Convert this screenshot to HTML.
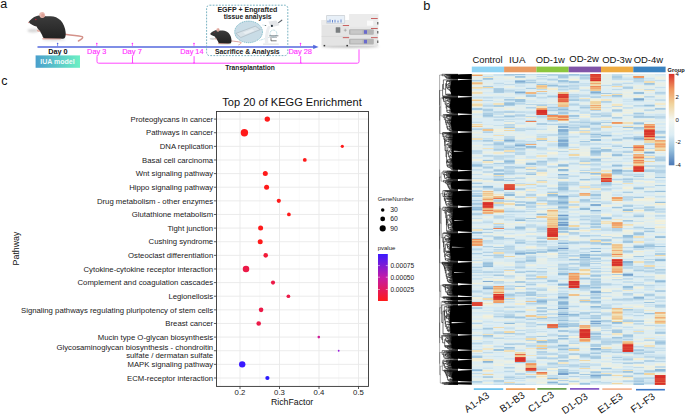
<!DOCTYPE html><html><head><meta charset="utf-8"><style>html,body{margin:0;padding:0;background:#fff;width:685px;height:415px;overflow:hidden}svg{display:block}</style></head><body><svg width="685" height="415" viewBox="0 0 685 415"><defs><filter id="blur1" x="-50%" y="-50%" width="200%" height="200%"><feGaussianBlur stdDeviation="0.8"/></filter><filter id="blur05" x="-20%" y="-20%" width="140%" height="140%"><feGaussianBlur stdDeviation="0.35"/></filter><linearGradient id="mg" x1="0" y1="0" x2="0" y2="1"><stop offset="0" stop-color="#3c3c3c"/><stop offset="1" stop-color="#222"/></linearGradient><linearGradient id="iua" x1="0" y1="0" x2="1" y2="0"><stop offset="0" stop-color="#4a9fcc"/><stop offset="1" stop-color="#6cf0c4"/></linearGradient><linearGradient id="pv" x1="0" y1="0" x2="0" y2="1"><stop offset="0" stop-color="#3a1aff"/><stop offset="0.5" stop-color="#c41aa8"/><stop offset="1" stop-color="#ff1a1a"/></linearGradient><linearGradient id="hl" x1="0" y1="0" x2="0" y2="1"><stop offset="0" stop-color="#d8302a"/><stop offset="0.1667" stop-color="#f09860"/><stop offset="0.333" stop-color="#f0d49e"/><stop offset="0.5" stop-color="#f3f6f0"/><stop offset="0.667" stop-color="#dcedf4"/><stop offset="0.833" stop-color="#94bedb"/><stop offset="1" stop-color="#4a78b6"/></linearGradient></defs><text x="0.37" y="7.60" font-size="12.50" font-family="Liberation Sans" fill="#111" >a</text><text x="423.18" y="9.80" font-size="12.80" font-family="Liberation Sans" fill="#111" >b</text><text x="1.37" y="85.00" font-size="12.50" font-family="Liberation Sans" fill="#111" >c</text><g transform="translate(0,0) scale(1.0)"><ellipse cx="33" cy="30.6" rx="5.5" ry="1.9" fill="#c4c4c4" opacity="0.7" filter="url(#blur1)"/><ellipse cx="54" cy="39.6" rx="12" ry="1.3" fill="#d0d0d0" opacity="0.7" filter="url(#blur1)"/><path d="M64.5,34.2 C71,34.9 77,35.6 82.2,36.6 C83.6,37.6 81.8,39.4 78.4,41.0" fill="none" stroke="#d4928a" stroke-width="1.45" stroke-linecap="round"/><path d="M42,38.9 C43,37 46,36.4 50,36.9 L60.8,37.2 C61.6,38 61.4,39 60.5,39.4 L43,39.6 Z" fill="#e0a8a0"/><path d="M28.5,22.3 C30,20 33,17.2 36.8,16.1 C38.5,15.5 40,15.2 41.5,15.3 C45,16.6 47.5,16.2 50,16.2 C54,16 57.7,17.5 60.8,20.5 C63.5,23.5 65.3,28 65.6,32 C65.9,35 65.6,37 64.5,38.2 C63,38.8 61.6,38.8 60,38.6 L45,38.3 C43.4,37.8 42.6,37.3 42.3,35.5 C41,33 39.5,30.5 37.9,28.8 C37.2,27.8 36.8,27 36.6,26.6 C34,25.8 31,24.8 28.5,22.3 Z" fill="url(#mg)"/><path d="M36.6,29.4 C37.8,29.6 39.6,30.2 40.6,31.4 C39.6,32 38.2,31.8 37.2,31.2 Z" fill="#e2a89c"/><ellipse cx="42.2" cy="15.0" rx="2.9" ry="3.0" fill="#e9b9b0" transform="rotate(-20 42.2 15.0)"/><ellipse cx="42.8" cy="15.6" rx="1.6" ry="2.0" fill="#daa096" transform="rotate(-20 42.8 15.6)"/><circle cx="28.7" cy="22.4" r="0.75" fill="#e6a6a0"/><circle cx="35.8" cy="19.5" r="0.75" fill="#c0203a"/></g><path d="M37.5,46.9 L314,46.9" stroke="#5468de" stroke-width="1.55"/><path d="M313.2,44.7 L318.6,46.9 L313.2,49.1 Z" fill="#5468de"/><path d="M57.6,43.6 L57.6,46.3" stroke="#5468de" stroke-width="0.7"/><circle cx="57.6" cy="43.5" r="0.8" fill="#5468de"/><path d="M96.8,43.6 L96.8,46.3" stroke="#ff33ff" stroke-width="0.7"/><circle cx="96.8" cy="43.5" r="0.8" fill="#ff33ff"/><path d="M132.4,43.6 L132.4,46.3" stroke="#ff33ff" stroke-width="0.7"/><circle cx="132.4" cy="43.5" r="0.8" fill="#ff33ff"/><path d="M194.0,43.6 L194.0,46.3" stroke="#ff33ff" stroke-width="0.7"/><circle cx="194.0" cy="43.5" r="0.8" fill="#ff33ff"/><path d="M300.5,43.6 L300.5,46.3" stroke="#ff33ff" stroke-width="0.7"/><circle cx="300.5" cy="43.5" r="0.8" fill="#ff33ff"/><text x="48.21" y="53.70" font-size="7.30" font-weight="bold" font-family="Liberation Sans" fill="#111" >Day 0</text><text x="87.10" y="53.70" font-size="7.36" font-family="Liberation Sans" fill="#ff33ff" stroke="#ff33ff" stroke-width="0.15">Day 3</text><text x="122.18" y="53.70" font-size="7.54" font-family="Liberation Sans" fill="#ff33ff" stroke="#ff33ff" stroke-width="0.15">Day 7</text><text x="180.30" y="53.70" font-size="7.33" font-family="Liberation Sans" fill="#ff33ff" stroke="#ff33ff" stroke-width="0.15">Day 14</text><text x="288.39" y="53.70" font-size="7.46" font-family="Liberation Sans" fill="#ff33ff" stroke="#ff33ff" stroke-width="0.15">Day 28</text><rect x="35.6" y="55.4" width="44.4" height="12.4" fill="url(#iua)" filter="url(#blur05)"/><text x="40.23" y="63.90" font-size="7.01" font-weight="bold" font-family="Liberation Sans" fill="#fff" fill-opacity="0.92">IUA model</text><path d="M97,56.2 L97,61.6 Q97,63.2 98.6,63.2 L357.4,63.2 Q359,63.2 359,61.6 L359,49.4" fill="none" stroke="#ff33ff" stroke-width="0.9"/><path d="M132.5,56.2 L132.5,62.4 Q132.5,63.2 133.3,63.2 M132.5,62.4 Q132.5,63.2 131.7,63.2" fill="none" stroke="#ff33ff" stroke-width="0.9"/><path d="M194.1,56.2 L194.1,62.4 Q194.1,63.2 194.9,63.2 M194.1,62.4 Q194.1,63.2 193.29999999999998,63.2" fill="none" stroke="#ff33ff" stroke-width="0.9"/><path d="M300.7,56.2 L300.7,62.4 Q300.7,63.2 301.5,63.2 M300.7,62.4 Q300.7,63.2 299.9,63.2" fill="none" stroke="#ff33ff" stroke-width="0.9"/><text x="225.33" y="69.60" font-size="6.66" font-weight="bold" font-family="Liberation Sans" fill="#222" >Transplantation</text><rect x="206.6" y="5.2" width="81.2" height="50.4" rx="3" ry="3" fill="none" stroke="#6aaabb" stroke-width="0.9" stroke-dasharray="1.8,1.3"/><text x="217.43" y="12.40" font-size="7.06" font-weight="bold" font-family="Liberation Sans" fill="#222" >EGFP + Engrafted</text><text x="223.72" y="19.00" font-size="6.73" font-weight="bold" font-family="Liberation Sans" fill="#222" >tissue analysis</text><text x="215.00" y="53.80" font-size="6.79" font-weight="bold" font-family="Liberation Sans" fill="#222" >Sacrifice &amp; Analysis</text><g transform="translate(193.7,21.2) scale(0.575)"><ellipse cx="33" cy="30.6" rx="5.5" ry="1.9" fill="#c4c4c4" opacity="0.7" filter="url(#blur1)"/><ellipse cx="54" cy="39.6" rx="12" ry="1.3" fill="#d0d0d0" opacity="0.7" filter="url(#blur1)"/><path d="M64.5,34.2 C71,34.9 77,35.6 82.2,36.6 C83.6,37.6 81.8,39.4 78.4,41.0" fill="none" stroke="#d4928a" stroke-width="1.45" stroke-linecap="round"/><path d="M42,38.9 C43,37 46,36.4 50,36.9 L60.8,37.2 C61.6,38 61.4,39 60.5,39.4 L43,39.6 Z" fill="#e0a8a0"/><path d="M28.5,22.3 C30,20 33,17.2 36.8,16.1 C38.5,15.5 40,15.2 41.5,15.3 C45,16.6 47.5,16.2 50,16.2 C54,16 57.7,17.5 60.8,20.5 C63.5,23.5 65.3,28 65.6,32 C65.9,35 65.6,37 64.5,38.2 C63,38.8 61.6,38.8 60,38.6 L45,38.3 C43.4,37.8 42.6,37.3 42.3,35.5 C41,33 39.5,30.5 37.9,28.8 C37.2,27.8 36.8,27 36.6,26.6 C34,25.8 31,24.8 28.5,22.3 Z" fill="url(#mg)"/><path d="M36.6,29.4 C37.8,29.6 39.6,30.2 40.6,31.4 C39.6,32 38.2,31.8 37.2,31.2 Z" fill="#e2a89c"/><ellipse cx="42.2" cy="15.0" rx="2.9" ry="3.0" fill="#e9b9b0" transform="rotate(-20 42.2 15.0)"/><ellipse cx="42.8" cy="15.6" rx="1.6" ry="2.0" fill="#daa096" transform="rotate(-20 42.8 15.6)"/><circle cx="28.7" cy="22.4" r="0.75" fill="#e6a6a0"/><circle cx="35.8" cy="19.5" r="0.75" fill="#c0203a"/></g><ellipse cx="248.6" cy="31.9" rx="13.9" ry="10.8" fill="#c9dce6" stroke="#5aa8b8" stroke-width="0.75" stroke-dasharray="1.1,0.8"/><path d="M236,33.4 L255.3,26.2 L260.3,29.5 L240.8,37.5 Z" fill="#d9e3e9" stroke="#98a6ae" stroke-width="0.45"/><path d="M243,32.6 L252,29.2 L254.5,30.8 L245.5,34.3 Z" fill="#e8eef2"/><path d="M262.6,25 L265.7,25.6 M259.5,40.4 L268.8,37.4" stroke="#5aa8b8" stroke-width="0.45" stroke-dasharray="0.9,0.6"/><g><rect x="263" y="43.4" width="15.8" height="1.4" rx="0.4" fill="#e2e4e6"/><path d="M265,43.4 C264.6,37 265.5,30 268.2,25.8 L270.6,26.6 C268.6,31 267.8,37 268.4,43.4 Z" fill="#eceef0"/><path d="M268.4,21.6 L276.2,20.4 L279.6,25.2 L271,27.2 Z" fill="#e4e6e9"/><path d="M278.6,22.6 L281.8,20.2" stroke="#5a6068" stroke-width="1.1" stroke-linecap="round"/><circle cx="271.9" cy="25.9" r="1.05" fill="#26303a"/><circle cx="265.7" cy="25.5" r="0.5" fill="#333"/><circle cx="273.4" cy="33.5" r="3.4" fill="none" stroke="#5aa8b8" stroke-width="0.5" stroke-dasharray="0.9,0.6"/><path d="M269.2,35.8 L278.4,35.8" stroke="#2f3a44" stroke-width="0.6"/><path d="M269.6,37.3 L277,37.3" stroke="#4a5560" stroke-width="0.45"/><path d="M271,38.2 L271,40.8 L276.6,40.8" fill="none" stroke="#333" stroke-width="0.65"/></g><ellipse cx="350" cy="46.3" rx="29" ry="1.7" fill="#b8b8b8" opacity="0.8" filter="url(#blur1)"/><g><rect x="321.5" y="20.1" width="28" height="25.3" fill="#e4e4e4"/><rect x="321.5" y="20.1" width="28" height="5" fill="#ececec"/><path d="M321.5,36.4 L349.5,36.4" stroke="#cfcfcf" stroke-width="0.5"/><rect x="326.1" y="15.1" width="19" height="8.6" rx="0.8" fill="#d0d4d8"/><rect x="326.9" y="15.9" width="17.4" height="7" fill="#e8f0f8"/><path d="M328,22.5 L328,20.5 M330,22.5 L330,19.5 M332.5,22.5 L332.5,20 M335,22.5 L335,19.8 M338,22.5 L338,20.5 M341,22.5 L341,19.5" stroke="#5a7cc8" stroke-width="0.9"/><rect x="335.7" y="27.2" width="4.6" height="5.6" rx="0.5" fill="#7a7e80"/><path d="M343.8,30.2 L346.8,30.2 M345.3,28.7 L345.3,31.7" stroke="#9a9a9a" stroke-width="0.6"/><rect x="342.8" y="25.1" width="6.6" height="0.8" fill="#c04040"/><rect x="342.8" y="37.3" width="6.6" height="0.8" fill="#c04040"/><rect x="349.4" y="14" width="28.8" height="31.9" fill="#e6e6e6"/><rect x="349.4" y="14" width="28.8" height="12.7" fill="#ebebeb"/><rect x="371" y="18.1" width="6.7" height="0.8" fill="#c04040"/><rect x="367" y="20.6" width="6.2" height="5.1" fill="#fafafa"/><rect x="371" y="28" width="6.7" height="0.8" fill="#c04040"/><rect x="371" y="37.3" width="6.7" height="0.8" fill="#c04040"/><rect x="349" y="29.2" width="24.8" height="5.6" rx="1" fill="#b4b4b4"/><rect x="349" y="38.8" width="24.8" height="5.6" rx="1" fill="#b4b4b4"/><rect x="350.5" y="30.2" width="12" height="3.6" fill="#c8c8c8"/><rect x="350.5" y="39.8" width="12" height="3.6" fill="#c8c8c8"/><rect x="364" y="30.2" width="3" height="3.6" fill="#6a6acc"/><rect x="364" y="39.8" width="3" height="3.6" fill="#6a6acc"/><rect x="323.6" y="44.9" width="1.6" height="1.5" fill="#333"/><rect x="346.4" y="44.9" width="1.6" height="1.5" fill="#333"/><rect x="377.3" y="22" width="1" height="2.5" fill="#444"/><rect x="377.3" y="31" width="1" height="2.5" fill="#444"/><rect x="377.3" y="40.5" width="1" height="2.5" fill="#444"/></g><path d="M220.25,111.5 L220.25,386.4" stroke="#f3f3f3" stroke-width="0.5"/><path d="M259.75,111.5 L259.75,386.4" stroke="#f3f3f3" stroke-width="0.5"/><path d="M299.25,111.5 L299.25,386.4" stroke="#f3f3f3" stroke-width="0.5"/><path d="M338.75,111.5 L338.75,386.4" stroke="#f3f3f3" stroke-width="0.5"/><path d="M240.00,111.5 L240.00,386.4" stroke="#e9e9e9" stroke-width="0.9"/><path d="M279.50,111.5 L279.50,386.4" stroke="#e9e9e9" stroke-width="0.9"/><path d="M319.00,111.5 L319.00,386.4" stroke="#e9e9e9" stroke-width="0.9"/><path d="M358.50,111.5 L358.50,386.4" stroke="#e9e9e9" stroke-width="0.9"/><path d="M216.5,119.10 L368.5,119.10" stroke="#e9e9e9" stroke-width="0.9"/><path d="M216.5,132.72 L368.5,132.72" stroke="#e9e9e9" stroke-width="0.9"/><path d="M216.5,146.35 L368.5,146.35" stroke="#e9e9e9" stroke-width="0.9"/><path d="M216.5,159.97 L368.5,159.97" stroke="#e9e9e9" stroke-width="0.9"/><path d="M216.5,173.60 L368.5,173.60" stroke="#e9e9e9" stroke-width="0.9"/><path d="M216.5,187.22 L368.5,187.22" stroke="#e9e9e9" stroke-width="0.9"/><path d="M216.5,200.85 L368.5,200.85" stroke="#e9e9e9" stroke-width="0.9"/><path d="M216.5,214.47 L368.5,214.47" stroke="#e9e9e9" stroke-width="0.9"/><path d="M216.5,228.10 L368.5,228.10" stroke="#e9e9e9" stroke-width="0.9"/><path d="M216.5,241.72 L368.5,241.72" stroke="#e9e9e9" stroke-width="0.9"/><path d="M216.5,255.35 L368.5,255.35" stroke="#e9e9e9" stroke-width="0.9"/><path d="M216.5,268.98 L368.5,268.98" stroke="#e9e9e9" stroke-width="0.9"/><path d="M216.5,282.60 L368.5,282.60" stroke="#e9e9e9" stroke-width="0.9"/><path d="M216.5,296.23 L368.5,296.23" stroke="#e9e9e9" stroke-width="0.9"/><path d="M216.5,309.85 L368.5,309.85" stroke="#e9e9e9" stroke-width="0.9"/><path d="M216.5,323.48 L368.5,323.48" stroke="#e9e9e9" stroke-width="0.9"/><path d="M216.5,337.10 L368.5,337.10" stroke="#e9e9e9" stroke-width="0.9"/><path d="M216.5,350.73 L368.5,350.73" stroke="#e9e9e9" stroke-width="0.9"/><path d="M216.5,364.35 L368.5,364.35" stroke="#e9e9e9" stroke-width="0.9"/><path d="M216.5,377.98 L368.5,377.98" stroke="#e9e9e9" stroke-width="0.9"/><rect x="216.5" y="111.5" width="152.0" height="274.9" fill="none" stroke="#333" stroke-width="0.9"/><path d="M213.9,119.10 L216.5,119.10" stroke="#333" stroke-width="0.8"/><text x="213.2" y="121.85" font-size="7.75" text-anchor="end" font-family="Liberation Sans" fill="#1a1a1a">Proteoglycans in cancer</text><path d="M213.9,132.72 L216.5,132.72" stroke="#333" stroke-width="0.8"/><text x="213.2" y="135.47" font-size="7.75" text-anchor="end" font-family="Liberation Sans" fill="#1a1a1a">Pathways in cancer</text><path d="M213.9,146.35 L216.5,146.35" stroke="#333" stroke-width="0.8"/><text x="213.2" y="149.10" font-size="7.75" text-anchor="end" font-family="Liberation Sans" fill="#1a1a1a">DNA replication</text><path d="M213.9,159.97 L216.5,159.97" stroke="#333" stroke-width="0.8"/><text x="213.2" y="162.72" font-size="7.75" text-anchor="end" font-family="Liberation Sans" fill="#1a1a1a">Basal cell carcinoma</text><path d="M213.9,173.60 L216.5,173.60" stroke="#333" stroke-width="0.8"/><text x="213.2" y="176.35" font-size="7.75" text-anchor="end" font-family="Liberation Sans" fill="#1a1a1a">Wnt signaling pathway</text><path d="M213.9,187.22 L216.5,187.22" stroke="#333" stroke-width="0.8"/><text x="213.2" y="189.97" font-size="7.75" text-anchor="end" font-family="Liberation Sans" fill="#1a1a1a">Hippo signaling pathway</text><path d="M213.9,200.85 L216.5,200.85" stroke="#333" stroke-width="0.8"/><text x="213.2" y="203.60" font-size="7.75" text-anchor="end" font-family="Liberation Sans" fill="#1a1a1a">Drug metabolism - other enzymes</text><path d="M213.9,214.47 L216.5,214.47" stroke="#333" stroke-width="0.8"/><text x="213.2" y="217.22" font-size="7.75" text-anchor="end" font-family="Liberation Sans" fill="#1a1a1a">Glutathione metabolism</text><path d="M213.9,228.10 L216.5,228.10" stroke="#333" stroke-width="0.8"/><text x="213.2" y="230.85" font-size="7.75" text-anchor="end" font-family="Liberation Sans" fill="#1a1a1a">Tight junction</text><path d="M213.9,241.72 L216.5,241.72" stroke="#333" stroke-width="0.8"/><text x="213.2" y="244.47" font-size="7.75" text-anchor="end" font-family="Liberation Sans" fill="#1a1a1a">Cushing syndrome</text><path d="M213.9,255.35 L216.5,255.35" stroke="#333" stroke-width="0.8"/><text x="213.2" y="258.10" font-size="7.75" text-anchor="end" font-family="Liberation Sans" fill="#1a1a1a">Osteoclast differentiation</text><path d="M213.9,268.98 L216.5,268.98" stroke="#333" stroke-width="0.8"/><text x="213.2" y="271.73" font-size="7.75" text-anchor="end" font-family="Liberation Sans" fill="#1a1a1a">Cytokine-cytokine receptor interaction</text><path d="M213.9,282.60 L216.5,282.60" stroke="#333" stroke-width="0.8"/><text x="213.2" y="285.35" font-size="7.75" text-anchor="end" font-family="Liberation Sans" fill="#1a1a1a">Complement and coagulation cascades</text><path d="M213.9,296.23 L216.5,296.23" stroke="#333" stroke-width="0.8"/><text x="213.2" y="298.98" font-size="7.75" text-anchor="end" font-family="Liberation Sans" fill="#1a1a1a">Legionellosis</text><path d="M213.9,309.85 L216.5,309.85" stroke="#333" stroke-width="0.8"/><text x="213.2" y="312.60" font-size="7.75" text-anchor="end" font-family="Liberation Sans" fill="#1a1a1a">Signaling pathways regulating pluripotency of stem cells</text><path d="M213.9,323.48 L216.5,323.48" stroke="#333" stroke-width="0.8"/><text x="213.2" y="326.23" font-size="7.75" text-anchor="end" font-family="Liberation Sans" fill="#1a1a1a">Breast cancer</text><path d="M213.9,337.10 L216.5,337.10" stroke="#333" stroke-width="0.8"/><text x="213.2" y="339.85" font-size="7.75" text-anchor="end" font-family="Liberation Sans" fill="#1a1a1a">Mucin type O-glycan biosynthesis</text><path d="M213.9,350.73 L216.5,350.73" stroke="#333" stroke-width="0.8"/><path d="M213.9,364.35 L216.5,364.35" stroke="#333" stroke-width="0.8"/><text x="213.2" y="367.10" font-size="7.75" text-anchor="end" font-family="Liberation Sans" fill="#1a1a1a">MAPK signaling pathway</text><path d="M213.9,377.98 L216.5,377.98" stroke="#333" stroke-width="0.8"/><text x="213.2" y="380.73" font-size="7.75" text-anchor="end" font-family="Liberation Sans" fill="#1a1a1a">ECM-receptor interaction</text><text x="213.2" y="349.53" font-size="7.75" text-anchor="end" font-family="Liberation Sans" fill="#1a1a1a">Glycosaminoglycan biosynthesis - chondroitin</text><text x="213.2" y="357.62" font-size="7.75" text-anchor="end" font-family="Liberation Sans" fill="#1a1a1a">sulfate / dermatan sulfate</text><path d="M240.00,386.4 L240.00,389.0" stroke="#333" stroke-width="0.8"/><text x="240.00" y="395.1" font-size="7.75" text-anchor="middle" font-family="Liberation Sans" fill="#1a1a1a">0.2</text><path d="M279.50,386.4 L279.50,389.0" stroke="#333" stroke-width="0.8"/><text x="279.50" y="395.1" font-size="7.75" text-anchor="middle" font-family="Liberation Sans" fill="#1a1a1a">0.3</text><path d="M319.00,386.4 L319.00,389.0" stroke="#333" stroke-width="0.8"/><text x="319.00" y="395.1" font-size="7.75" text-anchor="middle" font-family="Liberation Sans" fill="#1a1a1a">0.4</text><path d="M358.50,386.4 L358.50,389.0" stroke="#333" stroke-width="0.8"/><text x="358.50" y="395.1" font-size="7.75" text-anchor="middle" font-family="Liberation Sans" fill="#1a1a1a">0.5</text><text x="270.88" y="404.60" font-size="8.78" font-family="Liberation Sans" fill="#111" >RichFactor</text><text x="222.35" y="105.80" font-size="11.05" font-family="Liberation Sans" fill="#111" >Top 20 of KEGG Enrichment</text><text transform="translate(18.60,248.50) rotate(-90)" font-size="8.8" text-anchor="middle" font-family="Liberation Sans" fill="#111">Pathway</text><circle cx="267.3" cy="119.10" r="2.7" fill="#ff1a1a"/><circle cx="244.4" cy="132.72" r="3.7" fill="#ff1a1a"/><circle cx="342.3" cy="146.35" r="1.6" fill="#ff1a1a"/><circle cx="304.8" cy="159.97" r="1.9" fill="#ff1a1a"/><circle cx="265.3" cy="173.60" r="2.5" fill="#ff1a1a"/><circle cx="266.6" cy="187.22" r="2.5" fill="#ff1a1a"/><circle cx="278.8" cy="200.85" r="2.1" fill="#ff1a1a"/><circle cx="288.9" cy="214.47" r="1.85" fill="#ff1a1a"/><circle cx="260.6" cy="228.10" r="2.5" fill="#ff1a1a"/><circle cx="260.2" cy="241.72" r="2.5" fill="#ff1a1a"/><circle cx="265.7" cy="255.35" r="2.3" fill="#f21a38"/><circle cx="246.0" cy="268.98" r="3.25" fill="#ec1a48"/><circle cx="273.0" cy="282.60" r="2.05" fill="#ec1a48"/><circle cx="288.4" cy="296.23" r="1.85" fill="#ec1a48"/><circle cx="261.1" cy="309.85" r="2.3" fill="#ec1a48"/><circle cx="258.7" cy="323.48" r="2.3" fill="#ec1a48"/><circle cx="318.8" cy="337.10" r="1.3" fill="#d01a98"/><circle cx="338.7" cy="350.73" r="0.9" fill="#9a1ade"/><circle cx="242.2" cy="364.35" r="3.2" fill="#3a1aff"/><circle cx="267.4" cy="377.98" r="2.1" fill="#2a1aff"/><text x="377.7" y="201.2" font-size="6.0" font-family="Liberation Sans" fill="#1a1a1a">GeneNumber</text><circle cx="382.7" cy="209.9" r="1.75" fill="#000"/><text x="390.2" y="212.3" font-size="6.8" font-family="Liberation Sans" fill="#1a1a1a">30</text><circle cx="382.7" cy="218.9" r="2.4" fill="#000"/><text x="390.2" y="221.3" font-size="6.8" font-family="Liberation Sans" fill="#1a1a1a">60</text><circle cx="382.7" cy="228.4" r="3.05" fill="#000"/><text x="390.2" y="230.8" font-size="6.8" font-family="Liberation Sans" fill="#1a1a1a">90</text><text x="377.7" y="250.0" font-size="6.0" font-family="Liberation Sans" fill="#1a1a1a">pvalue</text><rect x="378" y="254" width="9.8" height="47" fill="url(#pv)"/><path d="M378,265.6 L380,265.6 M385.8,265.6 L387.8,265.6" stroke="#fff" stroke-width="0.5"/><text x="390.4" y="267.90000000000003" font-size="6.55" font-family="Liberation Sans" fill="#1a1a1a">0.00075</text><path d="M378,277.2 L380,277.2 M385.8,277.2 L387.8,277.2" stroke="#fff" stroke-width="0.5"/><text x="390.4" y="279.5" font-size="6.55" font-family="Liberation Sans" fill="#1a1a1a">0.00050</text><path d="M378,289.5 L380,289.5 M385.8,289.5 L387.8,289.5" stroke="#fff" stroke-width="0.5"/><text x="390.4" y="291.8" font-size="6.55" font-family="Liberation Sans" fill="#1a1a1a">0.00025</text><rect x="471.8" y="73.9" width="193.8" height="311.0" fill="#dcedf4"/><path fill="#5f8cc1" d="M557.9 247.9h10.77v1.0h-10.77z"/><path fill="#6d99c8" d="M557.9 214.9h10.77v1.0h-10.77zM557.9 223.9h10.77v1.0h-10.77z"/><path fill="#74a0cb" d="M557.9 221.9h10.77v1.0h-10.77zM557.9 224.9h10.77v1.0h-10.77zM557.9 307.9h10.77v1.0h-10.77zM557.9 313.9h10.77v1.0h-10.77zM557.9 372.9h10.77v2.0h-10.77zM622.5 273.9h10.77v1.0h-10.77z"/><path fill="#7ba7cf" d="M482.6 287.9h10.77v1.0h-10.77zM557.9 139.9h10.77v1.0h-10.77zM557.9 195.9h10.77v1.0h-10.77zM557.9 296.9h10.77v1.0h-10.77zM590.2 320.9h10.77v1.0h-10.77zM590.2 322.9h10.77v1.0h-10.77zM590.2 374.9h10.77v1.0h-10.77zM633.3 98.9h10.77v1.0h-10.77z"/><path fill="#82add2" d="M482.6 280.9h10.77v1.0h-10.77zM504.1 139.9h10.77v1.0h-10.77zM514.9 80.9h10.77v1.0h-10.77zM514.9 91.9h10.77v1.0h-10.77zM514.9 144.9h10.77v1.0h-10.77zM514.9 252.9h10.77v1.0h-10.77zM557.9 129.9h10.77v1.0h-10.77zM557.9 140.9h10.77v1.0h-10.77zM557.9 142.9h10.77v3.0h-10.77zM557.9 201.9h10.77v1.0h-10.77zM557.9 218.9h10.77v1.0h-10.77zM557.9 283.9h10.77v1.0h-10.77zM590.2 91.9h10.77v1.0h-10.77zM590.2 203.9h10.77v2.0h-10.77zM590.2 290.9h10.77v2.0h-10.77zM590.2 347.9h10.77v1.0h-10.77zM611.8 169.9h10.77v1.0h-10.77zM622.5 274.9h10.77v1.0h-10.77zM644.1 151.9h10.77v1.0h-10.77z"/><path fill="#89b4d6" d="M482.6 360.9h10.77v1.0h-10.77zM536.4 300.9h10.77v1.0h-10.77zM547.2 381.9h10.77v1.0h-10.77zM557.9 125.9h10.77v2.0h-10.77zM557.9 128.9h10.77v1.0h-10.77zM557.9 130.9h10.77v1.0h-10.77zM557.9 173.9h10.77v1.0h-10.77zM557.9 242.9h10.77v1.0h-10.77zM557.9 301.9h10.77v2.0h-10.77zM557.9 325.9h10.77v1.0h-10.77zM579.5 256.9h10.77v1.0h-10.77zM590.2 209.9h10.77v1.0h-10.77zM590.2 250.9h10.77v1.0h-10.77zM622.5 260.9h10.77v2.0h-10.77zM633.3 137.9h10.77v1.0h-10.77zM633.3 296.9h10.77v1.0h-10.77z"/><path fill="#90bbd9" d="M471.8 208.9h10.77v1.0h-10.77zM471.8 231.9h10.77v1.0h-10.77zM471.8 369.9h10.77v1.0h-10.77zM482.6 185.9h10.77v1.0h-10.77zM482.6 265.9h10.77v1.0h-10.77zM504.1 160.9h10.77v1.0h-10.77zM504.1 193.9h10.77v2.0h-10.77zM504.1 322.9h10.77v1.0h-10.77zM514.9 219.9h10.77v1.0h-10.77zM525.6 145.9h10.77v1.0h-10.77zM536.4 213.9h10.77v1.0h-10.77zM547.2 249.9h10.77v1.0h-10.77zM547.2 377.9h10.77v1.0h-10.77zM557.9 108.9h10.77v1.0h-10.77zM557.9 164.9h10.77v1.0h-10.77zM557.9 168.9h10.77v2.0h-10.77zM557.9 196.9h10.77v1.0h-10.77zM557.9 202.9h10.77v1.0h-10.77zM557.9 206.9h10.77v1.0h-10.77zM557.9 217.9h10.77v1.0h-10.77zM557.9 272.9h10.77v2.0h-10.77zM557.9 323.9h10.77v1.0h-10.77zM557.9 344.9h10.77v1.0h-10.77zM568.7 313.9h10.77v1.0h-10.77zM579.5 207.9h10.77v2.0h-10.77zM579.5 253.9h10.77v2.0h-10.77zM590.2 138.9h10.77v2.0h-10.77zM590.2 150.9h10.77v1.0h-10.77zM590.2 305.9h10.77v1.0h-10.77zM590.2 348.9h10.77v1.0h-10.77zM601.0 134.9h10.77v1.0h-10.77zM601.0 217.9h10.77v1.0h-10.77zM611.8 170.9h10.77v1.0h-10.77zM611.8 321.9h10.77v1.0h-10.77zM622.5 209.9h10.77v1.0h-10.77zM633.3 97.9h10.77v1.0h-10.77zM633.3 245.9h10.77v2.0h-10.77zM654.8 259.9h10.77v1.0h-10.77zM654.8 280.9h10.77v1.0h-10.77zM654.8 368.9h10.77v2.0h-10.77z"/><path fill="#97c0dc" d="M471.8 164.9h10.77v1.0h-10.77zM471.8 206.9h10.77v1.0h-10.77zM482.6 262.9h10.77v1.0h-10.77zM482.6 286.9h10.77v1.0h-10.77zM504.1 102.9h10.77v2.0h-10.77zM514.9 81.9h10.77v1.0h-10.77zM514.9 226.9h10.77v1.0h-10.77zM525.6 146.9h10.77v1.0h-10.77zM525.6 162.9h10.77v2.0h-10.77zM525.6 251.9h10.77v2.0h-10.77zM536.4 299.9h10.77v1.0h-10.77zM536.4 340.9h10.77v1.0h-10.77zM547.2 84.9h10.77v1.0h-10.77zM547.2 193.9h10.77v2.0h-10.77zM557.9 138.9h10.77v1.0h-10.77zM557.9 145.9h10.77v1.0h-10.77zM557.9 186.9h10.77v3.0h-10.77zM557.9 200.9h10.77v1.0h-10.77zM557.9 222.9h10.77v1.0h-10.77zM557.9 227.9h10.77v2.0h-10.77zM557.9 303.9h10.77v1.0h-10.77zM557.9 319.9h10.77v1.0h-10.77zM557.9 337.9h10.77v1.0h-10.77zM557.9 348.9h10.77v1.0h-10.77zM557.9 383.9h10.77v1.0h-10.77zM590.2 133.9h10.77v1.0h-10.77zM590.2 151.9h10.77v1.0h-10.77zM590.2 158.9h10.77v1.0h-10.77zM590.2 172.9h10.77v1.0h-10.77zM590.2 286.9h10.77v1.0h-10.77zM590.2 300.9h10.77v1.0h-10.77zM590.2 332.9h10.77v1.0h-10.77zM590.2 375.9h10.77v1.0h-10.77zM611.8 154.9h10.77v1.0h-10.77zM611.8 164.9h10.77v1.0h-10.77zM622.5 126.9h10.77v1.0h-10.77zM622.5 146.9h10.77v1.0h-10.77zM622.5 234.9h10.77v2.0h-10.77zM622.5 285.9h10.77v2.0h-10.77zM633.3 91.9h10.77v2.0h-10.77zM633.3 122.9h10.77v1.0h-10.77zM633.3 297.9h10.77v1.0h-10.77zM633.3 383.9h10.77v1.0h-10.77zM644.1 104.9h10.77v1.0h-10.77zM654.8 190.9h10.77v1.0h-10.77zM654.8 201.9h10.77v1.0h-10.77zM654.8 236.9h10.77v1.0h-10.77zM654.8 258.9h10.77v1.0h-10.77z"/><path fill="#9ec5df" d="M471.8 194.9h10.77v2.0h-10.77zM471.8 207.9h10.77v1.0h-10.77zM482.6 77.9h10.77v1.0h-10.77zM482.6 114.9h10.77v1.0h-10.77zM482.6 159.9h10.77v1.0h-10.77zM482.6 186.9h10.77v1.0h-10.77zM482.6 263.9h10.77v2.0h-10.77zM482.6 334.9h10.77v1.0h-10.77zM482.6 361.9h10.77v1.0h-10.77zM493.3 169.9h10.77v1.0h-10.77zM493.3 172.9h10.77v2.0h-10.77zM493.3 178.9h10.77v1.0h-10.77zM493.3 348.9h10.77v2.0h-10.77zM504.1 115.9h10.77v1.0h-10.77zM504.1 140.9h10.77v1.0h-10.77zM504.1 346.9h10.77v1.0h-10.77zM514.9 73.9h10.77v1.0h-10.77zM514.9 75.9h10.77v1.0h-10.77zM514.9 98.9h10.77v3.0h-10.77zM514.9 143.9h10.77v1.0h-10.77zM514.9 227.9h10.77v1.0h-10.77zM514.9 253.9h10.77v1.0h-10.77zM514.9 316.9h10.77v1.0h-10.77zM525.6 173.9h10.77v1.0h-10.77zM525.6 201.9h10.77v1.0h-10.77zM525.6 259.9h10.77v1.0h-10.77zM536.4 83.9h10.77v1.0h-10.77zM536.4 301.9h10.77v1.0h-10.77zM536.4 341.9h10.77v1.0h-10.77zM557.9 79.9h10.77v2.0h-10.77zM557.9 132.9h10.77v2.0h-10.77zM557.9 183.9h10.77v1.0h-10.77zM557.9 197.9h10.77v1.0h-10.77zM557.9 226.9h10.77v1.0h-10.77zM557.9 230.9h10.77v1.0h-10.77zM557.9 284.9h10.77v1.0h-10.77zM557.9 297.9h10.77v1.0h-10.77zM557.9 300.9h10.77v1.0h-10.77zM557.9 370.9h10.77v2.0h-10.77zM568.7 73.9h10.77v1.0h-10.77zM568.7 114.9h10.77v1.0h-10.77zM568.7 258.9h10.77v1.0h-10.77zM568.7 314.9h10.77v1.0h-10.77zM579.5 74.9h10.77v1.0h-10.77zM579.5 178.9h10.77v1.0h-10.77zM579.5 263.9h10.77v1.0h-10.77zM579.5 277.9h10.77v1.0h-10.77zM579.5 284.9h10.77v2.0h-10.77zM579.5 382.9h10.77v1.0h-10.77zM590.2 90.9h10.77v1.0h-10.77zM590.2 122.9h10.77v1.0h-10.77zM590.2 193.9h10.77v2.0h-10.77zM590.2 223.9h10.77v1.0h-10.77zM590.2 247.9h10.77v1.0h-10.77zM590.2 274.9h10.77v1.0h-10.77zM590.2 371.9h10.77v1.0h-10.77zM601.0 148.9h10.77v2.0h-10.77zM601.0 242.9h10.77v2.0h-10.77zM601.0 367.9h10.77v1.0h-10.77zM601.0 374.9h10.77v1.0h-10.77zM611.8 94.9h10.77v1.0h-10.77zM611.8 153.9h10.77v1.0h-10.77zM611.8 171.9h10.77v2.0h-10.77zM611.8 206.9h10.77v1.0h-10.77zM611.8 322.9h10.77v1.0h-10.77zM611.8 336.9h10.77v1.0h-10.77zM622.5 208.9h10.77v1.0h-10.77zM622.5 240.9h10.77v1.0h-10.77zM622.5 334.9h10.77v1.0h-10.77zM622.5 370.9h10.77v1.0h-10.77zM633.3 138.9h10.77v1.0h-10.77zM633.3 187.9h10.77v1.0h-10.77zM633.3 232.9h10.77v2.0h-10.77zM644.1 82.9h10.77v1.0h-10.77zM644.1 244.9h10.77v2.0h-10.77zM644.1 301.9h10.77v1.0h-10.77zM644.1 312.9h10.77v1.0h-10.77zM654.8 136.9h10.77v1.0h-10.77zM654.8 176.9h10.77v1.0h-10.77zM654.8 235.9h10.77v1.0h-10.77zM654.8 245.9h10.77v1.0h-10.77zM654.8 341.9h10.77v1.0h-10.77z"/><path fill="#a5c9e1" d="M471.8 107.9h10.77v2.0h-10.77zM471.8 163.9h10.77v1.0h-10.77zM471.8 182.9h10.77v1.0h-10.77zM471.8 202.9h10.77v1.0h-10.77zM471.8 237.9h10.77v1.0h-10.77zM471.8 355.9h10.77v2.0h-10.77zM471.8 368.9h10.77v1.0h-10.77zM482.6 139.9h10.77v1.0h-10.77zM482.6 285.9h10.77v1.0h-10.77zM482.6 327.9h10.77v1.0h-10.77zM493.3 88.9h10.77v3.0h-10.77zM493.3 142.9h10.77v2.0h-10.77zM493.3 179.9h10.77v1.0h-10.77zM493.3 236.9h10.77v1.0h-10.77zM493.3 274.9h10.77v1.0h-10.77zM504.1 73.9h10.77v1.0h-10.77zM504.1 98.9h10.77v1.0h-10.77zM504.1 126.9h10.77v1.0h-10.77zM504.1 138.9h10.77v1.0h-10.77zM504.1 146.9h10.77v1.0h-10.77zM504.1 159.9h10.77v1.0h-10.77zM504.1 161.9h10.77v1.0h-10.77zM504.1 179.9h10.77v1.0h-10.77zM504.1 293.9h10.77v2.0h-10.77zM504.1 315.9h10.77v2.0h-10.77zM504.1 332.9h10.77v1.0h-10.77zM514.9 79.9h10.77v1.0h-10.77zM514.9 166.9h10.77v1.0h-10.77zM514.9 203.9h10.77v2.0h-10.77zM514.9 241.9h10.77v1.0h-10.77zM514.9 251.9h10.77v1.0h-10.77zM514.9 285.9h10.77v1.0h-10.77zM514.9 361.9h10.77v1.0h-10.77zM525.6 81.9h10.77v1.0h-10.77zM525.6 94.9h10.77v2.0h-10.77zM525.6 202.9h10.77v1.0h-10.77zM525.6 217.9h10.77v1.0h-10.77zM525.6 270.9h10.77v1.0h-10.77zM525.6 291.9h10.77v1.0h-10.77zM525.6 293.9h10.77v2.0h-10.77zM536.4 139.9h10.77v1.0h-10.77zM536.4 160.9h10.77v1.0h-10.77zM536.4 240.9h10.77v1.0h-10.77zM536.4 250.9h10.77v2.0h-10.77zM536.4 310.9h10.77v1.0h-10.77zM536.4 317.9h10.77v1.0h-10.77zM536.4 323.9h10.77v1.0h-10.77zM547.2 106.9h10.77v1.0h-10.77zM547.2 113.9h10.77v1.0h-10.77zM547.2 191.9h10.77v1.0h-10.77zM547.2 200.9h10.77v1.0h-10.77zM547.2 248.9h10.77v1.0h-10.77zM547.2 279.9h10.77v2.0h-10.77zM547.2 339.9h10.77v1.0h-10.77zM557.9 74.9h10.77v3.0h-10.77zM557.9 85.9h10.77v1.0h-10.77zM557.9 111.9h10.77v2.0h-10.77zM557.9 131.9h10.77v1.0h-10.77zM557.9 136.9h10.77v1.0h-10.77zM557.9 141.9h10.77v1.0h-10.77zM557.9 163.9h10.77v1.0h-10.77zM557.9 205.9h10.77v1.0h-10.77zM557.9 216.9h10.77v1.0h-10.77zM557.9 268.9h10.77v1.0h-10.77zM557.9 295.9h10.77v1.0h-10.77zM557.9 305.9h10.77v2.0h-10.77zM557.9 311.9h10.77v2.0h-10.77zM557.9 315.9h10.77v1.0h-10.77zM557.9 322.9h10.77v1.0h-10.77zM557.9 324.9h10.77v1.0h-10.77zM557.9 329.9h10.77v2.0h-10.77zM557.9 334.9h10.77v2.0h-10.77zM557.9 359.9h10.77v1.0h-10.77zM557.9 368.9h10.77v1.0h-10.77zM568.7 80.9h10.77v2.0h-10.77zM568.7 99.9h10.77v1.0h-10.77zM568.7 115.9h10.77v1.0h-10.77zM568.7 228.9h10.77v1.0h-10.77zM568.7 324.9h10.77v2.0h-10.77zM568.7 347.9h10.77v1.0h-10.77zM568.7 371.9h10.77v2.0h-10.77zM579.5 106.9h10.77v1.0h-10.77zM579.5 125.9h10.77v1.0h-10.77zM579.5 140.9h10.77v1.0h-10.77zM579.5 199.9h10.77v1.0h-10.77zM579.5 264.9h10.77v1.0h-10.77zM579.5 300.9h10.77v1.0h-10.77zM579.5 354.9h10.77v1.0h-10.77zM579.5 373.9h10.77v1.0h-10.77zM590.2 92.9h10.77v1.0h-10.77zM590.2 149.9h10.77v1.0h-10.77zM590.2 152.9h10.77v1.0h-10.77zM590.2 159.9h10.77v1.0h-10.77zM590.2 254.9h10.77v1.0h-10.77zM590.2 257.9h10.77v1.0h-10.77zM590.2 296.9h10.77v1.0h-10.77zM590.2 301.9h10.77v1.0h-10.77zM590.2 306.9h10.77v1.0h-10.77zM590.2 317.9h10.77v1.0h-10.77zM590.2 333.9h10.77v1.0h-10.77zM590.2 335.9h10.77v1.0h-10.77zM590.2 352.9h10.77v1.0h-10.77zM590.2 356.9h10.77v1.0h-10.77zM590.2 376.9h10.77v1.0h-10.77zM601.0 92.9h10.77v1.0h-10.77zM601.0 181.9h10.77v3.0h-10.77zM601.0 216.9h10.77v1.0h-10.77zM601.0 239.9h10.77v1.0h-10.77zM611.8 109.9h10.77v1.0h-10.77zM611.8 329.9h10.77v3.0h-10.77zM622.5 178.9h10.77v1.0h-10.77zM622.5 219.9h10.77v1.0h-10.77zM622.5 236.9h10.77v1.0h-10.77zM622.5 241.9h10.77v1.0h-10.77zM622.5 262.9h10.77v2.0h-10.77zM622.5 308.9h10.77v1.0h-10.77zM622.5 335.9h10.77v1.0h-10.77zM633.3 77.9h10.77v1.0h-10.77zM633.3 99.9h10.77v1.0h-10.77zM633.3 112.9h10.77v1.0h-10.77zM633.3 115.9h10.77v1.0h-10.77zM633.3 126.9h10.77v1.0h-10.77zM633.3 136.9h10.77v1.0h-10.77zM633.3 196.9h10.77v1.0h-10.77zM633.3 215.9h10.77v1.0h-10.77zM633.3 255.9h10.77v1.0h-10.77zM633.3 349.9h10.77v1.0h-10.77zM633.3 352.9h10.77v1.0h-10.77zM633.3 372.9h10.77v1.0h-10.77zM633.3 380.9h10.77v1.0h-10.77zM633.3 382.9h10.77v1.0h-10.77zM644.1 227.9h10.77v1.0h-10.77zM644.1 230.9h10.77v1.0h-10.77zM654.8 107.9h10.77v1.0h-10.77zM654.8 130.9h10.77v1.0h-10.77zM654.8 279.9h10.77v1.0h-10.77zM654.8 331.9h10.77v1.0h-10.77zM654.8 342.9h10.77v1.0h-10.77z"/><path fill="#accee3" d="M471.8 79.9h10.77v1.0h-10.77zM471.8 165.9h10.77v1.0h-10.77zM471.8 199.9h10.77v1.0h-10.77zM471.8 203.9h10.77v1.0h-10.77zM471.8 213.9h10.77v1.0h-10.77zM471.8 232.9h10.77v1.0h-10.77zM471.8 252.9h10.77v1.0h-10.77zM471.8 266.9h10.77v1.0h-10.77zM471.8 307.9h10.77v1.0h-10.77zM471.8 380.9h10.77v1.0h-10.77zM482.6 78.9h10.77v1.0h-10.77zM482.6 85.9h10.77v1.0h-10.77zM482.6 108.9h10.77v2.0h-10.77zM482.6 112.9h10.77v2.0h-10.77zM482.6 115.9h10.77v1.0h-10.77zM482.6 166.9h10.77v1.0h-10.77zM482.6 228.9h10.77v1.0h-10.77zM482.6 261.9h10.77v1.0h-10.77zM482.6 335.9h10.77v1.0h-10.77zM482.6 376.9h10.77v1.0h-10.77zM493.3 87.9h10.77v1.0h-10.77zM493.3 91.9h10.77v1.0h-10.77zM493.3 104.9h10.77v2.0h-10.77zM493.3 148.9h10.77v1.0h-10.77zM493.3 162.9h10.77v1.0h-10.77zM493.3 189.9h10.77v1.0h-10.77zM493.3 199.9h10.77v1.0h-10.77zM493.3 237.9h10.77v1.0h-10.77zM493.3 246.9h10.77v1.0h-10.77zM493.3 254.9h10.77v1.0h-10.77zM493.3 379.9h10.77v2.0h-10.77zM504.1 101.9h10.77v1.0h-10.77zM504.1 104.9h10.77v1.0h-10.77zM504.1 172.9h10.77v1.0h-10.77zM504.1 210.9h10.77v1.0h-10.77zM504.1 343.9h10.77v1.0h-10.77zM504.1 376.9h10.77v1.0h-10.77zM514.9 76.9h10.77v1.0h-10.77zM514.9 90.9h10.77v1.0h-10.77zM514.9 145.9h10.77v1.0h-10.77zM514.9 147.9h10.77v1.0h-10.77zM514.9 188.9h10.77v1.0h-10.77zM514.9 218.9h10.77v1.0h-10.77zM514.9 271.9h10.77v1.0h-10.77zM514.9 280.9h10.77v2.0h-10.77zM514.9 310.9h10.77v1.0h-10.77zM514.9 383.9h10.77v1.0h-10.77zM525.6 87.9h10.77v1.0h-10.77zM525.6 260.9h10.77v1.0h-10.77zM525.6 283.9h10.77v1.0h-10.77zM525.6 292.9h10.77v1.0h-10.77zM525.6 360.9h10.77v1.0h-10.77zM525.6 370.9h10.77v1.0h-10.77zM525.6 375.9h10.77v1.0h-10.77zM536.4 104.9h10.77v1.0h-10.77zM536.4 122.9h10.77v2.0h-10.77zM536.4 199.9h10.77v1.0h-10.77zM536.4 237.9h10.77v1.0h-10.77zM536.4 306.9h10.77v2.0h-10.77zM536.4 313.9h10.77v1.0h-10.77zM536.4 335.9h10.77v1.0h-10.77zM536.4 357.9h10.77v1.0h-10.77zM547.2 95.9h10.77v1.0h-10.77zM547.2 109.9h10.77v1.0h-10.77zM547.2 119.9h10.77v1.0h-10.77zM547.2 202.9h10.77v1.0h-10.77zM547.2 250.9h10.77v1.0h-10.77zM547.2 327.9h10.77v1.0h-10.77zM547.2 340.9h10.77v2.0h-10.77zM547.2 362.9h10.77v1.0h-10.77zM557.9 107.9h10.77v1.0h-10.77zM557.9 165.9h10.77v1.0h-10.77zM557.9 177.9h10.77v1.0h-10.77zM557.9 181.9h10.77v2.0h-10.77zM557.9 184.9h10.77v1.0h-10.77zM557.9 199.9h10.77v1.0h-10.77zM557.9 203.9h10.77v1.0h-10.77zM557.9 207.9h10.77v1.0h-10.77zM557.9 215.9h10.77v1.0h-10.77zM557.9 231.9h10.77v1.0h-10.77zM557.9 252.9h10.77v1.0h-10.77zM557.9 267.9h10.77v1.0h-10.77zM557.9 345.9h10.77v1.0h-10.77zM557.9 356.9h10.77v1.0h-10.77zM557.9 369.9h10.77v1.0h-10.77zM568.7 98.9h10.77v1.0h-10.77zM568.7 126.9h10.77v1.0h-10.77zM568.7 227.9h10.77v1.0h-10.77zM568.7 241.9h10.77v1.0h-10.77zM568.7 268.9h10.77v1.0h-10.77zM568.7 322.9h10.77v2.0h-10.77zM568.7 353.9h10.77v1.0h-10.77zM579.5 121.9h10.77v1.0h-10.77zM579.5 160.9h10.77v1.0h-10.77zM579.5 171.9h10.77v1.0h-10.77zM579.5 198.9h10.77v1.0h-10.77zM579.5 234.9h10.77v1.0h-10.77zM579.5 255.9h10.77v1.0h-10.77zM579.5 258.9h10.77v1.0h-10.77zM579.5 262.9h10.77v1.0h-10.77zM579.5 286.9h10.77v1.0h-10.77zM579.5 312.9h10.77v1.0h-10.77zM579.5 353.9h10.77v1.0h-10.77zM579.5 355.9h10.77v1.0h-10.77zM590.2 123.9h10.77v1.0h-10.77zM590.2 147.9h10.77v1.0h-10.77zM590.2 153.9h10.77v1.0h-10.77zM590.2 222.9h10.77v1.0h-10.77zM590.2 225.9h10.77v2.0h-10.77zM590.2 241.9h10.77v2.0h-10.77zM590.2 275.9h10.77v1.0h-10.77zM590.2 278.9h10.77v1.0h-10.77zM590.2 280.9h10.77v2.0h-10.77zM590.2 283.9h10.77v1.0h-10.77zM590.2 297.9h10.77v1.0h-10.77zM590.2 314.9h10.77v1.0h-10.77zM590.2 337.9h10.77v1.0h-10.77zM590.2 343.9h10.77v3.0h-10.77zM590.2 355.9h10.77v1.0h-10.77zM590.2 357.9h10.77v1.0h-10.77zM601.0 114.9h10.77v1.0h-10.77zM601.0 121.9h10.77v1.0h-10.77zM601.0 150.9h10.77v1.0h-10.77zM601.0 238.9h10.77v1.0h-10.77zM601.0 254.9h10.77v1.0h-10.77zM601.0 319.9h10.77v2.0h-10.77zM601.0 350.9h10.77v1.0h-10.77zM601.0 373.9h10.77v1.0h-10.77zM611.8 75.9h10.77v2.0h-10.77zM611.8 95.9h10.77v1.0h-10.77zM611.8 116.9h10.77v1.0h-10.77zM611.8 138.9h10.77v1.0h-10.77zM611.8 168.9h10.77v1.0h-10.77zM611.8 273.9h10.77v1.0h-10.77zM611.8 340.9h10.77v1.0h-10.77zM611.8 356.9h10.77v1.0h-10.77zM622.5 86.9h10.77v1.0h-10.77zM622.5 137.9h10.77v1.0h-10.77zM622.5 169.9h10.77v2.0h-10.77zM622.5 191.9h10.77v1.0h-10.77zM622.5 204.9h10.77v2.0h-10.77zM622.5 250.9h10.77v1.0h-10.77zM622.5 264.9h10.77v1.0h-10.77zM622.5 272.9h10.77v1.0h-10.77zM622.5 320.9h10.77v1.0h-10.77zM622.5 351.9h10.77v1.0h-10.77zM622.5 358.9h10.77v1.0h-10.77zM622.5 362.9h10.77v1.0h-10.77zM622.5 371.9h10.77v1.0h-10.77zM622.5 375.9h10.77v1.0h-10.77zM633.3 116.9h10.77v1.0h-10.77zM633.3 127.9h10.77v1.0h-10.77zM633.3 175.9h10.77v1.0h-10.77zM633.3 269.9h10.77v1.0h-10.77zM633.3 320.9h10.77v1.0h-10.77zM644.1 83.9h10.77v1.0h-10.77zM644.1 115.9h10.77v2.0h-10.77zM644.1 152.9h10.77v1.0h-10.77zM644.1 169.9h10.77v2.0h-10.77zM644.1 206.9h10.77v1.0h-10.77zM644.1 208.9h10.77v2.0h-10.77zM644.1 243.9h10.77v1.0h-10.77zM644.1 293.9h10.77v2.0h-10.77zM644.1 370.9h10.77v1.0h-10.77zM654.8 131.9h10.77v1.0h-10.77zM654.8 158.9h10.77v2.0h-10.77zM654.8 184.9h10.77v1.0h-10.77zM654.8 252.9h10.77v2.0h-10.77zM654.8 268.9h10.77v1.0h-10.77zM654.8 290.9h10.77v1.0h-10.77zM654.8 304.9h10.77v1.0h-10.77zM654.8 332.9h10.77v1.0h-10.77zM654.8 340.9h10.77v1.0h-10.77zM654.8 370.9h10.77v1.0h-10.77z"/><path fill="#b3d2e6" d="M471.8 128.9h10.77v1.0h-10.77zM471.8 192.9h10.77v1.0h-10.77zM471.8 212.9h10.77v1.0h-10.77zM471.8 306.9h10.77v1.0h-10.77zM471.8 322.9h10.77v1.0h-10.77zM471.8 342.9h10.77v1.0h-10.77zM482.6 131.9h10.77v1.0h-10.77zM482.6 231.9h10.77v1.0h-10.77zM482.6 245.9h10.77v1.0h-10.77zM482.6 251.9h10.77v1.0h-10.77zM482.6 254.9h10.77v1.0h-10.77zM482.6 271.9h10.77v1.0h-10.77zM482.6 375.9h10.77v1.0h-10.77zM493.3 141.9h10.77v1.0h-10.77zM493.3 168.9h10.77v1.0h-10.77zM493.3 188.9h10.77v1.0h-10.77zM493.3 200.9h10.77v1.0h-10.77zM493.3 225.9h10.77v2.0h-10.77zM493.3 315.9h10.77v1.0h-10.77zM504.1 110.9h10.77v2.0h-10.77zM504.1 145.9h10.77v1.0h-10.77zM504.1 162.9h10.77v1.0h-10.77zM504.1 165.9h10.77v2.0h-10.77zM504.1 170.9h10.77v1.0h-10.77zM504.1 237.9h10.77v1.0h-10.77zM504.1 245.9h10.77v1.0h-10.77zM504.1 314.9h10.77v1.0h-10.77zM504.1 347.9h10.77v1.0h-10.77zM504.1 366.9h10.77v1.0h-10.77zM514.9 92.9h10.77v1.0h-10.77zM514.9 114.9h10.77v1.0h-10.77zM514.9 148.9h10.77v1.0h-10.77zM514.9 187.9h10.77v1.0h-10.77zM514.9 200.9h10.77v2.0h-10.77zM514.9 210.9h10.77v1.0h-10.77zM514.9 242.9h10.77v1.0h-10.77zM514.9 250.9h10.77v1.0h-10.77zM514.9 260.9h10.77v2.0h-10.77zM514.9 266.9h10.77v1.0h-10.77zM514.9 291.9h10.77v2.0h-10.77zM525.6 79.9h10.77v1.0h-10.77zM525.6 106.9h10.77v1.0h-10.77zM525.6 119.9h10.77v1.0h-10.77zM525.6 168.9h10.77v1.0h-10.77zM525.6 193.9h10.77v2.0h-10.77zM525.6 205.9h10.77v1.0h-10.77zM525.6 256.9h10.77v1.0h-10.77zM525.6 258.9h10.77v1.0h-10.77zM525.6 274.9h10.77v1.0h-10.77zM525.6 277.9h10.77v1.0h-10.77zM525.6 302.9h10.77v1.0h-10.77zM525.6 318.9h10.77v1.0h-10.77zM536.4 115.9h10.77v1.0h-10.77zM536.4 161.9h10.77v1.0h-10.77zM536.4 169.9h10.77v1.0h-10.77zM536.4 227.9h10.77v2.0h-10.77zM536.4 270.9h10.77v1.0h-10.77zM536.4 277.9h10.77v1.0h-10.77zM536.4 298.9h10.77v1.0h-10.77zM536.4 302.9h10.77v1.0h-10.77zM536.4 350.9h10.77v2.0h-10.77zM536.4 356.9h10.77v1.0h-10.77zM536.4 368.9h10.77v1.0h-10.77zM547.2 73.9h10.77v1.0h-10.77zM547.2 78.9h10.77v1.0h-10.77zM547.2 123.9h10.77v1.0h-10.77zM547.2 157.9h10.77v1.0h-10.77zM547.2 195.9h10.77v1.0h-10.77zM547.2 199.9h10.77v1.0h-10.77zM547.2 201.9h10.77v1.0h-10.77zM547.2 203.9h10.77v1.0h-10.77zM547.2 316.9h10.77v1.0h-10.77zM547.2 357.9h10.77v1.0h-10.77zM557.9 106.9h10.77v1.0h-10.77zM557.9 109.9h10.77v1.0h-10.77zM557.9 123.9h10.77v1.0h-10.77zM557.9 137.9h10.77v1.0h-10.77zM557.9 174.9h10.77v1.0h-10.77zM557.9 176.9h10.77v1.0h-10.77zM557.9 185.9h10.77v1.0h-10.77zM557.9 189.9h10.77v1.0h-10.77zM557.9 194.9h10.77v1.0h-10.77zM557.9 198.9h10.77v1.0h-10.77zM557.9 213.9h10.77v1.0h-10.77zM557.9 219.9h10.77v1.0h-10.77zM557.9 241.9h10.77v1.0h-10.77zM557.9 246.9h10.77v1.0h-10.77zM557.9 249.9h10.77v1.0h-10.77zM557.9 263.9h10.77v1.0h-10.77zM557.9 282.9h10.77v1.0h-10.77zM557.9 292.9h10.77v1.0h-10.77zM557.9 347.9h10.77v1.0h-10.77zM557.9 354.9h10.77v2.0h-10.77zM557.9 360.9h10.77v1.0h-10.77zM557.9 379.9h10.77v1.0h-10.77zM568.7 74.9h10.77v1.0h-10.77zM568.7 95.9h10.77v1.0h-10.77zM568.7 103.9h10.77v1.0h-10.77zM568.7 109.9h10.77v1.0h-10.77zM568.7 195.9h10.77v1.0h-10.77zM568.7 231.9h10.77v2.0h-10.77zM568.7 242.9h10.77v1.0h-10.77zM568.7 254.9h10.77v1.0h-10.77zM568.7 262.9h10.77v1.0h-10.77zM568.7 287.9h10.77v1.0h-10.77zM568.7 330.9h10.77v1.0h-10.77zM568.7 352.9h10.77v1.0h-10.77zM568.7 364.9h10.77v1.0h-10.77zM568.7 375.9h10.77v1.0h-10.77zM568.7 380.9h10.77v1.0h-10.77zM579.5 73.9h10.77v1.0h-10.77zM579.5 76.9h10.77v2.0h-10.77zM579.5 126.9h10.77v1.0h-10.77zM579.5 200.9h10.77v1.0h-10.77zM579.5 215.9h10.77v1.0h-10.77zM579.5 218.9h10.77v1.0h-10.77zM579.5 241.9h10.77v1.0h-10.77zM579.5 259.9h10.77v1.0h-10.77zM579.5 261.9h10.77v1.0h-10.77zM579.5 287.9h10.77v1.0h-10.77zM579.5 311.9h10.77v1.0h-10.77zM579.5 317.9h10.77v1.0h-10.77zM579.5 365.9h10.77v1.0h-10.77zM579.5 383.9h10.77v1.0h-10.77zM590.2 96.9h10.77v1.0h-10.77zM590.2 109.9h10.77v1.0h-10.77zM590.2 113.9h10.77v1.0h-10.77zM590.2 121.9h10.77v1.0h-10.77zM590.2 127.9h10.77v1.0h-10.77zM590.2 135.9h10.77v1.0h-10.77zM590.2 173.9h10.77v1.0h-10.77zM590.2 197.9h10.77v1.0h-10.77zM590.2 219.9h10.77v2.0h-10.77zM590.2 238.9h10.77v1.0h-10.77zM590.2 258.9h10.77v1.0h-10.77zM590.2 262.9h10.77v1.0h-10.77zM590.2 267.9h10.77v1.0h-10.77zM590.2 270.9h10.77v1.0h-10.77zM590.2 282.9h10.77v1.0h-10.77zM590.2 284.9h10.77v1.0h-10.77zM590.2 293.9h10.77v1.0h-10.77zM590.2 311.9h10.77v1.0h-10.77zM590.2 315.9h10.77v2.0h-10.77zM590.2 319.9h10.77v1.0h-10.77zM590.2 321.9h10.77v1.0h-10.77zM590.2 324.9h10.77v1.0h-10.77zM590.2 336.9h10.77v1.0h-10.77zM590.2 338.9h10.77v1.0h-10.77zM590.2 370.9h10.77v1.0h-10.77zM590.2 373.9h10.77v1.0h-10.77zM601.0 100.9h10.77v1.0h-10.77zM601.0 115.9h10.77v1.0h-10.77zM601.0 253.9h10.77v1.0h-10.77zM601.0 283.9h10.77v1.0h-10.77zM601.0 307.9h10.77v1.0h-10.77zM601.0 324.9h10.77v1.0h-10.77zM601.0 340.9h10.77v2.0h-10.77zM601.0 348.9h10.77v1.0h-10.77zM611.8 145.9h10.77v1.0h-10.77zM611.8 165.9h10.77v1.0h-10.77zM611.8 178.9h10.77v1.0h-10.77zM611.8 227.9h10.77v3.0h-10.77zM611.8 298.9h10.77v1.0h-10.77zM611.8 337.9h10.77v1.0h-10.77zM611.8 341.9h10.77v1.0h-10.77zM611.8 351.9h10.77v1.0h-10.77zM622.5 87.9h10.77v1.0h-10.77zM622.5 136.9h10.77v1.0h-10.77zM622.5 150.9h10.77v2.0h-10.77zM622.5 292.9h10.77v1.0h-10.77zM622.5 298.9h10.77v1.0h-10.77zM622.5 319.9h10.77v1.0h-10.77zM622.5 338.9h10.77v1.0h-10.77zM633.3 121.9h10.77v1.0h-10.77zM633.3 135.9h10.77v1.0h-10.77zM633.3 186.9h10.77v1.0h-10.77zM633.3 214.9h10.77v1.0h-10.77zM633.3 226.9h10.77v1.0h-10.77zM633.3 231.9h10.77v1.0h-10.77zM633.3 244.9h10.77v1.0h-10.77zM633.3 348.9h10.77v1.0h-10.77zM633.3 361.9h10.77v1.0h-10.77zM633.3 377.9h10.77v1.0h-10.77zM633.3 379.9h10.77v1.0h-10.77zM644.1 143.9h10.77v1.0h-10.77zM644.1 157.9h10.77v1.0h-10.77zM644.1 190.9h10.77v1.0h-10.77zM644.1 270.9h10.77v1.0h-10.77zM644.1 351.9h10.77v1.0h-10.77zM644.1 359.9h10.77v2.0h-10.77zM654.8 91.9h10.77v1.0h-10.77zM654.8 108.9h10.77v1.0h-10.77zM654.8 135.9h10.77v1.0h-10.77zM654.8 156.9h10.77v2.0h-10.77zM654.8 169.9h10.77v3.0h-10.77zM654.8 289.9h10.77v1.0h-10.77zM654.8 305.9h10.77v1.0h-10.77zM654.8 356.9h10.77v1.0h-10.77z"/><path fill="#bad7e8" d="M471.8 150.9h10.77v1.0h-10.77zM471.8 185.9h10.77v1.0h-10.77zM471.8 190.9h10.77v1.0h-10.77zM471.8 209.9h10.77v1.0h-10.77zM471.8 248.9h10.77v1.0h-10.77zM471.8 271.9h10.77v1.0h-10.77zM471.8 290.9h10.77v1.0h-10.77zM471.8 334.9h10.77v1.0h-10.77zM471.8 381.9h10.77v1.0h-10.77zM482.6 104.9h10.77v1.0h-10.77zM482.6 140.9h10.77v1.0h-10.77zM482.6 154.9h10.77v1.0h-10.77zM482.6 270.9h10.77v1.0h-10.77zM482.6 288.9h10.77v1.0h-10.77zM482.6 328.9h10.77v1.0h-10.77zM493.3 111.9h10.77v1.0h-10.77zM493.3 149.9h10.77v1.0h-10.77zM493.3 155.9h10.77v1.0h-10.77zM493.3 170.9h10.77v1.0h-10.77zM493.3 175.9h10.77v1.0h-10.77zM493.3 187.9h10.77v1.0h-10.77zM493.3 203.9h10.77v2.0h-10.77zM493.3 215.9h10.77v2.0h-10.77zM493.3 223.9h10.77v1.0h-10.77zM493.3 238.9h10.77v1.0h-10.77zM493.3 248.9h10.77v1.0h-10.77zM493.3 255.9h10.77v2.0h-10.77zM493.3 271.9h10.77v1.0h-10.77zM493.3 280.9h10.77v1.0h-10.77zM493.3 331.9h10.77v2.0h-10.77zM493.3 337.9h10.77v1.0h-10.77zM504.1 74.9h10.77v1.0h-10.77zM504.1 89.9h10.77v1.0h-10.77zM504.1 99.9h10.77v1.0h-10.77zM504.1 114.9h10.77v1.0h-10.77zM504.1 123.9h10.77v1.0h-10.77zM504.1 137.9h10.77v1.0h-10.77zM504.1 148.9h10.77v1.0h-10.77zM504.1 167.9h10.77v1.0h-10.77zM504.1 171.9h10.77v1.0h-10.77zM504.1 177.9h10.77v1.0h-10.77zM504.1 191.9h10.77v1.0h-10.77zM504.1 200.9h10.77v1.0h-10.77zM504.1 228.9h10.77v1.0h-10.77zM504.1 246.9h10.77v3.0h-10.77zM504.1 287.9h10.77v2.0h-10.77zM504.1 295.9h10.77v1.0h-10.77zM504.1 298.9h10.77v1.0h-10.77zM504.1 306.9h10.77v1.0h-10.77zM504.1 313.9h10.77v1.0h-10.77zM504.1 348.9h10.77v1.0h-10.77zM504.1 370.9h10.77v1.0h-10.77zM504.1 382.9h10.77v2.0h-10.77zM514.9 82.9h10.77v1.0h-10.77zM514.9 102.9h10.77v1.0h-10.77zM514.9 129.9h10.77v1.0h-10.77zM514.9 142.9h10.77v1.0h-10.77zM514.9 151.9h10.77v3.0h-10.77zM514.9 177.9h10.77v1.0h-10.77zM514.9 196.9h10.77v1.0h-10.77zM514.9 225.9h10.77v1.0h-10.77zM514.9 228.9h10.77v1.0h-10.77zM514.9 239.9h10.77v1.0h-10.77zM514.9 270.9h10.77v1.0h-10.77zM514.9 332.9h10.77v1.0h-10.77zM514.9 342.9h10.77v2.0h-10.77zM514.9 372.9h10.77v2.0h-10.77zM514.9 377.9h10.77v1.0h-10.77zM525.6 103.9h10.77v1.0h-10.77zM525.6 115.9h10.77v1.0h-10.77zM525.6 128.9h10.77v1.0h-10.77zM525.6 172.9h10.77v1.0h-10.77zM525.6 206.9h10.77v1.0h-10.77zM525.6 249.9h10.77v1.0h-10.77zM525.6 257.9h10.77v1.0h-10.77zM525.6 287.9h10.77v1.0h-10.77zM525.6 339.9h10.77v1.0h-10.77zM525.6 344.9h10.77v1.0h-10.77zM525.6 359.9h10.77v1.0h-10.77zM525.6 376.9h10.77v1.0h-10.77zM536.4 73.9h10.77v1.0h-10.77zM536.4 75.9h10.77v1.0h-10.77zM536.4 92.9h10.77v1.0h-10.77zM536.4 103.9h10.77v1.0h-10.77zM536.4 162.9h10.77v2.0h-10.77zM536.4 179.9h10.77v1.0h-10.77zM536.4 226.9h10.77v1.0h-10.77zM536.4 236.9h10.77v1.0h-10.77zM536.4 241.9h10.77v1.0h-10.77zM536.4 243.9h10.77v1.0h-10.77zM536.4 288.9h10.77v2.0h-10.77zM536.4 309.9h10.77v1.0h-10.77zM536.4 346.9h10.77v1.0h-10.77zM536.4 353.9h10.77v1.0h-10.77zM547.2 74.9h10.77v1.0h-10.77zM547.2 85.9h10.77v1.0h-10.77zM547.2 158.9h10.77v1.0h-10.77zM547.2 308.9h10.77v1.0h-10.77zM547.2 338.9h10.77v1.0h-10.77zM547.2 345.9h10.77v2.0h-10.77zM547.2 352.9h10.77v2.0h-10.77zM547.2 363.9h10.77v1.0h-10.77zM547.2 382.9h10.77v1.0h-10.77zM557.9 73.9h10.77v1.0h-10.77zM557.9 88.9h10.77v1.0h-10.77zM557.9 134.9h10.77v2.0h-10.77zM557.9 146.9h10.77v1.0h-10.77zM557.9 150.9h10.77v1.0h-10.77zM557.9 220.9h10.77v1.0h-10.77zM557.9 245.9h10.77v1.0h-10.77zM557.9 248.9h10.77v1.0h-10.77zM557.9 254.9h10.77v1.0h-10.77zM557.9 256.9h10.77v1.0h-10.77zM557.9 264.9h10.77v1.0h-10.77zM557.9 293.9h10.77v1.0h-10.77zM557.9 304.9h10.77v1.0h-10.77zM557.9 314.9h10.77v1.0h-10.77zM557.9 316.9h10.77v3.0h-10.77zM557.9 326.9h10.77v1.0h-10.77zM557.9 338.9h10.77v1.0h-10.77zM557.9 365.9h10.77v1.0h-10.77zM557.9 382.9h10.77v1.0h-10.77zM568.7 84.9h10.77v1.0h-10.77zM568.7 87.9h10.77v1.0h-10.77zM568.7 93.9h10.77v1.0h-10.77zM568.7 121.9h10.77v1.0h-10.77zM568.7 124.9h10.77v1.0h-10.77zM568.7 127.9h10.77v1.0h-10.77zM568.7 129.9h10.77v1.0h-10.77zM568.7 181.9h10.77v1.0h-10.77zM568.7 183.9h10.77v1.0h-10.77zM568.7 203.9h10.77v1.0h-10.77zM568.7 305.9h10.77v1.0h-10.77zM568.7 315.9h10.77v1.0h-10.77zM568.7 331.9h10.77v1.0h-10.77zM568.7 342.9h10.77v1.0h-10.77zM568.7 365.9h10.77v1.0h-10.77zM579.5 99.9h10.77v1.0h-10.77zM579.5 124.9h10.77v1.0h-10.77zM579.5 159.9h10.77v1.0h-10.77zM579.5 163.9h10.77v1.0h-10.77zM579.5 169.9h10.77v1.0h-10.77zM579.5 235.9h10.77v1.0h-10.77zM579.5 257.9h10.77v1.0h-10.77zM579.5 260.9h10.77v1.0h-10.77zM579.5 265.9h10.77v1.0h-10.77zM590.2 95.9h10.77v1.0h-10.77zM590.2 112.9h10.77v1.0h-10.77zM590.2 115.9h10.77v1.0h-10.77zM590.2 128.9h10.77v1.0h-10.77zM590.2 136.9h10.77v1.0h-10.77zM590.2 154.9h10.77v1.0h-10.77zM590.2 160.9h10.77v1.0h-10.77zM590.2 163.9h10.77v1.0h-10.77zM590.2 168.9h10.77v1.0h-10.77zM590.2 178.9h10.77v1.0h-10.77zM590.2 200.9h10.77v1.0h-10.77zM590.2 210.9h10.77v1.0h-10.77zM590.2 234.9h10.77v1.0h-10.77zM590.2 253.9h10.77v1.0h-10.77zM590.2 260.9h10.77v1.0h-10.77zM590.2 287.9h10.77v1.0h-10.77zM590.2 294.9h10.77v1.0h-10.77zM590.2 323.9h10.77v1.0h-10.77zM590.2 325.9h10.77v1.0h-10.77zM590.2 351.9h10.77v1.0h-10.77zM601.0 101.9h10.77v1.0h-10.77zM601.0 184.9h10.77v1.0h-10.77zM601.0 188.9h10.77v1.0h-10.77zM601.0 291.9h10.77v1.0h-10.77zM601.0 306.9h10.77v1.0h-10.77zM601.0 313.9h10.77v1.0h-10.77zM601.0 342.9h10.77v2.0h-10.77zM611.8 77.9h10.77v1.0h-10.77zM611.8 83.9h10.77v1.0h-10.77zM611.8 108.9h10.77v1.0h-10.77zM611.8 110.9h10.77v1.0h-10.77zM611.8 139.9h10.77v1.0h-10.77zM611.8 236.9h10.77v1.0h-10.77zM622.5 177.9h10.77v1.0h-10.77zM622.5 180.9h10.77v1.0h-10.77zM622.5 196.9h10.77v1.0h-10.77zM622.5 198.9h10.77v1.0h-10.77zM622.5 220.9h10.77v1.0h-10.77zM622.5 239.9h10.77v1.0h-10.77zM622.5 251.9h10.77v1.0h-10.77zM622.5 266.9h10.77v1.0h-10.77zM622.5 287.9h10.77v1.0h-10.77zM622.5 293.9h10.77v1.0h-10.77zM622.5 297.9h10.77v1.0h-10.77zM622.5 309.9h10.77v1.0h-10.77zM622.5 333.9h10.77v1.0h-10.77zM622.5 357.9h10.77v1.0h-10.77zM622.5 380.9h10.77v1.0h-10.77zM633.3 78.9h10.77v3.0h-10.77zM633.3 104.9h10.77v1.0h-10.77zM633.3 173.9h10.77v1.0h-10.77zM633.3 275.9h10.77v1.0h-10.77zM633.3 283.9h10.77v1.0h-10.77zM633.3 298.9h10.77v1.0h-10.77zM633.3 311.9h10.77v1.0h-10.77zM633.3 314.9h10.77v1.0h-10.77zM633.3 319.9h10.77v1.0h-10.77zM633.3 322.9h10.77v1.0h-10.77zM633.3 351.9h10.77v1.0h-10.77zM633.3 378.9h10.77v1.0h-10.77zM644.1 95.9h10.77v1.0h-10.77zM644.1 105.9h10.77v1.0h-10.77zM644.1 109.9h10.77v1.0h-10.77zM644.1 165.9h10.77v1.0h-10.77zM644.1 258.9h10.77v1.0h-10.77zM644.1 260.9h10.77v2.0h-10.77zM644.1 266.9h10.77v2.0h-10.77zM644.1 284.9h10.77v1.0h-10.77zM644.1 339.9h10.77v1.0h-10.77zM644.1 350.9h10.77v1.0h-10.77zM644.1 355.9h10.77v1.0h-10.77zM644.1 369.9h10.77v1.0h-10.77zM644.1 377.9h10.77v1.0h-10.77zM644.1 382.9h10.77v1.0h-10.77zM654.8 92.9h10.77v1.0h-10.77zM654.8 115.9h10.77v2.0h-10.77zM654.8 132.9h10.77v1.0h-10.77zM654.8 165.9h10.77v1.0h-10.77zM654.8 208.9h10.77v1.0h-10.77zM654.8 269.9h10.77v1.0h-10.77zM654.8 271.9h10.77v1.0h-10.77zM654.8 281.9h10.77v1.0h-10.77zM654.8 296.9h10.77v1.0h-10.77zM654.8 343.9h10.77v1.0h-10.77zM654.8 357.9h10.77v1.0h-10.77zM654.8 360.9h10.77v1.0h-10.77z"/><path fill="#c1dbea" d="M471.8 121.9h10.77v1.0h-10.77zM471.8 127.9h10.77v1.0h-10.77zM471.8 149.9h10.77v1.0h-10.77zM471.8 151.9h10.77v2.0h-10.77zM471.8 177.9h10.77v1.0h-10.77zM471.8 186.9h10.77v1.0h-10.77zM471.8 189.9h10.77v1.0h-10.77zM471.8 193.9h10.77v1.0h-10.77zM471.8 269.9h10.77v1.0h-10.77zM471.8 372.9h10.77v1.0h-10.77zM482.6 96.9h10.77v1.0h-10.77zM482.6 99.9h10.77v1.0h-10.77zM482.6 105.9h10.77v1.0h-10.77zM482.6 127.9h10.77v1.0h-10.77zM482.6 130.9h10.77v1.0h-10.77zM482.6 143.9h10.77v1.0h-10.77zM482.6 155.9h10.77v1.0h-10.77zM482.6 165.9h10.77v1.0h-10.77zM482.6 167.9h10.77v1.0h-10.77zM482.6 170.9h10.77v2.0h-10.77zM482.6 187.9h10.77v1.0h-10.77zM482.6 221.9h10.77v1.0h-10.77zM482.6 235.9h10.77v1.0h-10.77zM482.6 239.9h10.77v2.0h-10.77zM482.6 292.9h10.77v1.0h-10.77zM482.6 351.9h10.77v1.0h-10.77zM493.3 82.9h10.77v1.0h-10.77zM493.3 110.9h10.77v1.0h-10.77zM493.3 116.9h10.77v1.0h-10.77zM493.3 118.9h10.77v2.0h-10.77zM493.3 144.9h10.77v1.0h-10.77zM493.3 147.9h10.77v1.0h-10.77zM493.3 156.9h10.77v2.0h-10.77zM493.3 177.9h10.77v1.0h-10.77zM493.3 229.9h10.77v1.0h-10.77zM493.3 235.9h10.77v1.0h-10.77zM493.3 250.9h10.77v1.0h-10.77zM493.3 253.9h10.77v1.0h-10.77zM493.3 270.9h10.77v1.0h-10.77zM493.3 273.9h10.77v1.0h-10.77zM493.3 281.9h10.77v1.0h-10.77zM493.3 345.9h10.77v1.0h-10.77zM504.1 83.9h10.77v1.0h-10.77zM504.1 90.9h10.77v1.0h-10.77zM504.1 124.9h10.77v2.0h-10.77zM504.1 135.9h10.77v2.0h-10.77zM504.1 144.9h10.77v1.0h-10.77zM504.1 147.9h10.77v1.0h-10.77zM504.1 151.9h10.77v1.0h-10.77zM504.1 154.9h10.77v2.0h-10.77zM504.1 169.9h10.77v1.0h-10.77zM504.1 173.9h10.77v1.0h-10.77zM504.1 192.9h10.77v1.0h-10.77zM504.1 250.9h10.77v2.0h-10.77zM504.1 268.9h10.77v1.0h-10.77zM504.1 275.9h10.77v1.0h-10.77zM504.1 285.9h10.77v1.0h-10.77zM504.1 342.9h10.77v1.0h-10.77zM504.1 375.9h10.77v1.0h-10.77zM504.1 378.9h10.77v1.0h-10.77zM514.9 111.9h10.77v1.0h-10.77zM514.9 113.9h10.77v1.0h-10.77zM514.9 115.9h10.77v1.0h-10.77zM514.9 127.9h10.77v2.0h-10.77zM514.9 140.9h10.77v1.0h-10.77zM514.9 167.9h10.77v1.0h-10.77zM514.9 172.9h10.77v1.0h-10.77zM514.9 182.9h10.77v1.0h-10.77zM514.9 195.9h10.77v1.0h-10.77zM514.9 217.9h10.77v1.0h-10.77zM514.9 240.9h10.77v1.0h-10.77zM514.9 265.9h10.77v1.0h-10.77zM514.9 294.9h10.77v1.0h-10.77zM514.9 315.9h10.77v1.0h-10.77zM514.9 317.9h10.77v1.0h-10.77zM514.9 329.9h10.77v1.0h-10.77zM514.9 333.9h10.77v1.0h-10.77zM525.6 93.9h10.77v1.0h-10.77zM525.6 140.9h10.77v1.0h-10.77zM525.6 142.9h10.77v1.0h-10.77zM525.6 147.9h10.77v1.0h-10.77zM525.6 171.9h10.77v1.0h-10.77zM525.6 204.9h10.77v1.0h-10.77zM525.6 210.9h10.77v1.0h-10.77zM525.6 224.9h10.77v2.0h-10.77zM525.6 255.9h10.77v1.0h-10.77zM525.6 275.9h10.77v1.0h-10.77zM525.6 278.9h10.77v1.0h-10.77zM525.6 281.9h10.77v1.0h-10.77zM525.6 288.9h10.77v1.0h-10.77zM525.6 297.9h10.77v1.0h-10.77zM525.6 321.9h10.77v2.0h-10.77zM525.6 325.9h10.77v1.0h-10.77zM525.6 335.9h10.77v2.0h-10.77zM525.6 345.9h10.77v1.0h-10.77zM525.6 361.9h10.77v1.0h-10.77zM525.6 371.9h10.77v1.0h-10.77zM536.4 88.9h10.77v1.0h-10.77zM536.4 96.9h10.77v1.0h-10.77zM536.4 116.9h10.77v1.0h-10.77zM536.4 135.9h10.77v1.0h-10.77zM536.4 147.9h10.77v1.0h-10.77zM536.4 170.9h10.77v1.0h-10.77zM536.4 185.9h10.77v1.0h-10.77zM536.4 196.9h10.77v3.0h-10.77zM536.4 212.9h10.77v1.0h-10.77zM536.4 230.9h10.77v1.0h-10.77zM536.4 248.9h10.77v1.0h-10.77zM536.4 267.9h10.77v1.0h-10.77zM536.4 271.9h10.77v1.0h-10.77zM536.4 293.9h10.77v1.0h-10.77zM536.4 295.9h10.77v1.0h-10.77zM536.4 348.9h10.77v1.0h-10.77zM536.4 352.9h10.77v1.0h-10.77zM536.4 367.9h10.77v1.0h-10.77zM547.2 83.9h10.77v1.0h-10.77zM547.2 107.9h10.77v2.0h-10.77zM547.2 120.9h10.77v1.0h-10.77zM547.2 133.9h10.77v2.0h-10.77zM547.2 159.9h10.77v1.0h-10.77zM547.2 165.9h10.77v1.0h-10.77zM547.2 187.9h10.77v1.0h-10.77zM547.2 245.9h10.77v3.0h-10.77zM547.2 298.9h10.77v2.0h-10.77zM547.2 333.9h10.77v2.0h-10.77zM547.2 366.9h10.77v1.0h-10.77zM547.2 374.9h10.77v1.0h-10.77zM547.2 376.9h10.77v1.0h-10.77zM547.2 380.9h10.77v1.0h-10.77zM557.9 81.9h10.77v1.0h-10.77zM557.9 84.9h10.77v1.0h-10.77zM557.9 86.9h10.77v1.0h-10.77zM557.9 110.9h10.77v1.0h-10.77zM557.9 175.9h10.77v1.0h-10.77zM557.9 190.9h10.77v1.0h-10.77zM557.9 204.9h10.77v1.0h-10.77zM557.9 210.9h10.77v1.0h-10.77zM557.9 225.9h10.77v1.0h-10.77zM557.9 239.9h10.77v1.0h-10.77zM557.9 244.9h10.77v1.0h-10.77zM557.9 265.9h10.77v2.0h-10.77zM557.9 270.9h10.77v2.0h-10.77zM557.9 286.9h10.77v1.0h-10.77zM557.9 294.9h10.77v1.0h-10.77zM557.9 298.9h10.77v1.0h-10.77zM557.9 309.9h10.77v2.0h-10.77zM557.9 321.9h10.77v1.0h-10.77zM557.9 363.9h10.77v1.0h-10.77zM557.9 377.9h10.77v1.0h-10.77zM568.7 85.9h10.77v1.0h-10.77zM568.7 94.9h10.77v1.0h-10.77zM568.7 96.9h10.77v1.0h-10.77zM568.7 104.9h10.77v1.0h-10.77zM568.7 117.9h10.77v1.0h-10.77zM568.7 120.9h10.77v1.0h-10.77zM568.7 128.9h10.77v1.0h-10.77zM568.7 156.9h10.77v1.0h-10.77zM568.7 162.9h10.77v1.0h-10.77zM568.7 175.9h10.77v1.0h-10.77zM568.7 182.9h10.77v1.0h-10.77zM568.7 194.9h10.77v1.0h-10.77zM568.7 204.9h10.77v1.0h-10.77zM568.7 233.9h10.77v1.0h-10.77zM568.7 255.9h10.77v1.0h-10.77zM568.7 259.9h10.77v1.0h-10.77zM568.7 263.9h10.77v1.0h-10.77zM568.7 266.9h10.77v1.0h-10.77zM568.7 358.9h10.77v1.0h-10.77zM568.7 363.9h10.77v1.0h-10.77zM579.5 75.9h10.77v1.0h-10.77zM579.5 94.9h10.77v2.0h-10.77zM579.5 98.9h10.77v1.0h-10.77zM579.5 104.9h10.77v2.0h-10.77zM579.5 107.9h10.77v1.0h-10.77zM579.5 120.9h10.77v1.0h-10.77zM579.5 129.9h10.77v1.0h-10.77zM579.5 132.9h10.77v2.0h-10.77zM579.5 143.9h10.77v1.0h-10.77zM579.5 157.9h10.77v2.0h-10.77zM579.5 222.9h10.77v1.0h-10.77zM579.5 240.9h10.77v1.0h-10.77zM579.5 247.9h10.77v1.0h-10.77zM579.5 251.9h10.77v1.0h-10.77zM579.5 278.9h10.77v1.0h-10.77zM579.5 288.9h10.77v1.0h-10.77zM579.5 294.9h10.77v1.0h-10.77zM579.5 298.9h10.77v1.0h-10.77zM579.5 301.9h10.77v1.0h-10.77zM579.5 313.9h10.77v1.0h-10.77zM579.5 356.9h10.77v1.0h-10.77zM579.5 362.9h10.77v1.0h-10.77zM590.2 132.9h10.77v1.0h-10.77zM590.2 134.9h10.77v1.0h-10.77zM590.2 157.9h10.77v1.0h-10.77zM590.2 167.9h10.77v1.0h-10.77zM590.2 177.9h10.77v1.0h-10.77zM590.2 184.9h10.77v1.0h-10.77zM590.2 214.9h10.77v3.0h-10.77zM590.2 218.9h10.77v1.0h-10.77zM590.2 243.9h10.77v1.0h-10.77zM590.2 273.9h10.77v1.0h-10.77zM590.2 277.9h10.77v1.0h-10.77zM590.2 279.9h10.77v1.0h-10.77zM590.2 285.9h10.77v1.0h-10.77zM590.2 289.9h10.77v1.0h-10.77zM590.2 292.9h10.77v1.0h-10.77zM590.2 302.9h10.77v1.0h-10.77zM590.2 331.9h10.77v1.0h-10.77zM590.2 349.9h10.77v1.0h-10.77zM590.2 377.9h10.77v1.0h-10.77zM590.2 380.9h10.77v1.0h-10.77zM601.0 84.9h10.77v1.0h-10.77zM601.0 112.9h10.77v2.0h-10.77zM601.0 135.9h10.77v1.0h-10.77zM601.0 187.9h10.77v1.0h-10.77zM601.0 202.9h10.77v1.0h-10.77zM601.0 228.9h10.77v2.0h-10.77zM601.0 252.9h10.77v1.0h-10.77zM601.0 282.9h10.77v1.0h-10.77zM601.0 304.9h10.77v1.0h-10.77zM601.0 312.9h10.77v1.0h-10.77zM601.0 329.9h10.77v1.0h-10.77zM601.0 338.9h10.77v2.0h-10.77zM601.0 349.9h10.77v1.0h-10.77zM601.0 381.9h10.77v1.0h-10.77zM611.8 74.9h10.77v1.0h-10.77zM611.8 78.9h10.77v1.0h-10.77zM611.8 88.9h10.77v1.0h-10.77zM611.8 105.9h10.77v1.0h-10.77zM611.8 117.9h10.77v1.0h-10.77zM611.8 144.9h10.77v1.0h-10.77zM611.8 163.9h10.77v1.0h-10.77zM611.8 173.9h10.77v1.0h-10.77zM611.8 278.9h10.77v1.0h-10.77zM611.8 299.9h10.77v1.0h-10.77zM611.8 328.9h10.77v1.0h-10.77zM611.8 348.9h10.77v1.0h-10.77zM611.8 350.9h10.77v1.0h-10.77zM611.8 358.9h10.77v1.0h-10.77zM611.8 370.9h10.77v1.0h-10.77zM622.5 82.9h10.77v1.0h-10.77zM622.5 173.9h10.77v2.0h-10.77zM622.5 195.9h10.77v1.0h-10.77zM622.5 197.9h10.77v1.0h-10.77zM622.5 237.9h10.77v1.0h-10.77zM622.5 246.9h10.77v1.0h-10.77zM622.5 249.9h10.77v1.0h-10.77zM622.5 267.9h10.77v1.0h-10.77zM622.5 277.9h10.77v1.0h-10.77zM622.5 288.9h10.77v1.0h-10.77zM622.5 299.9h10.77v1.0h-10.77zM622.5 336.9h10.77v1.0h-10.77zM622.5 361.9h10.77v1.0h-10.77zM622.5 374.9h10.77v1.0h-10.77zM633.3 113.9h10.77v2.0h-10.77zM633.3 123.9h10.77v1.0h-10.77zM633.3 128.9h10.77v1.0h-10.77zM633.3 207.9h10.77v1.0h-10.77zM633.3 248.9h10.77v1.0h-10.77zM633.3 265.9h10.77v1.0h-10.77zM633.3 268.9h10.77v1.0h-10.77zM633.3 295.9h10.77v1.0h-10.77zM633.3 345.9h10.77v1.0h-10.77zM633.3 362.9h10.77v1.0h-10.77zM633.3 366.9h10.77v1.0h-10.77zM633.3 381.9h10.77v1.0h-10.77zM644.1 88.9h10.77v1.0h-10.77zM644.1 142.9h10.77v1.0h-10.77zM644.1 147.9h10.77v1.0h-10.77zM644.1 150.9h10.77v1.0h-10.77zM644.1 154.9h10.77v1.0h-10.77zM644.1 164.9h10.77v1.0h-10.77zM644.1 168.9h10.77v1.0h-10.77zM644.1 205.9h10.77v1.0h-10.77zM644.1 207.9h10.77v1.0h-10.77zM644.1 246.9h10.77v2.0h-10.77zM644.1 269.9h10.77v1.0h-10.77zM644.1 278.9h10.77v1.0h-10.77zM644.1 298.9h10.77v1.0h-10.77zM644.1 324.9h10.77v1.0h-10.77zM644.1 346.9h10.77v1.0h-10.77zM644.1 356.9h10.77v1.0h-10.77zM644.1 376.9h10.77v1.0h-10.77zM644.1 381.9h10.77v1.0h-10.77zM654.8 99.9h10.77v1.0h-10.77zM654.8 164.9h10.77v1.0h-10.77zM654.8 210.9h10.77v1.0h-10.77zM654.8 214.9h10.77v1.0h-10.77zM654.8 272.9h10.77v1.0h-10.77zM654.8 297.9h10.77v1.0h-10.77zM654.8 306.9h10.77v1.0h-10.77zM654.8 339.9h10.77v1.0h-10.77zM654.8 365.9h10.77v2.0h-10.77z"/><path fill="#c7e0ed" d="M471.8 96.9h10.77v1.0h-10.77zM471.8 139.9h10.77v1.0h-10.77zM471.8 162.9h10.77v1.0h-10.77zM471.8 168.9h10.77v1.0h-10.77zM471.8 173.9h10.77v1.0h-10.77zM471.8 205.9h10.77v1.0h-10.77zM471.8 217.9h10.77v1.0h-10.77zM471.8 247.9h10.77v1.0h-10.77zM471.8 259.9h10.77v1.0h-10.77zM471.8 270.9h10.77v1.0h-10.77zM471.8 274.9h10.77v1.0h-10.77zM471.8 277.9h10.77v1.0h-10.77zM471.8 289.9h10.77v1.0h-10.77zM471.8 291.9h10.77v1.0h-10.77zM471.8 295.9h10.77v1.0h-10.77zM471.8 328.9h10.77v1.0h-10.77zM471.8 348.9h10.77v1.0h-10.77zM471.8 354.9h10.77v1.0h-10.77zM482.6 75.9h10.77v1.0h-10.77zM482.6 110.9h10.77v2.0h-10.77zM482.6 137.9h10.77v1.0h-10.77zM482.6 163.9h10.77v1.0h-10.77zM482.6 178.9h10.77v1.0h-10.77zM482.6 220.9h10.77v1.0h-10.77zM482.6 234.9h10.77v1.0h-10.77zM482.6 241.9h10.77v1.0h-10.77zM482.6 291.9h10.77v1.0h-10.77zM482.6 296.9h10.77v1.0h-10.77zM482.6 336.9h10.77v1.0h-10.77zM482.6 340.9h10.77v1.0h-10.77zM493.3 112.9h10.77v2.0h-10.77zM493.3 115.9h10.77v1.0h-10.77zM493.3 124.9h10.77v1.0h-10.77zM493.3 145.9h10.77v2.0h-10.77zM493.3 154.9h10.77v1.0h-10.77zM493.3 158.9h10.77v1.0h-10.77zM493.3 176.9h10.77v1.0h-10.77zM493.3 198.9h10.77v1.0h-10.77zM493.3 214.9h10.77v1.0h-10.77zM493.3 217.9h10.77v1.0h-10.77zM493.3 249.9h10.77v1.0h-10.77zM493.3 282.9h10.77v1.0h-10.77zM493.3 302.9h10.77v1.0h-10.77zM493.3 309.9h10.77v2.0h-10.77zM493.3 313.9h10.77v1.0h-10.77zM493.3 330.9h10.77v1.0h-10.77zM493.3 383.9h10.77v1.0h-10.77zM504.1 96.9h10.77v1.0h-10.77zM504.1 116.9h10.77v1.0h-10.77zM504.1 118.9h10.77v1.0h-10.77zM504.1 120.9h10.77v1.0h-10.77zM504.1 141.9h10.77v1.0h-10.77zM504.1 156.9h10.77v1.0h-10.77zM504.1 168.9h10.77v1.0h-10.77zM504.1 199.9h10.77v1.0h-10.77zM504.1 209.9h10.77v1.0h-10.77zM504.1 213.9h10.77v1.0h-10.77zM504.1 215.9h10.77v1.0h-10.77zM504.1 218.9h10.77v1.0h-10.77zM504.1 244.9h10.77v1.0h-10.77zM504.1 249.9h10.77v1.0h-10.77zM504.1 274.9h10.77v1.0h-10.77zM504.1 284.9h10.77v1.0h-10.77zM504.1 292.9h10.77v1.0h-10.77zM504.1 296.9h10.77v1.0h-10.77zM504.1 305.9h10.77v1.0h-10.77zM504.1 310.9h10.77v2.0h-10.77zM504.1 321.9h10.77v1.0h-10.77zM504.1 327.9h10.77v1.0h-10.77zM504.1 367.9h10.77v1.0h-10.77zM504.1 377.9h10.77v1.0h-10.77zM514.9 101.9h10.77v1.0h-10.77zM514.9 103.9h10.77v1.0h-10.77zM514.9 110.9h10.77v1.0h-10.77zM514.9 139.9h10.77v1.0h-10.77zM514.9 149.9h10.77v1.0h-10.77zM514.9 165.9h10.77v1.0h-10.77zM514.9 176.9h10.77v1.0h-10.77zM514.9 249.9h10.77v1.0h-10.77zM514.9 267.9h10.77v1.0h-10.77zM514.9 311.9h10.77v1.0h-10.77zM514.9 321.9h10.77v1.0h-10.77zM525.6 73.9h10.77v1.0h-10.77zM525.6 80.9h10.77v1.0h-10.77zM525.6 107.9h10.77v1.0h-10.77zM525.6 111.9h10.77v1.0h-10.77zM525.6 127.9h10.77v1.0h-10.77zM525.6 161.9h10.77v1.0h-10.77zM525.6 165.9h10.77v1.0h-10.77zM525.6 200.9h10.77v1.0h-10.77zM525.6 203.9h10.77v1.0h-10.77zM525.6 208.9h10.77v1.0h-10.77zM525.6 219.9h10.77v1.0h-10.77zM525.6 223.9h10.77v1.0h-10.77zM525.6 226.9h10.77v1.0h-10.77zM525.6 240.9h10.77v1.0h-10.77zM525.6 243.9h10.77v1.0h-10.77zM525.6 250.9h10.77v1.0h-10.77zM525.6 273.9h10.77v1.0h-10.77zM525.6 282.9h10.77v1.0h-10.77zM525.6 290.9h10.77v1.0h-10.77zM525.6 303.9h10.77v1.0h-10.77zM525.6 317.9h10.77v1.0h-10.77zM525.6 331.9h10.77v1.0h-10.77zM536.4 77.9h10.77v1.0h-10.77zM536.4 81.9h10.77v1.0h-10.77zM536.4 114.9h10.77v1.0h-10.77zM536.4 128.9h10.77v1.0h-10.77zM536.4 133.9h10.77v1.0h-10.77zM536.4 136.9h10.77v1.0h-10.77zM536.4 146.9h10.77v1.0h-10.77zM536.4 148.9h10.77v1.0h-10.77zM536.4 164.9h10.77v1.0h-10.77zM536.4 168.9h10.77v1.0h-10.77zM536.4 184.9h10.77v1.0h-10.77zM536.4 200.9h10.77v1.0h-10.77zM536.4 220.9h10.77v1.0h-10.77zM536.4 225.9h10.77v1.0h-10.77zM536.4 229.9h10.77v1.0h-10.77zM536.4 235.9h10.77v1.0h-10.77zM536.4 244.9h10.77v1.0h-10.77zM536.4 249.9h10.77v1.0h-10.77zM536.4 273.9h10.77v1.0h-10.77zM536.4 281.9h10.77v1.0h-10.77zM536.4 287.9h10.77v1.0h-10.77zM536.4 294.9h10.77v1.0h-10.77zM536.4 303.9h10.77v1.0h-10.77zM536.4 318.9h10.77v1.0h-10.77zM536.4 330.9h10.77v1.0h-10.77zM536.4 342.9h10.77v1.0h-10.77zM536.4 366.9h10.77v1.0h-10.77zM547.2 79.9h10.77v1.0h-10.77zM547.2 94.9h10.77v1.0h-10.77zM547.2 96.9h10.77v1.0h-10.77zM547.2 103.9h10.77v1.0h-10.77zM547.2 143.9h10.77v2.0h-10.77zM547.2 166.9h10.77v1.0h-10.77zM547.2 190.9h10.77v1.0h-10.77zM547.2 207.9h10.77v1.0h-10.77zM547.2 312.9h10.77v2.0h-10.77zM547.2 317.9h10.77v1.0h-10.77zM547.2 319.9h10.77v1.0h-10.77zM547.2 356.9h10.77v1.0h-10.77zM547.2 361.9h10.77v1.0h-10.77zM547.2 375.9h10.77v1.0h-10.77zM557.9 77.9h10.77v1.0h-10.77zM557.9 113.9h10.77v1.0h-10.77zM557.9 122.9h10.77v1.0h-10.77zM557.9 124.9h10.77v1.0h-10.77zM557.9 147.9h10.77v1.0h-10.77zM557.9 208.9h10.77v1.0h-10.77zM557.9 211.9h10.77v1.0h-10.77zM557.9 240.9h10.77v1.0h-10.77zM557.9 251.9h10.77v1.0h-10.77zM557.9 255.9h10.77v1.0h-10.77zM557.9 274.9h10.77v1.0h-10.77zM557.9 287.9h10.77v1.0h-10.77zM557.9 290.9h10.77v1.0h-10.77zM557.9 308.9h10.77v1.0h-10.77zM557.9 320.9h10.77v1.0h-10.77zM557.9 343.9h10.77v1.0h-10.77zM557.9 346.9h10.77v1.0h-10.77zM557.9 349.9h10.77v1.0h-10.77zM557.9 351.9h10.77v1.0h-10.77zM557.9 353.9h10.77v1.0h-10.77zM557.9 357.9h10.77v1.0h-10.77zM557.9 364.9h10.77v1.0h-10.77zM568.7 86.9h10.77v1.0h-10.77zM568.7 88.9h10.77v1.0h-10.77zM568.7 97.9h10.77v1.0h-10.77zM568.7 102.9h10.77v1.0h-10.77zM568.7 110.9h10.77v1.0h-10.77zM568.7 123.9h10.77v1.0h-10.77zM568.7 125.9h10.77v1.0h-10.77zM568.7 135.9h10.77v1.0h-10.77zM568.7 146.9h10.77v1.0h-10.77zM568.7 157.9h10.77v1.0h-10.77zM568.7 189.9h10.77v2.0h-10.77zM568.7 193.9h10.77v1.0h-10.77zM568.7 240.9h10.77v1.0h-10.77zM568.7 249.9h10.77v2.0h-10.77zM568.7 267.9h10.77v1.0h-10.77zM568.7 269.9h10.77v1.0h-10.77zM568.7 271.9h10.77v1.0h-10.77zM568.7 319.9h10.77v2.0h-10.77zM568.7 329.9h10.77v1.0h-10.77zM568.7 340.9h10.77v1.0h-10.77zM568.7 369.9h10.77v1.0h-10.77zM579.5 78.9h10.77v1.0h-10.77zM579.5 82.9h10.77v1.0h-10.77zM579.5 84.9h10.77v1.0h-10.77zM579.5 89.9h10.77v1.0h-10.77zM579.5 111.9h10.77v1.0h-10.77zM579.5 119.9h10.77v1.0h-10.77zM579.5 122.9h10.77v2.0h-10.77zM579.5 142.9h10.77v1.0h-10.77zM579.5 172.9h10.77v1.0h-10.77zM579.5 179.9h10.77v1.0h-10.77zM579.5 201.9h10.77v1.0h-10.77zM579.5 206.9h10.77v1.0h-10.77zM579.5 214.9h10.77v1.0h-10.77zM579.5 227.9h10.77v1.0h-10.77zM579.5 242.9h10.77v1.0h-10.77zM579.5 248.9h10.77v1.0h-10.77zM579.5 276.9h10.77v1.0h-10.77zM579.5 289.9h10.77v1.0h-10.77zM579.5 363.9h10.77v2.0h-10.77zM579.5 366.9h10.77v1.0h-10.77zM579.5 375.9h10.77v1.0h-10.77zM590.2 93.9h10.77v1.0h-10.77zM590.2 129.9h10.77v1.0h-10.77zM590.2 142.9h10.77v2.0h-10.77zM590.2 146.9h10.77v1.0h-10.77zM590.2 148.9h10.77v1.0h-10.77zM590.2 162.9h10.77v1.0h-10.77zM590.2 164.9h10.77v1.0h-10.77zM590.2 169.9h10.77v1.0h-10.77zM590.2 183.9h10.77v1.0h-10.77zM590.2 186.9h10.77v1.0h-10.77zM590.2 190.9h10.77v1.0h-10.77zM590.2 195.9h10.77v2.0h-10.77zM590.2 217.9h10.77v1.0h-10.77zM590.2 221.9h10.77v1.0h-10.77zM590.2 256.9h10.77v1.0h-10.77zM590.2 269.9h10.77v1.0h-10.77zM590.2 271.9h10.77v1.0h-10.77zM590.2 295.9h10.77v1.0h-10.77zM590.2 307.9h10.77v1.0h-10.77zM590.2 354.9h10.77v1.0h-10.77zM590.2 363.9h10.77v2.0h-10.77zM590.2 372.9h10.77v1.0h-10.77zM590.2 381.9h10.77v1.0h-10.77zM601.0 124.9h10.77v1.0h-10.77zM601.0 131.9h10.77v1.0h-10.77zM601.0 133.9h10.77v1.0h-10.77zM601.0 143.9h10.77v1.0h-10.77zM601.0 201.9h10.77v1.0h-10.77zM601.0 218.9h10.77v1.0h-10.77zM601.0 227.9h10.77v1.0h-10.77zM601.0 235.9h10.77v1.0h-10.77zM601.0 240.9h10.77v1.0h-10.77zM601.0 255.9h10.77v1.0h-10.77zM601.0 259.9h10.77v1.0h-10.77zM601.0 270.9h10.77v1.0h-10.77zM601.0 284.9h10.77v1.0h-10.77zM601.0 303.9h10.77v1.0h-10.77zM601.0 305.9h10.77v1.0h-10.77zM601.0 314.9h10.77v1.0h-10.77zM601.0 323.9h10.77v1.0h-10.77zM601.0 325.9h10.77v3.0h-10.77zM601.0 337.9h10.77v1.0h-10.77zM601.0 351.9h10.77v1.0h-10.77zM601.0 370.9h10.77v1.0h-10.77zM611.8 73.9h10.77v1.0h-10.77zM611.8 84.9h10.77v1.0h-10.77zM611.8 92.9h10.77v1.0h-10.77zM611.8 125.9h10.77v1.0h-10.77zM611.8 150.9h10.77v1.0h-10.77zM611.8 183.9h10.77v1.0h-10.77zM611.8 214.9h10.77v2.0h-10.77zM611.8 283.9h10.77v1.0h-10.77zM611.8 338.9h10.77v2.0h-10.77zM611.8 342.9h10.77v1.0h-10.77zM611.8 361.9h10.77v1.0h-10.77zM611.8 371.9h10.77v1.0h-10.77zM622.5 78.9h10.77v1.0h-10.77zM622.5 85.9h10.77v1.0h-10.77zM622.5 106.9h10.77v1.0h-10.77zM622.5 114.9h10.77v1.0h-10.77zM622.5 154.9h10.77v1.0h-10.77zM622.5 164.9h10.77v1.0h-10.77zM622.5 179.9h10.77v1.0h-10.77zM622.5 181.9h10.77v1.0h-10.77zM622.5 199.9h10.77v1.0h-10.77zM622.5 238.9h10.77v1.0h-10.77zM622.5 265.9h10.77v1.0h-10.77zM622.5 275.9h10.77v1.0h-10.77zM622.5 278.9h10.77v1.0h-10.77zM622.5 280.9h10.77v2.0h-10.77zM622.5 294.9h10.77v1.0h-10.77zM622.5 313.9h10.77v1.0h-10.77zM622.5 318.9h10.77v1.0h-10.77zM622.5 326.9h10.77v1.0h-10.77zM622.5 352.9h10.77v1.0h-10.77zM622.5 356.9h10.77v1.0h-10.77zM622.5 359.9h10.77v1.0h-10.77zM622.5 368.9h10.77v1.0h-10.77zM622.5 379.9h10.77v1.0h-10.77zM633.3 105.9h10.77v1.0h-10.77zM633.3 139.9h10.77v1.0h-10.77zM633.3 174.9h10.77v1.0h-10.77zM633.3 178.9h10.77v1.0h-10.77zM633.3 188.9h10.77v1.0h-10.77zM633.3 213.9h10.77v1.0h-10.77zM633.3 227.9h10.77v1.0h-10.77zM633.3 234.9h10.77v1.0h-10.77zM633.3 247.9h10.77v1.0h-10.77zM633.3 266.9h10.77v2.0h-10.77zM633.3 281.9h10.77v1.0h-10.77zM633.3 284.9h10.77v1.0h-10.77zM633.3 308.9h10.77v3.0h-10.77zM633.3 323.9h10.77v1.0h-10.77zM633.3 331.9h10.77v2.0h-10.77zM633.3 350.9h10.77v1.0h-10.77zM633.3 353.9h10.77v1.0h-10.77zM633.3 373.9h10.77v1.0h-10.77zM633.3 376.9h10.77v1.0h-10.77zM644.1 96.9h10.77v1.0h-10.77zM644.1 103.9h10.77v1.0h-10.77zM644.1 108.9h10.77v1.0h-10.77zM644.1 229.9h10.77v1.0h-10.77zM644.1 242.9h10.77v1.0h-10.77zM644.1 262.9h10.77v1.0h-10.77zM644.1 275.9h10.77v1.0h-10.77zM644.1 279.9h10.77v1.0h-10.77zM644.1 371.9h10.77v1.0h-10.77zM654.8 79.9h10.77v1.0h-10.77zM654.8 86.9h10.77v1.0h-10.77zM654.8 98.9h10.77v1.0h-10.77zM654.8 117.9h10.77v1.0h-10.77zM654.8 155.9h10.77v1.0h-10.77zM654.8 166.9h10.77v1.0h-10.77zM654.8 168.9h10.77v1.0h-10.77zM654.8 172.9h10.77v1.0h-10.77zM654.8 195.9h10.77v1.0h-10.77zM654.8 207.9h10.77v1.0h-10.77zM654.8 211.9h10.77v1.0h-10.77zM654.8 215.9h10.77v1.0h-10.77zM654.8 250.9h10.77v1.0h-10.77zM654.8 270.9h10.77v1.0h-10.77zM654.8 295.9h10.77v1.0h-10.77zM654.8 300.9h10.77v1.0h-10.77zM654.8 303.9h10.77v1.0h-10.77zM654.8 324.9h10.77v1.0h-10.77zM654.8 330.9h10.77v1.0h-10.77zM654.8 347.9h10.77v1.0h-10.77zM654.8 349.9h10.77v1.0h-10.77zM654.8 355.9h10.77v1.0h-10.77z"/><path fill="#cee4ef" d="M471.8 80.9h10.77v1.0h-10.77zM471.8 140.9h10.77v1.0h-10.77zM471.8 161.9h10.77v1.0h-10.77zM471.8 169.9h10.77v1.0h-10.77zM471.8 181.9h10.77v1.0h-10.77zM471.8 200.9h10.77v2.0h-10.77zM471.8 204.9h10.77v1.0h-10.77zM471.8 214.9h10.77v1.0h-10.77zM471.8 221.9h10.77v2.0h-10.77zM471.8 227.9h10.77v1.0h-10.77zM471.8 234.9h10.77v1.0h-10.77zM471.8 249.9h10.77v1.0h-10.77zM471.8 253.9h10.77v1.0h-10.77zM471.8 265.9h10.77v1.0h-10.77zM471.8 268.9h10.77v1.0h-10.77zM471.8 278.9h10.77v1.0h-10.77zM471.8 300.9h10.77v1.0h-10.77zM471.8 341.9h10.77v1.0h-10.77zM471.8 343.9h10.77v1.0h-10.77zM471.8 352.9h10.77v1.0h-10.77zM482.6 87.9h10.77v1.0h-10.77zM482.6 97.9h10.77v1.0h-10.77zM482.6 103.9h10.77v1.0h-10.77zM482.6 107.9h10.77v1.0h-10.77zM482.6 116.9h10.77v1.0h-10.77zM482.6 138.9h10.77v1.0h-10.77zM482.6 144.9h10.77v1.0h-10.77zM482.6 177.9h10.77v1.0h-10.77zM482.6 188.9h10.77v1.0h-10.77zM482.6 213.9h10.77v1.0h-10.77zM482.6 227.9h10.77v1.0h-10.77zM482.6 242.9h10.77v1.0h-10.77zM482.6 246.9h10.77v1.0h-10.77zM482.6 250.9h10.77v1.0h-10.77zM482.6 258.9h10.77v1.0h-10.77zM482.6 260.9h10.77v1.0h-10.77zM482.6 273.9h10.77v2.0h-10.77zM482.6 276.9h10.77v1.0h-10.77zM482.6 293.9h10.77v1.0h-10.77zM482.6 299.9h10.77v1.0h-10.77zM482.6 320.9h10.77v1.0h-10.77zM482.6 326.9h10.77v1.0h-10.77zM482.6 332.9h10.77v1.0h-10.77zM482.6 341.9h10.77v2.0h-10.77zM482.6 367.9h10.77v1.0h-10.77zM482.6 379.9h10.77v1.0h-10.77zM493.3 73.9h10.77v2.0h-10.77zM493.3 96.9h10.77v1.0h-10.77zM493.3 140.9h10.77v1.0h-10.77zM493.3 163.9h10.77v2.0h-10.77zM493.3 224.9h10.77v1.0h-10.77zM493.3 242.9h10.77v1.0h-10.77zM493.3 268.9h10.77v1.0h-10.77zM493.3 312.9h10.77v1.0h-10.77zM493.3 314.9h10.77v1.0h-10.77zM493.3 316.9h10.77v1.0h-10.77zM493.3 321.9h10.77v1.0h-10.77zM493.3 336.9h10.77v1.0h-10.77zM493.3 355.9h10.77v1.0h-10.77zM493.3 381.9h10.77v1.0h-10.77zM504.1 88.9h10.77v1.0h-10.77zM504.1 91.9h10.77v1.0h-10.77zM504.1 158.9h10.77v1.0h-10.77zM504.1 207.9h10.77v2.0h-10.77zM504.1 211.9h10.77v1.0h-10.77zM504.1 216.9h10.77v1.0h-10.77zM504.1 219.9h10.77v1.0h-10.77zM504.1 227.9h10.77v1.0h-10.77zM504.1 232.9h10.77v1.0h-10.77zM504.1 238.9h10.77v1.0h-10.77zM504.1 252.9h10.77v1.0h-10.77zM504.1 266.9h10.77v1.0h-10.77zM504.1 276.9h10.77v1.0h-10.77zM504.1 281.9h10.77v1.0h-10.77zM504.1 286.9h10.77v1.0h-10.77zM504.1 300.9h10.77v1.0h-10.77zM504.1 312.9h10.77v1.0h-10.77zM504.1 326.9h10.77v1.0h-10.77zM504.1 335.9h10.77v1.0h-10.77zM504.1 337.9h10.77v1.0h-10.77zM504.1 357.9h10.77v1.0h-10.77zM514.9 84.9h10.77v2.0h-10.77zM514.9 88.9h10.77v1.0h-10.77zM514.9 93.9h10.77v1.0h-10.77zM514.9 117.9h10.77v2.0h-10.77zM514.9 122.9h10.77v1.0h-10.77zM514.9 141.9h10.77v1.0h-10.77zM514.9 146.9h10.77v1.0h-10.77zM514.9 150.9h10.77v1.0h-10.77zM514.9 171.9h10.77v1.0h-10.77zM514.9 209.9h10.77v1.0h-10.77zM514.9 211.9h10.77v1.0h-10.77zM514.9 216.9h10.77v1.0h-10.77zM514.9 229.9h10.77v1.0h-10.77zM514.9 238.9h10.77v1.0h-10.77zM514.9 257.9h10.77v1.0h-10.77zM514.9 259.9h10.77v1.0h-10.77zM514.9 262.9h10.77v3.0h-10.77zM514.9 293.9h10.77v1.0h-10.77zM514.9 295.9h10.77v1.0h-10.77zM514.9 305.9h10.77v2.0h-10.77zM514.9 320.9h10.77v1.0h-10.77zM514.9 337.9h10.77v1.0h-10.77zM514.9 349.9h10.77v1.0h-10.77zM514.9 375.9h10.77v2.0h-10.77zM514.9 379.9h10.77v1.0h-10.77zM514.9 382.9h10.77v1.0h-10.77zM525.6 78.9h10.77v1.0h-10.77zM525.6 82.9h10.77v1.0h-10.77zM525.6 110.9h10.77v1.0h-10.77zM525.6 112.9h10.77v1.0h-10.77zM525.6 141.9h10.77v1.0h-10.77zM525.6 155.9h10.77v2.0h-10.77zM525.6 186.9h10.77v1.0h-10.77zM525.6 190.9h10.77v1.0h-10.77zM525.6 195.9h10.77v1.0h-10.77zM525.6 220.9h10.77v1.0h-10.77zM525.6 231.9h10.77v1.0h-10.77zM525.6 235.9h10.77v1.0h-10.77zM525.6 242.9h10.77v1.0h-10.77zM525.6 248.9h10.77v1.0h-10.77zM525.6 254.9h10.77v1.0h-10.77zM525.6 269.9h10.77v1.0h-10.77zM525.6 284.9h10.77v1.0h-10.77zM525.6 298.9h10.77v2.0h-10.77zM525.6 301.9h10.77v1.0h-10.77zM525.6 323.9h10.77v2.0h-10.77zM525.6 328.9h10.77v3.0h-10.77zM525.6 342.9h10.77v2.0h-10.77zM525.6 383.9h10.77v1.0h-10.77zM536.4 78.9h10.77v1.0h-10.77zM536.4 82.9h10.77v1.0h-10.77zM536.4 97.9h10.77v1.0h-10.77zM536.4 134.9h10.77v1.0h-10.77zM536.4 152.9h10.77v1.0h-10.77zM536.4 159.9h10.77v1.0h-10.77zM536.4 204.9h10.77v1.0h-10.77zM536.4 214.9h10.77v1.0h-10.77zM536.4 219.9h10.77v1.0h-10.77zM536.4 239.9h10.77v1.0h-10.77zM536.4 242.9h10.77v1.0h-10.77zM536.4 245.9h10.77v1.0h-10.77zM536.4 272.9h10.77v1.0h-10.77zM536.4 278.9h10.77v1.0h-10.77zM536.4 311.9h10.77v1.0h-10.77zM536.4 314.9h10.77v1.0h-10.77zM536.4 319.9h10.77v1.0h-10.77zM536.4 324.9h10.77v1.0h-10.77zM536.4 343.9h10.77v1.0h-10.77zM536.4 355.9h10.77v1.0h-10.77zM536.4 365.9h10.77v1.0h-10.77zM536.4 369.9h10.77v1.0h-10.77zM547.2 77.9h10.77v1.0h-10.77zM547.2 82.9h10.77v1.0h-10.77zM547.2 105.9h10.77v1.0h-10.77zM547.2 142.9h10.77v1.0h-10.77zM547.2 160.9h10.77v1.0h-10.77zM547.2 176.9h10.77v1.0h-10.77zM547.2 196.9h10.77v1.0h-10.77zM547.2 204.9h10.77v1.0h-10.77zM547.2 240.9h10.77v1.0h-10.77zM547.2 257.9h10.77v1.0h-10.77zM547.2 278.9h10.77v1.0h-10.77zM547.2 283.9h10.77v1.0h-10.77zM547.2 293.9h10.77v1.0h-10.77zM547.2 318.9h10.77v1.0h-10.77zM547.2 344.9h10.77v1.0h-10.77zM547.2 358.9h10.77v1.0h-10.77zM547.2 364.9h10.77v2.0h-10.77zM547.2 383.9h10.77v1.0h-10.77zM557.9 82.9h10.77v1.0h-10.77zM557.9 87.9h10.77v1.0h-10.77zM557.9 89.9h10.77v1.0h-10.77zM557.9 157.9h10.77v2.0h-10.77zM557.9 170.9h10.77v1.0h-10.77zM557.9 180.9h10.77v1.0h-10.77zM557.9 191.9h10.77v1.0h-10.77zM557.9 229.9h10.77v1.0h-10.77zM557.9 235.9h10.77v1.0h-10.77zM557.9 250.9h10.77v1.0h-10.77zM557.9 253.9h10.77v1.0h-10.77zM557.9 257.9h10.77v3.0h-10.77zM557.9 262.9h10.77v1.0h-10.77zM557.9 269.9h10.77v1.0h-10.77zM557.9 277.9h10.77v1.0h-10.77zM557.9 299.9h10.77v1.0h-10.77zM557.9 350.9h10.77v1.0h-10.77zM557.9 375.9h10.77v2.0h-10.77zM568.7 82.9h10.77v2.0h-10.77zM568.7 136.9h10.77v1.0h-10.77zM568.7 158.9h10.77v1.0h-10.77zM568.7 163.9h10.77v1.0h-10.77zM568.7 174.9h10.77v1.0h-10.77zM568.7 184.9h10.77v1.0h-10.77zM568.7 208.9h10.77v1.0h-10.77zM568.7 215.9h10.77v2.0h-10.77zM568.7 226.9h10.77v1.0h-10.77zM568.7 251.9h10.77v2.0h-10.77zM568.7 310.9h10.77v1.0h-10.77zM568.7 312.9h10.77v1.0h-10.77zM568.7 334.9h10.77v1.0h-10.77zM568.7 337.9h10.77v1.0h-10.77zM568.7 339.9h10.77v1.0h-10.77zM568.7 341.9h10.77v1.0h-10.77zM568.7 359.9h10.77v1.0h-10.77zM568.7 366.9h10.77v1.0h-10.77zM579.5 83.9h10.77v1.0h-10.77zM579.5 93.9h10.77v1.0h-10.77zM579.5 100.9h10.77v1.0h-10.77zM579.5 110.9h10.77v1.0h-10.77zM579.5 112.9h10.77v1.0h-10.77zM579.5 118.9h10.77v1.0h-10.77zM579.5 141.9h10.77v1.0h-10.77zM579.5 144.9h10.77v1.0h-10.77zM579.5 184.9h10.77v1.0h-10.77zM579.5 187.9h10.77v1.0h-10.77zM579.5 216.9h10.77v2.0h-10.77zM579.5 219.9h10.77v1.0h-10.77zM579.5 223.9h10.77v1.0h-10.77zM579.5 315.9h10.77v2.0h-10.77zM579.5 341.9h10.77v1.0h-10.77zM579.5 352.9h10.77v1.0h-10.77zM579.5 376.9h10.77v2.0h-10.77zM590.2 114.9h10.77v1.0h-10.77zM590.2 116.9h10.77v1.0h-10.77zM590.2 120.9h10.77v1.0h-10.77zM590.2 126.9h10.77v1.0h-10.77zM590.2 131.9h10.77v1.0h-10.77zM590.2 185.9h10.77v1.0h-10.77zM590.2 191.9h10.77v2.0h-10.77zM590.2 201.9h10.77v1.0h-10.77zM590.2 211.9h10.77v2.0h-10.77zM590.2 224.9h10.77v1.0h-10.77zM590.2 229.9h10.77v1.0h-10.77zM590.2 235.9h10.77v1.0h-10.77zM590.2 265.9h10.77v1.0h-10.77zM590.2 299.9h10.77v1.0h-10.77zM590.2 308.9h10.77v1.0h-10.77zM590.2 310.9h10.77v1.0h-10.77zM590.2 330.9h10.77v1.0h-10.77zM590.2 334.9h10.77v1.0h-10.77zM601.0 95.9h10.77v1.0h-10.77zM601.0 106.9h10.77v1.0h-10.77zM601.0 111.9h10.77v1.0h-10.77zM601.0 119.9h10.77v1.0h-10.77zM601.0 132.9h10.77v1.0h-10.77zM601.0 157.9h10.77v1.0h-10.77zM601.0 160.9h10.77v1.0h-10.77zM601.0 165.9h10.77v2.0h-10.77zM601.0 185.9h10.77v1.0h-10.77zM601.0 189.9h10.77v1.0h-10.77zM601.0 200.9h10.77v1.0h-10.77zM601.0 226.9h10.77v1.0h-10.77zM601.0 247.9h10.77v1.0h-10.77zM601.0 273.9h10.77v1.0h-10.77zM601.0 295.9h10.77v1.0h-10.77zM601.0 311.9h10.77v1.0h-10.77zM601.0 321.9h10.77v1.0h-10.77zM601.0 333.9h10.77v1.0h-10.77zM601.0 368.9h10.77v1.0h-10.77zM601.0 371.9h10.77v1.0h-10.77zM601.0 382.9h10.77v1.0h-10.77zM611.8 82.9h10.77v1.0h-10.77zM611.8 96.9h10.77v1.0h-10.77zM611.8 134.9h10.77v1.0h-10.77zM611.8 137.9h10.77v1.0h-10.77zM611.8 151.9h10.77v2.0h-10.77zM611.8 155.9h10.77v1.0h-10.77zM611.8 160.9h10.77v1.0h-10.77zM611.8 187.9h10.77v1.0h-10.77zM611.8 193.9h10.77v2.0h-10.77zM611.8 207.9h10.77v1.0h-10.77zM611.8 230.9h10.77v1.0h-10.77zM611.8 237.9h10.77v1.0h-10.77zM611.8 289.9h10.77v2.0h-10.77zM611.8 297.9h10.77v1.0h-10.77zM611.8 302.9h10.77v2.0h-10.77zM611.8 325.9h10.77v1.0h-10.77zM611.8 349.9h10.77v1.0h-10.77zM611.8 355.9h10.77v1.0h-10.77zM611.8 368.9h10.77v1.0h-10.77zM622.5 73.9h10.77v1.0h-10.77zM622.5 77.9h10.77v1.0h-10.77zM622.5 98.9h10.77v1.0h-10.77zM622.5 100.9h10.77v1.0h-10.77zM622.5 107.9h10.77v1.0h-10.77zM622.5 129.9h10.77v1.0h-10.77zM622.5 133.9h10.77v1.0h-10.77zM622.5 138.9h10.77v1.0h-10.77zM622.5 157.9h10.77v1.0h-10.77zM622.5 172.9h10.77v1.0h-10.77zM622.5 190.9h10.77v1.0h-10.77zM622.5 203.9h10.77v1.0h-10.77zM622.5 211.9h10.77v1.0h-10.77zM622.5 227.9h10.77v1.0h-10.77zM622.5 258.9h10.77v1.0h-10.77zM622.5 310.9h10.77v2.0h-10.77zM622.5 337.9h10.77v1.0h-10.77zM622.5 339.9h10.77v1.0h-10.77zM622.5 355.9h10.77v1.0h-10.77zM622.5 365.9h10.77v1.0h-10.77zM633.3 81.9h10.77v1.0h-10.77zM633.3 100.9h10.77v1.0h-10.77zM633.3 111.9h10.77v1.0h-10.77zM633.3 177.9h10.77v1.0h-10.77zM633.3 195.9h10.77v1.0h-10.77zM633.3 204.9h10.77v1.0h-10.77zM633.3 206.9h10.77v1.0h-10.77zM633.3 220.9h10.77v1.0h-10.77zM633.3 225.9h10.77v1.0h-10.77zM633.3 270.9h10.77v1.0h-10.77zM633.3 276.9h10.77v1.0h-10.77zM633.3 291.9h10.77v1.0h-10.77zM633.3 299.9h10.77v1.0h-10.77zM633.3 329.9h10.77v1.0h-10.77zM633.3 346.9h10.77v1.0h-10.77zM633.3 356.9h10.77v1.0h-10.77zM633.3 371.9h10.77v1.0h-10.77zM644.1 77.9h10.77v1.0h-10.77zM644.1 79.9h10.77v1.0h-10.77zM644.1 178.9h10.77v1.0h-10.77zM644.1 185.9h10.77v2.0h-10.77zM644.1 191.9h10.77v1.0h-10.77zM644.1 228.9h10.77v1.0h-10.77zM644.1 238.9h10.77v2.0h-10.77zM644.1 254.9h10.77v1.0h-10.77zM644.1 263.9h10.77v1.0h-10.77zM644.1 271.9h10.77v1.0h-10.77zM644.1 276.9h10.77v1.0h-10.77zM644.1 285.9h10.77v2.0h-10.77zM644.1 288.9h10.77v1.0h-10.77zM644.1 292.9h10.77v1.0h-10.77zM644.1 295.9h10.77v1.0h-10.77zM644.1 303.9h10.77v1.0h-10.77zM644.1 305.9h10.77v1.0h-10.77zM644.1 313.9h10.77v1.0h-10.77zM644.1 338.9h10.77v1.0h-10.77zM644.1 347.9h10.77v1.0h-10.77zM644.1 349.9h10.77v1.0h-10.77zM644.1 353.9h10.77v2.0h-10.77zM644.1 379.9h10.77v2.0h-10.77zM654.8 93.9h10.77v1.0h-10.77zM654.8 113.9h10.77v2.0h-10.77zM654.8 129.9h10.77v1.0h-10.77zM654.8 160.9h10.77v1.0h-10.77zM654.8 167.9h10.77v1.0h-10.77zM654.8 173.9h10.77v3.0h-10.77zM654.8 179.9h10.77v1.0h-10.77zM654.8 189.9h10.77v1.0h-10.77zM654.8 200.9h10.77v1.0h-10.77zM654.8 209.9h10.77v1.0h-10.77zM654.8 243.9h10.77v1.0h-10.77zM654.8 257.9h10.77v1.0h-10.77zM654.8 260.9h10.77v1.0h-10.77zM654.8 284.9h10.77v1.0h-10.77zM654.8 299.9h10.77v1.0h-10.77zM654.8 325.9h10.77v1.0h-10.77zM654.8 328.9h10.77v1.0h-10.77zM654.8 354.9h10.77v1.0h-10.77zM654.8 358.9h10.77v1.0h-10.77z"/><path fill="#d5e9f2" d="M471.8 88.9h10.77v1.0h-10.77zM471.8 95.9h10.77v1.0h-10.77zM471.8 97.9h10.77v1.0h-10.77zM471.8 113.9h10.77v1.0h-10.77zM471.8 120.9h10.77v1.0h-10.77zM471.8 136.9h10.77v1.0h-10.77zM471.8 156.9h10.77v1.0h-10.77zM471.8 197.9h10.77v2.0h-10.77zM471.8 211.9h10.77v1.0h-10.77zM471.8 230.9h10.77v1.0h-10.77zM471.8 256.9h10.77v1.0h-10.77zM471.8 263.9h10.77v1.0h-10.77zM471.8 267.9h10.77v1.0h-10.77zM471.8 273.9h10.77v1.0h-10.77zM471.8 284.9h10.77v1.0h-10.77zM471.8 294.9h10.77v1.0h-10.77zM471.8 311.9h10.77v2.0h-10.77zM471.8 321.9h10.77v1.0h-10.77zM471.8 345.9h10.77v1.0h-10.77zM471.8 370.9h10.77v1.0h-10.77zM471.8 375.9h10.77v1.0h-10.77zM471.8 382.9h10.77v1.0h-10.77zM482.6 91.9h10.77v1.0h-10.77zM482.6 95.9h10.77v1.0h-10.77zM482.6 102.9h10.77v1.0h-10.77zM482.6 123.9h10.77v1.0h-10.77zM482.6 148.9h10.77v1.0h-10.77zM482.6 158.9h10.77v1.0h-10.77zM482.6 164.9h10.77v1.0h-10.77zM482.6 184.9h10.77v1.0h-10.77zM482.6 214.9h10.77v1.0h-10.77zM482.6 219.9h10.77v1.0h-10.77zM482.6 222.9h10.77v1.0h-10.77zM482.6 248.9h10.77v1.0h-10.77zM482.6 259.9h10.77v1.0h-10.77zM482.6 266.9h10.77v1.0h-10.77zM482.6 272.9h10.77v1.0h-10.77zM482.6 284.9h10.77v1.0h-10.77zM482.6 289.9h10.77v2.0h-10.77zM482.6 306.9h10.77v1.0h-10.77zM482.6 309.9h10.77v1.0h-10.77zM482.6 311.9h10.77v2.0h-10.77zM482.6 321.9h10.77v1.0h-10.77zM482.6 324.9h10.77v1.0h-10.77zM482.6 329.9h10.77v3.0h-10.77zM482.6 337.9h10.77v1.0h-10.77zM482.6 352.9h10.77v1.0h-10.77zM482.6 355.9h10.77v1.0h-10.77zM482.6 362.9h10.77v1.0h-10.77zM482.6 366.9h10.77v1.0h-10.77zM482.6 372.9h10.77v1.0h-10.77zM482.6 380.9h10.77v1.0h-10.77zM482.6 383.9h10.77v1.0h-10.77zM493.3 81.9h10.77v1.0h-10.77zM493.3 83.9h10.77v2.0h-10.77zM493.3 95.9h10.77v1.0h-10.77zM493.3 97.9h10.77v1.0h-10.77zM493.3 100.9h10.77v1.0h-10.77zM493.3 133.9h10.77v1.0h-10.77zM493.3 138.9h10.77v1.0h-10.77zM493.3 165.9h10.77v1.0h-10.77zM493.3 186.9h10.77v1.0h-10.77zM493.3 190.9h10.77v1.0h-10.77zM493.3 205.9h10.77v1.0h-10.77zM493.3 230.9h10.77v1.0h-10.77zM493.3 239.9h10.77v3.0h-10.77zM493.3 257.9h10.77v1.0h-10.77zM493.3 266.9h10.77v2.0h-10.77zM493.3 269.9h10.77v1.0h-10.77zM493.3 284.9h10.77v1.0h-10.77zM493.3 306.9h10.77v3.0h-10.77zM493.3 344.9h10.77v1.0h-10.77zM493.3 346.9h10.77v1.0h-10.77zM493.3 351.9h10.77v1.0h-10.77zM493.3 371.9h10.77v1.0h-10.77zM493.3 382.9h10.77v1.0h-10.77zM504.1 80.9h10.77v1.0h-10.77zM504.1 97.9h10.77v1.0h-10.77zM504.1 100.9h10.77v1.0h-10.77zM504.1 109.9h10.77v1.0h-10.77zM504.1 117.9h10.77v1.0h-10.77zM504.1 143.9h10.77v1.0h-10.77zM504.1 157.9h10.77v1.0h-10.77zM504.1 163.9h10.77v1.0h-10.77zM504.1 178.9h10.77v1.0h-10.77zM504.1 214.9h10.77v1.0h-10.77zM504.1 217.9h10.77v1.0h-10.77zM504.1 239.9h10.77v1.0h-10.77zM504.1 243.9h10.77v1.0h-10.77zM504.1 258.9h10.77v3.0h-10.77zM504.1 265.9h10.77v1.0h-10.77zM504.1 277.9h10.77v1.0h-10.77zM504.1 301.9h10.77v1.0h-10.77zM504.1 309.9h10.77v1.0h-10.77zM504.1 317.9h10.77v1.0h-10.77zM504.1 320.9h10.77v1.0h-10.77zM504.1 328.9h10.77v1.0h-10.77zM504.1 333.9h10.77v1.0h-10.77zM504.1 338.9h10.77v1.0h-10.77zM504.1 358.9h10.77v1.0h-10.77zM504.1 363.9h10.77v1.0h-10.77zM504.1 369.9h10.77v1.0h-10.77zM504.1 371.9h10.77v1.0h-10.77zM504.1 374.9h10.77v1.0h-10.77zM504.1 380.9h10.77v1.0h-10.77zM514.9 74.9h10.77v1.0h-10.77zM514.9 83.9h10.77v1.0h-10.77zM514.9 89.9h10.77v1.0h-10.77zM514.9 121.9h10.77v1.0h-10.77zM514.9 130.9h10.77v1.0h-10.77zM514.9 164.9h10.77v1.0h-10.77zM514.9 173.9h10.77v1.0h-10.77zM514.9 189.9h10.77v1.0h-10.77zM514.9 213.9h10.77v1.0h-10.77zM514.9 258.9h10.77v1.0h-10.77zM514.9 309.9h10.77v1.0h-10.77zM514.9 319.9h10.77v1.0h-10.77zM514.9 334.9h10.77v1.0h-10.77zM514.9 338.9h10.77v1.0h-10.77zM514.9 348.9h10.77v1.0h-10.77zM525.6 86.9h10.77v1.0h-10.77zM525.6 99.9h10.77v3.0h-10.77zM525.6 126.9h10.77v1.0h-10.77zM525.6 144.9h10.77v1.0h-10.77zM525.6 157.9h10.77v1.0h-10.77zM525.6 164.9h10.77v1.0h-10.77zM525.6 182.9h10.77v1.0h-10.77zM525.6 184.9h10.77v1.0h-10.77zM525.6 187.9h10.77v1.0h-10.77zM525.6 192.9h10.77v1.0h-10.77zM525.6 207.9h10.77v1.0h-10.77zM525.6 213.9h10.77v1.0h-10.77zM525.6 234.9h10.77v1.0h-10.77zM525.6 241.9h10.77v1.0h-10.77zM525.6 261.9h10.77v2.0h-10.77zM525.6 267.9h10.77v1.0h-10.77zM525.6 271.9h10.77v1.0h-10.77zM525.6 296.9h10.77v1.0h-10.77zM525.6 304.9h10.77v1.0h-10.77zM525.6 316.9h10.77v1.0h-10.77zM525.6 346.9h10.77v1.0h-10.77zM525.6 357.9h10.77v2.0h-10.77zM525.6 377.9h10.77v1.0h-10.77zM536.4 91.9h10.77v1.0h-10.77zM536.4 93.9h10.77v1.0h-10.77zM536.4 95.9h10.77v1.0h-10.77zM536.4 101.9h10.77v1.0h-10.77zM536.4 117.9h10.77v1.0h-10.77zM536.4 125.9h10.77v1.0h-10.77zM536.4 127.9h10.77v1.0h-10.77zM536.4 149.9h10.77v1.0h-10.77zM536.4 157.9h10.77v1.0h-10.77zM536.4 167.9h10.77v1.0h-10.77zM536.4 188.9h10.77v1.0h-10.77zM536.4 195.9h10.77v1.0h-10.77zM536.4 207.9h10.77v2.0h-10.77zM536.4 224.9h10.77v1.0h-10.77zM536.4 231.9h10.77v1.0h-10.77zM536.4 255.9h10.77v1.0h-10.77zM536.4 274.9h10.77v1.0h-10.77zM536.4 286.9h10.77v1.0h-10.77zM536.4 297.9h10.77v1.0h-10.77zM536.4 328.9h10.77v1.0h-10.77zM547.2 104.9h10.77v1.0h-10.77zM547.2 110.9h10.77v1.0h-10.77zM547.2 122.9h10.77v1.0h-10.77zM547.2 145.9h10.77v1.0h-10.77zM547.2 149.9h10.77v1.0h-10.77zM547.2 156.9h10.77v1.0h-10.77zM547.2 186.9h10.77v1.0h-10.77zM547.2 188.9h10.77v1.0h-10.77zM547.2 241.9h10.77v1.0h-10.77zM547.2 243.9h10.77v1.0h-10.77zM547.2 258.9h10.77v2.0h-10.77zM547.2 265.9h10.77v1.0h-10.77zM547.2 275.9h10.77v3.0h-10.77zM547.2 281.9h10.77v1.0h-10.77zM547.2 297.9h10.77v1.0h-10.77zM547.2 304.9h10.77v1.0h-10.77zM547.2 320.9h10.77v1.0h-10.77zM547.2 332.9h10.77v1.0h-10.77zM547.2 335.9h10.77v1.0h-10.77zM547.2 342.9h10.77v1.0h-10.77zM547.2 347.9h10.77v1.0h-10.77zM547.2 351.9h10.77v1.0h-10.77zM547.2 369.9h10.77v1.0h-10.77zM557.9 127.9h10.77v1.0h-10.77zM557.9 153.9h10.77v1.0h-10.77zM557.9 192.9h10.77v1.0h-10.77zM557.9 209.9h10.77v1.0h-10.77zM557.9 212.9h10.77v1.0h-10.77zM557.9 236.9h10.77v1.0h-10.77zM557.9 243.9h10.77v1.0h-10.77zM557.9 278.9h10.77v1.0h-10.77zM557.9 289.9h10.77v1.0h-10.77zM557.9 291.9h10.77v1.0h-10.77zM557.9 336.9h10.77v1.0h-10.77zM568.7 116.9h10.77v1.0h-10.77zM568.7 122.9h10.77v1.0h-10.77zM568.7 141.9h10.77v2.0h-10.77zM568.7 152.9h10.77v1.0h-10.77zM568.7 161.9h10.77v1.0h-10.77zM568.7 180.9h10.77v1.0h-10.77zM568.7 209.9h10.77v1.0h-10.77zM568.7 212.9h10.77v1.0h-10.77zM568.7 219.9h10.77v1.0h-10.77zM568.7 243.9h10.77v1.0h-10.77zM568.7 248.9h10.77v1.0h-10.77zM568.7 304.9h10.77v1.0h-10.77zM568.7 306.9h10.77v1.0h-10.77zM568.7 328.9h10.77v1.0h-10.77zM568.7 332.9h10.77v1.0h-10.77zM568.7 338.9h10.77v1.0h-10.77zM568.7 346.9h10.77v1.0h-10.77zM568.7 360.9h10.77v1.0h-10.77zM568.7 370.9h10.77v1.0h-10.77zM568.7 379.9h10.77v1.0h-10.77zM579.5 88.9h10.77v1.0h-10.77zM579.5 108.9h10.77v2.0h-10.77zM579.5 117.9h10.77v1.0h-10.77zM579.5 138.9h10.77v1.0h-10.77zM579.5 156.9h10.77v1.0h-10.77zM579.5 164.9h10.77v1.0h-10.77zM579.5 205.9h10.77v1.0h-10.77zM579.5 226.9h10.77v1.0h-10.77zM579.5 231.9h10.77v2.0h-10.77zM579.5 252.9h10.77v1.0h-10.77zM579.5 266.9h10.77v2.0h-10.77zM579.5 314.9h10.77v1.0h-10.77zM579.5 357.9h10.77v1.0h-10.77zM579.5 370.9h10.77v1.0h-10.77zM579.5 381.9h10.77v1.0h-10.77zM590.2 94.9h10.77v1.0h-10.77zM590.2 124.9h10.77v2.0h-10.77zM590.2 165.9h10.77v1.0h-10.77zM590.2 170.9h10.77v1.0h-10.77zM590.2 175.9h10.77v2.0h-10.77zM590.2 179.9h10.77v1.0h-10.77zM590.2 198.9h10.77v1.0h-10.77zM590.2 205.9h10.77v1.0h-10.77zM590.2 227.9h10.77v1.0h-10.77zM590.2 230.9h10.77v1.0h-10.77zM590.2 249.9h10.77v1.0h-10.77zM590.2 259.9h10.77v1.0h-10.77zM590.2 266.9h10.77v1.0h-10.77zM590.2 298.9h10.77v1.0h-10.77zM590.2 318.9h10.77v1.0h-10.77zM590.2 339.9h10.77v1.0h-10.77zM590.2 342.9h10.77v1.0h-10.77zM590.2 350.9h10.77v1.0h-10.77zM590.2 353.9h10.77v1.0h-10.77zM590.2 362.9h10.77v1.0h-10.77zM590.2 382.9h10.77v1.0h-10.77zM601.0 96.9h10.77v1.0h-10.77zM601.0 120.9h10.77v1.0h-10.77zM601.0 130.9h10.77v1.0h-10.77zM601.0 138.9h10.77v2.0h-10.77zM601.0 142.9h10.77v1.0h-10.77zM601.0 145.9h10.77v1.0h-10.77zM601.0 161.9h10.77v1.0h-10.77zM601.0 208.9h10.77v3.0h-10.77zM601.0 244.9h10.77v1.0h-10.77zM601.0 260.9h10.77v1.0h-10.77zM601.0 263.9h10.77v2.0h-10.77zM601.0 267.9h10.77v1.0h-10.77zM601.0 274.9h10.77v1.0h-10.77zM601.0 292.9h10.77v1.0h-10.77zM601.0 299.9h10.77v1.0h-10.77zM601.0 360.9h10.77v1.0h-10.77zM601.0 366.9h10.77v1.0h-10.77zM611.8 130.9h10.77v1.0h-10.77zM611.8 135.9h10.77v1.0h-10.77zM611.8 143.9h10.77v1.0h-10.77zM611.8 147.9h10.77v1.0h-10.77zM611.8 177.9h10.77v1.0h-10.77zM611.8 179.9h10.77v1.0h-10.77zM611.8 186.9h10.77v1.0h-10.77zM611.8 191.9h10.77v1.0h-10.77zM611.8 205.9h10.77v1.0h-10.77zM611.8 213.9h10.77v1.0h-10.77zM611.8 241.9h10.77v1.0h-10.77zM611.8 276.9h10.77v1.0h-10.77zM611.8 279.9h10.77v1.0h-10.77zM611.8 284.9h10.77v1.0h-10.77zM611.8 306.9h10.77v1.0h-10.77zM611.8 354.9h10.77v1.0h-10.77zM611.8 357.9h10.77v1.0h-10.77zM611.8 359.9h10.77v1.0h-10.77zM611.8 369.9h10.77v1.0h-10.77zM611.8 380.9h10.77v1.0h-10.77zM622.5 76.9h10.77v1.0h-10.77zM622.5 81.9h10.77v1.0h-10.77zM622.5 99.9h10.77v1.0h-10.77zM622.5 102.9h10.77v2.0h-10.77zM622.5 124.9h10.77v1.0h-10.77zM622.5 130.9h10.77v1.0h-10.77zM622.5 149.9h10.77v1.0h-10.77zM622.5 158.9h10.77v1.0h-10.77zM622.5 160.9h10.77v1.0h-10.77zM622.5 171.9h10.77v1.0h-10.77zM622.5 207.9h10.77v1.0h-10.77zM622.5 215.9h10.77v2.0h-10.77zM622.5 271.9h10.77v1.0h-10.77zM622.5 284.9h10.77v1.0h-10.77zM622.5 300.9h10.77v1.0h-10.77zM622.5 302.9h10.77v1.0h-10.77zM622.5 306.9h10.77v1.0h-10.77zM622.5 312.9h10.77v1.0h-10.77zM622.5 314.9h10.77v1.0h-10.77zM622.5 325.9h10.77v1.0h-10.77zM622.5 328.9h10.77v1.0h-10.77zM622.5 366.9h10.77v1.0h-10.77zM633.3 82.9h10.77v1.0h-10.77zM633.3 129.9h10.77v1.0h-10.77zM633.3 172.9h10.77v1.0h-10.77zM633.3 185.9h10.77v1.0h-10.77zM633.3 212.9h10.77v1.0h-10.77zM633.3 216.9h10.77v1.0h-10.77zM633.3 228.9h10.77v1.0h-10.77zM633.3 237.9h10.77v1.0h-10.77zM633.3 239.9h10.77v1.0h-10.77zM633.3 243.9h10.77v1.0h-10.77zM633.3 256.9h10.77v2.0h-10.77zM633.3 282.9h10.77v1.0h-10.77zM633.3 301.9h10.77v2.0h-10.77zM633.3 315.9h10.77v1.0h-10.77zM633.3 328.9h10.77v1.0h-10.77zM633.3 340.9h10.77v1.0h-10.77zM633.3 354.9h10.77v2.0h-10.77zM633.3 369.9h10.77v1.0h-10.77zM644.1 78.9h10.77v1.0h-10.77zM644.1 84.9h10.77v1.0h-10.77zM644.1 98.9h10.77v1.0h-10.77zM644.1 113.9h10.77v2.0h-10.77zM644.1 120.9h10.77v1.0h-10.77zM644.1 158.9h10.77v1.0h-10.77zM644.1 194.9h10.77v1.0h-10.77zM644.1 210.9h10.77v1.0h-10.77zM644.1 231.9h10.77v1.0h-10.77zM644.1 237.9h10.77v1.0h-10.77zM644.1 241.9h10.77v1.0h-10.77zM644.1 248.9h10.77v1.0h-10.77zM644.1 255.9h10.77v1.0h-10.77zM644.1 268.9h10.77v1.0h-10.77zM644.1 277.9h10.77v1.0h-10.77zM644.1 280.9h10.77v1.0h-10.77zM644.1 283.9h10.77v1.0h-10.77zM644.1 287.9h10.77v1.0h-10.77zM644.1 289.9h10.77v1.0h-10.77zM644.1 297.9h10.77v1.0h-10.77zM644.1 304.9h10.77v1.0h-10.77zM644.1 336.9h10.77v1.0h-10.77zM644.1 348.9h10.77v1.0h-10.77zM644.1 378.9h10.77v1.0h-10.77zM654.8 73.9h10.77v1.0h-10.77zM654.8 90.9h10.77v1.0h-10.77zM654.8 122.9h10.77v2.0h-10.77zM654.8 126.9h10.77v1.0h-10.77zM654.8 137.9h10.77v1.0h-10.77zM654.8 180.9h10.77v2.0h-10.77zM654.8 196.9h10.77v1.0h-10.77zM654.8 217.9h10.77v1.0h-10.77zM654.8 231.9h10.77v1.0h-10.77zM654.8 242.9h10.77v1.0h-10.77zM654.8 246.9h10.77v4.0h-10.77zM654.8 256.9h10.77v1.0h-10.77zM654.8 265.9h10.77v1.0h-10.77zM654.8 282.9h10.77v2.0h-10.77zM654.8 329.9h10.77v1.0h-10.77zM654.8 337.9h10.77v1.0h-10.77zM654.8 346.9h10.77v1.0h-10.77zM654.8 348.9h10.77v1.0h-10.77zM654.8 353.9h10.77v1.0h-10.77zM654.8 359.9h10.77v1.0h-10.77z"/><path fill="#dcedf4" d="M471.8 117.9h10.77v2.0h-10.77zM471.8 233.9h10.77v1.0h-10.77zM471.8 251.9h10.77v1.0h-10.77zM471.8 254.9h10.77v1.0h-10.77zM471.8 262.9h10.77v1.0h-10.77zM471.8 313.9h10.77v1.0h-10.77zM471.8 318.9h10.77v1.0h-10.77zM471.8 329.9h10.77v1.0h-10.77zM471.8 339.9h10.77v1.0h-10.77zM471.8 346.9h10.77v1.0h-10.77zM471.8 361.9h10.77v1.0h-10.77zM471.8 376.9h10.77v1.0h-10.77zM482.6 88.9h10.77v1.0h-10.77zM482.6 92.9h10.77v1.0h-10.77zM482.6 98.9h10.77v1.0h-10.77zM482.6 100.9h10.77v1.0h-10.77zM482.6 106.9h10.77v1.0h-10.77zM482.6 119.9h10.77v2.0h-10.77zM482.6 122.9h10.77v1.0h-10.77zM482.6 132.9h10.77v1.0h-10.77zM482.6 146.9h10.77v1.0h-10.77zM482.6 153.9h10.77v1.0h-10.77zM482.6 156.9h10.77v1.0h-10.77zM482.6 176.9h10.77v1.0h-10.77zM482.6 230.9h10.77v1.0h-10.77zM482.6 236.9h10.77v1.0h-10.77zM482.6 244.9h10.77v1.0h-10.77zM482.6 249.9h10.77v1.0h-10.77zM482.6 252.9h10.77v2.0h-10.77zM482.6 255.9h10.77v1.0h-10.77zM482.6 257.9h10.77v1.0h-10.77zM482.6 269.9h10.77v1.0h-10.77zM482.6 307.9h10.77v1.0h-10.77zM482.6 319.9h10.77v1.0h-10.77zM482.6 323.9h10.77v1.0h-10.77zM482.6 325.9h10.77v1.0h-10.77zM482.6 339.9h10.77v1.0h-10.77zM482.6 343.9h10.77v1.0h-10.77zM493.3 79.9h10.77v2.0h-10.77zM493.3 85.9h10.77v2.0h-10.77zM493.3 92.9h10.77v1.0h-10.77zM493.3 108.9h10.77v1.0h-10.77zM493.3 117.9h10.77v1.0h-10.77zM493.3 120.9h10.77v4.0h-10.77zM493.3 171.9h10.77v1.0h-10.77zM493.3 183.9h10.77v1.0h-10.77zM493.3 228.9h10.77v1.0h-10.77zM493.3 258.9h10.77v1.0h-10.77zM493.3 265.9h10.77v1.0h-10.77zM493.3 272.9h10.77v1.0h-10.77zM493.3 277.9h10.77v1.0h-10.77zM493.3 323.9h10.77v2.0h-10.77zM493.3 342.9h10.77v1.0h-10.77zM493.3 352.9h10.77v1.0h-10.77zM493.3 354.9h10.77v1.0h-10.77zM493.3 356.9h10.77v1.0h-10.77zM493.3 370.9h10.77v1.0h-10.77zM504.1 87.9h10.77v1.0h-10.77zM504.1 105.9h10.77v1.0h-10.77zM504.1 128.9h10.77v1.0h-10.77zM504.1 130.9h10.77v1.0h-10.77zM504.1 152.9h10.77v2.0h-10.77zM504.1 174.9h10.77v1.0h-10.77zM504.1 180.9h10.77v1.0h-10.77zM504.1 212.9h10.77v1.0h-10.77zM504.1 229.9h10.77v1.0h-10.77zM504.1 242.9h10.77v1.0h-10.77zM504.1 254.9h10.77v1.0h-10.77zM504.1 267.9h10.77v1.0h-10.77zM504.1 291.9h10.77v1.0h-10.77zM504.1 325.9h10.77v1.0h-10.77zM504.1 345.9h10.77v1.0h-10.77zM504.1 353.9h10.77v1.0h-10.77zM504.1 372.9h10.77v2.0h-10.77zM514.9 94.9h10.77v1.0h-10.77zM514.9 112.9h10.77v1.0h-10.77zM514.9 119.9h10.77v1.0h-10.77zM514.9 157.9h10.77v1.0h-10.77zM514.9 180.9h10.77v1.0h-10.77zM514.9 186.9h10.77v1.0h-10.77zM514.9 212.9h10.77v1.0h-10.77zM514.9 215.9h10.77v1.0h-10.77zM514.9 231.9h10.77v2.0h-10.77zM514.9 243.9h10.77v3.0h-10.77zM514.9 248.9h10.77v1.0h-10.77zM514.9 254.9h10.77v1.0h-10.77zM514.9 269.9h10.77v1.0h-10.77zM514.9 284.9h10.77v1.0h-10.77zM514.9 304.9h10.77v1.0h-10.77zM514.9 380.9h10.77v1.0h-10.77zM525.6 74.9h10.77v1.0h-10.77zM525.6 85.9h10.77v1.0h-10.77zM525.6 96.9h10.77v1.0h-10.77zM525.6 113.9h10.77v1.0h-10.77zM525.6 130.9h10.77v3.0h-10.77zM525.6 137.9h10.77v1.0h-10.77zM525.6 139.9h10.77v1.0h-10.77zM525.6 150.9h10.77v1.0h-10.77zM525.6 181.9h10.77v1.0h-10.77zM525.6 185.9h10.77v1.0h-10.77zM525.6 209.9h10.77v1.0h-10.77zM525.6 230.9h10.77v1.0h-10.77zM525.6 244.9h10.77v1.0h-10.77zM525.6 266.9h10.77v1.0h-10.77zM525.6 276.9h10.77v1.0h-10.77zM525.6 280.9h10.77v1.0h-10.77zM525.6 286.9h10.77v1.0h-10.77zM525.6 289.9h10.77v1.0h-10.77zM525.6 310.9h10.77v1.0h-10.77zM525.6 319.9h10.77v1.0h-10.77zM525.6 326.9h10.77v1.0h-10.77zM525.6 333.9h10.77v2.0h-10.77zM525.6 353.9h10.77v1.0h-10.77zM525.6 355.9h10.77v1.0h-10.77zM525.6 372.9h10.77v1.0h-10.77zM525.6 374.9h10.77v1.0h-10.77zM536.4 74.9h10.77v1.0h-10.77zM536.4 76.9h10.77v1.0h-10.77zM536.4 80.9h10.77v1.0h-10.77zM536.4 98.9h10.77v2.0h-10.77zM536.4 119.9h10.77v1.0h-10.77zM536.4 121.9h10.77v1.0h-10.77zM536.4 124.9h10.77v1.0h-10.77zM536.4 126.9h10.77v1.0h-10.77zM536.4 132.9h10.77v1.0h-10.77zM536.4 142.9h10.77v1.0h-10.77zM536.4 145.9h10.77v1.0h-10.77zM536.4 165.9h10.77v1.0h-10.77zM536.4 186.9h10.77v1.0h-10.77zM536.4 189.9h10.77v1.0h-10.77zM536.4 256.9h10.77v1.0h-10.77zM536.4 264.9h10.77v2.0h-10.77zM536.4 268.9h10.77v2.0h-10.77zM536.4 280.9h10.77v1.0h-10.77zM536.4 312.9h10.77v1.0h-10.77zM536.4 320.9h10.77v1.0h-10.77zM536.4 322.9h10.77v1.0h-10.77zM536.4 329.9h10.77v1.0h-10.77zM536.4 338.9h10.77v1.0h-10.77zM536.4 360.9h10.77v2.0h-10.77zM536.4 383.9h10.77v1.0h-10.77zM547.2 75.9h10.77v1.0h-10.77zM547.2 132.9h10.77v1.0h-10.77zM547.2 139.9h10.77v1.0h-10.77zM547.2 164.9h10.77v1.0h-10.77zM547.2 172.9h10.77v2.0h-10.77zM547.2 182.9h10.77v1.0h-10.77zM547.2 242.9h10.77v1.0h-10.77zM547.2 251.9h10.77v1.0h-10.77zM547.2 260.9h10.77v1.0h-10.77zM547.2 274.9h10.77v1.0h-10.77zM547.2 282.9h10.77v1.0h-10.77zM547.2 292.9h10.77v1.0h-10.77zM547.2 294.9h10.77v1.0h-10.77zM547.2 307.9h10.77v1.0h-10.77zM547.2 315.9h10.77v1.0h-10.77zM547.2 328.9h10.77v3.0h-10.77zM557.9 151.9h10.77v1.0h-10.77zM557.9 154.9h10.77v3.0h-10.77zM557.9 261.9h10.77v1.0h-10.77zM557.9 275.9h10.77v2.0h-10.77zM557.9 281.9h10.77v1.0h-10.77zM557.9 288.9h10.77v1.0h-10.77zM557.9 331.9h10.77v1.0h-10.77zM557.9 352.9h10.77v1.0h-10.77zM557.9 366.9h10.77v2.0h-10.77zM557.9 374.9h10.77v1.0h-10.77zM568.7 75.9h10.77v1.0h-10.77zM568.7 92.9h10.77v1.0h-10.77zM568.7 101.9h10.77v1.0h-10.77zM568.7 105.9h10.77v2.0h-10.77zM568.7 108.9h10.77v1.0h-10.77zM568.7 111.9h10.77v1.0h-10.77zM568.7 134.9h10.77v1.0h-10.77zM568.7 138.9h10.77v2.0h-10.77zM568.7 145.9h10.77v1.0h-10.77zM568.7 159.9h10.77v1.0h-10.77zM568.7 171.9h10.77v2.0h-10.77zM568.7 176.9h10.77v1.0h-10.77zM568.7 178.9h10.77v1.0h-10.77zM568.7 185.9h10.77v1.0h-10.77zM568.7 196.9h10.77v1.0h-10.77zM568.7 202.9h10.77v1.0h-10.77zM568.7 207.9h10.77v1.0h-10.77zM568.7 213.9h10.77v1.0h-10.77zM568.7 234.9h10.77v1.0h-10.77zM568.7 245.9h10.77v1.0h-10.77zM568.7 253.9h10.77v1.0h-10.77zM568.7 257.9h10.77v1.0h-10.77zM568.7 261.9h10.77v1.0h-10.77zM568.7 316.9h10.77v3.0h-10.77zM568.7 333.9h10.77v1.0h-10.77zM568.7 351.9h10.77v1.0h-10.77zM568.7 362.9h10.77v1.0h-10.77zM568.7 368.9h10.77v1.0h-10.77zM568.7 374.9h10.77v1.0h-10.77zM568.7 376.9h10.77v1.0h-10.77zM579.5 80.9h10.77v2.0h-10.77zM579.5 85.9h10.77v1.0h-10.77zM579.5 90.9h10.77v1.0h-10.77zM579.5 96.9h10.77v1.0h-10.77zM579.5 168.9h10.77v1.0h-10.77zM579.5 197.9h10.77v1.0h-10.77zM579.5 209.9h10.77v1.0h-10.77zM579.5 221.9h10.77v1.0h-10.77zM579.5 233.9h10.77v1.0h-10.77zM579.5 249.9h10.77v2.0h-10.77zM579.5 283.9h10.77v1.0h-10.77zM579.5 305.9h10.77v1.0h-10.77zM579.5 307.9h10.77v2.0h-10.77zM579.5 318.9h10.77v2.0h-10.77zM579.5 342.9h10.77v1.0h-10.77zM579.5 358.9h10.77v1.0h-10.77zM590.2 130.9h10.77v1.0h-10.77zM590.2 137.9h10.77v1.0h-10.77zM590.2 144.9h10.77v2.0h-10.77zM590.2 161.9h10.77v1.0h-10.77zM590.2 166.9h10.77v1.0h-10.77zM590.2 189.9h10.77v1.0h-10.77zM590.2 206.9h10.77v1.0h-10.77zM590.2 208.9h10.77v1.0h-10.77zM590.2 233.9h10.77v1.0h-10.77zM590.2 246.9h10.77v1.0h-10.77zM590.2 248.9h10.77v1.0h-10.77zM590.2 263.9h10.77v1.0h-10.77zM590.2 288.9h10.77v1.0h-10.77zM590.2 309.9h10.77v1.0h-10.77zM590.2 313.9h10.77v1.0h-10.77zM590.2 346.9h10.77v1.0h-10.77zM590.2 358.9h10.77v1.0h-10.77zM590.2 367.9h10.77v1.0h-10.77zM601.0 88.9h10.77v4.0h-10.77zM601.0 97.9h10.77v1.0h-10.77zM601.0 102.9h10.77v1.0h-10.77zM601.0 127.9h10.77v1.0h-10.77zM601.0 140.9h10.77v1.0h-10.77zM601.0 151.9h10.77v1.0h-10.77zM601.0 164.9h10.77v1.0h-10.77zM601.0 186.9h10.77v1.0h-10.77zM601.0 206.9h10.77v2.0h-10.77zM601.0 215.9h10.77v1.0h-10.77zM601.0 225.9h10.77v1.0h-10.77zM601.0 230.9h10.77v1.0h-10.77zM601.0 232.9h10.77v1.0h-10.77zM601.0 251.9h10.77v1.0h-10.77zM601.0 258.9h10.77v1.0h-10.77zM601.0 302.9h10.77v1.0h-10.77zM601.0 315.9h10.77v1.0h-10.77zM601.0 322.9h10.77v1.0h-10.77zM601.0 336.9h10.77v1.0h-10.77zM601.0 356.9h10.77v1.0h-10.77zM611.8 87.9h10.77v1.0h-10.77zM611.8 89.9h10.77v1.0h-10.77zM611.8 101.9h10.77v1.0h-10.77zM611.8 111.9h10.77v1.0h-10.77zM611.8 118.9h10.77v1.0h-10.77zM611.8 124.9h10.77v1.0h-10.77zM611.8 126.9h10.77v1.0h-10.77zM611.8 131.9h10.77v1.0h-10.77zM611.8 146.9h10.77v1.0h-10.77zM611.8 162.9h10.77v1.0h-10.77zM611.8 166.9h10.77v1.0h-10.77zM611.8 182.9h10.77v1.0h-10.77zM611.8 185.9h10.77v1.0h-10.77zM611.8 188.9h10.77v1.0h-10.77zM611.8 192.9h10.77v1.0h-10.77zM611.8 202.9h10.77v1.0h-10.77zM611.8 212.9h10.77v1.0h-10.77zM611.8 240.9h10.77v1.0h-10.77zM611.8 282.9h10.77v1.0h-10.77zM611.8 323.9h10.77v2.0h-10.77zM611.8 335.9h10.77v1.0h-10.77zM611.8 362.9h10.77v1.0h-10.77zM622.5 79.9h10.77v1.0h-10.77zM622.5 97.9h10.77v1.0h-10.77zM622.5 101.9h10.77v1.0h-10.77zM622.5 113.9h10.77v1.0h-10.77zM622.5 134.9h10.77v2.0h-10.77zM622.5 159.9h10.77v1.0h-10.77zM622.5 176.9h10.77v1.0h-10.77zM622.5 183.9h10.77v1.0h-10.77zM622.5 206.9h10.77v1.0h-10.77zM622.5 212.9h10.77v1.0h-10.77zM622.5 221.9h10.77v2.0h-10.77zM622.5 242.9h10.77v1.0h-10.77zM622.5 247.9h10.77v1.0h-10.77zM622.5 252.9h10.77v1.0h-10.77zM622.5 259.9h10.77v1.0h-10.77zM622.5 283.9h10.77v1.0h-10.77zM622.5 296.9h10.77v1.0h-10.77zM622.5 301.9h10.77v1.0h-10.77zM622.5 367.9h10.77v1.0h-10.77zM622.5 381.9h10.77v1.0h-10.77zM633.3 83.9h10.77v1.0h-10.77zM633.3 93.9h10.77v1.0h-10.77zM633.3 101.9h10.77v2.0h-10.77zM633.3 106.9h10.77v1.0h-10.77zM633.3 133.9h10.77v1.0h-10.77zM633.3 171.9h10.77v1.0h-10.77zM633.3 182.9h10.77v1.0h-10.77zM633.3 193.9h10.77v1.0h-10.77zM633.3 205.9h10.77v1.0h-10.77zM633.3 258.9h10.77v2.0h-10.77zM633.3 263.9h10.77v2.0h-10.77zM633.3 272.9h10.77v3.0h-10.77zM633.3 280.9h10.77v1.0h-10.77zM633.3 290.9h10.77v1.0h-10.77zM633.3 300.9h10.77v1.0h-10.77zM633.3 312.9h10.77v2.0h-10.77zM633.3 316.9h10.77v2.0h-10.77zM633.3 321.9h10.77v1.0h-10.77zM633.3 360.9h10.77v1.0h-10.77zM633.3 370.9h10.77v1.0h-10.77zM644.1 92.9h10.77v1.0h-10.77zM644.1 101.9h10.77v1.0h-10.77zM644.1 146.9h10.77v1.0h-10.77zM644.1 177.9h10.77v1.0h-10.77zM644.1 179.9h10.77v1.0h-10.77zM644.1 192.9h10.77v2.0h-10.77zM644.1 226.9h10.77v1.0h-10.77zM644.1 233.9h10.77v1.0h-10.77zM644.1 251.9h10.77v1.0h-10.77zM644.1 253.9h10.77v1.0h-10.77zM644.1 272.9h10.77v1.0h-10.77zM644.1 296.9h10.77v1.0h-10.77zM644.1 352.9h10.77v1.0h-10.77zM644.1 361.9h10.77v1.0h-10.77zM644.1 383.9h10.77v1.0h-10.77zM654.8 80.9h10.77v1.0h-10.77zM654.8 87.9h10.77v1.0h-10.77zM654.8 118.9h10.77v1.0h-10.77zM654.8 127.9h10.77v1.0h-10.77zM654.8 138.9h10.77v1.0h-10.77zM654.8 152.9h10.77v1.0h-10.77zM654.8 163.9h10.77v1.0h-10.77zM654.8 185.9h10.77v1.0h-10.77zM654.8 188.9h10.77v1.0h-10.77zM654.8 199.9h10.77v1.0h-10.77zM654.8 216.9h10.77v1.0h-10.77zM654.8 223.9h10.77v1.0h-10.77zM654.8 234.9h10.77v1.0h-10.77zM654.8 244.9h10.77v1.0h-10.77zM654.8 262.9h10.77v1.0h-10.77zM654.8 267.9h10.77v1.0h-10.77zM654.8 278.9h10.77v1.0h-10.77zM654.8 285.9h10.77v2.0h-10.77zM654.8 291.9h10.77v1.0h-10.77zM654.8 301.9h10.77v1.0h-10.77zM654.8 323.9h10.77v1.0h-10.77zM654.8 335.9h10.77v1.0h-10.77zM654.8 338.9h10.77v1.0h-10.77zM654.8 361.9h10.77v1.0h-10.77z"/><path fill="#deedf2" d="M471.8 114.9h10.77v1.0h-10.77zM471.8 119.9h10.77v1.0h-10.77zM471.8 122.9h10.77v1.0h-10.77zM471.8 133.9h10.77v1.0h-10.77zM471.8 142.9h10.77v2.0h-10.77zM471.8 153.9h10.77v1.0h-10.77zM471.8 157.9h10.77v1.0h-10.77zM471.8 160.9h10.77v1.0h-10.77zM471.8 166.9h10.77v1.0h-10.77zM471.8 174.9h10.77v1.0h-10.77zM471.8 176.9h10.77v1.0h-10.77zM471.8 191.9h10.77v1.0h-10.77zM471.8 216.9h10.77v1.0h-10.77zM471.8 223.9h10.77v2.0h-10.77zM471.8 226.9h10.77v1.0h-10.77zM471.8 235.9h10.77v2.0h-10.77zM471.8 245.9h10.77v2.0h-10.77zM471.8 257.9h10.77v1.0h-10.77zM471.8 264.9h10.77v1.0h-10.77zM471.8 275.9h10.77v2.0h-10.77zM471.8 287.9h10.77v2.0h-10.77zM471.8 292.9h10.77v1.0h-10.77zM471.8 308.9h10.77v1.0h-10.77zM471.8 314.9h10.77v1.0h-10.77zM471.8 317.9h10.77v1.0h-10.77zM471.8 335.9h10.77v1.0h-10.77zM471.8 344.9h10.77v1.0h-10.77zM471.8 347.9h10.77v1.0h-10.77zM471.8 353.9h10.77v1.0h-10.77zM471.8 362.9h10.77v1.0h-10.77zM471.8 366.9h10.77v2.0h-10.77zM482.6 79.9h10.77v2.0h-10.77zM482.6 84.9h10.77v1.0h-10.77zM482.6 117.9h10.77v2.0h-10.77zM482.6 121.9h10.77v1.0h-10.77zM482.6 126.9h10.77v1.0h-10.77zM482.6 133.9h10.77v2.0h-10.77zM482.6 141.9h10.77v1.0h-10.77zM482.6 149.9h10.77v1.0h-10.77zM482.6 168.9h10.77v2.0h-10.77zM482.6 175.9h10.77v1.0h-10.77zM482.6 182.9h10.77v1.0h-10.77zM482.6 218.9h10.77v1.0h-10.77zM482.6 223.9h10.77v1.0h-10.77zM482.6 243.9h10.77v1.0h-10.77zM482.6 247.9h10.77v1.0h-10.77zM482.6 295.9h10.77v1.0h-10.77zM482.6 318.9h10.77v1.0h-10.77zM482.6 338.9h10.77v1.0h-10.77zM482.6 349.9h10.77v2.0h-10.77zM482.6 354.9h10.77v1.0h-10.77zM482.6 357.9h10.77v1.0h-10.77zM482.6 365.9h10.77v1.0h-10.77zM482.6 371.9h10.77v1.0h-10.77zM493.3 77.9h10.77v1.0h-10.77zM493.3 107.9h10.77v1.0h-10.77zM493.3 109.9h10.77v1.0h-10.77zM493.3 135.9h10.77v1.0h-10.77zM493.3 159.9h10.77v1.0h-10.77zM493.3 243.9h10.77v1.0h-10.77zM493.3 245.9h10.77v1.0h-10.77zM493.3 247.9h10.77v1.0h-10.77zM493.3 259.9h10.77v1.0h-10.77zM493.3 275.9h10.77v1.0h-10.77zM493.3 283.9h10.77v1.0h-10.77zM493.3 303.9h10.77v1.0h-10.77zM493.3 311.9h10.77v1.0h-10.77zM493.3 317.9h10.77v1.0h-10.77zM493.3 320.9h10.77v1.0h-10.77zM493.3 322.9h10.77v1.0h-10.77zM493.3 325.9h10.77v1.0h-10.77zM493.3 328.9h10.77v1.0h-10.77zM493.3 333.9h10.77v1.0h-10.77zM493.3 340.9h10.77v2.0h-10.77zM493.3 353.9h10.77v1.0h-10.77zM493.3 357.9h10.77v1.0h-10.77zM493.3 365.9h10.77v1.0h-10.77zM493.3 368.9h10.77v1.0h-10.77zM493.3 372.9h10.77v1.0h-10.77zM493.3 376.9h10.77v1.0h-10.77zM504.1 79.9h10.77v1.0h-10.77zM504.1 81.9h10.77v2.0h-10.77zM504.1 84.9h10.77v1.0h-10.77zM504.1 119.9h10.77v1.0h-10.77zM504.1 142.9h10.77v1.0h-10.77zM504.1 164.9h10.77v1.0h-10.77zM504.1 221.9h10.77v1.0h-10.77zM504.1 233.9h10.77v1.0h-10.77zM504.1 236.9h10.77v1.0h-10.77zM504.1 240.9h10.77v1.0h-10.77zM504.1 253.9h10.77v1.0h-10.77zM504.1 257.9h10.77v1.0h-10.77zM504.1 270.9h10.77v1.0h-10.77zM504.1 282.9h10.77v1.0h-10.77zM504.1 304.9h10.77v1.0h-10.77zM504.1 329.9h10.77v1.0h-10.77zM504.1 336.9h10.77v1.0h-10.77zM504.1 341.9h10.77v1.0h-10.77zM504.1 344.9h10.77v1.0h-10.77zM504.1 354.9h10.77v1.0h-10.77zM504.1 365.9h10.77v1.0h-10.77zM504.1 379.9h10.77v1.0h-10.77zM514.9 87.9h10.77v1.0h-10.77zM514.9 116.9h10.77v1.0h-10.77zM514.9 120.9h10.77v1.0h-10.77zM514.9 123.9h10.77v1.0h-10.77zM514.9 126.9h10.77v1.0h-10.77zM514.9 138.9h10.77v1.0h-10.77zM514.9 154.9h10.77v1.0h-10.77zM514.9 163.9h10.77v1.0h-10.77zM514.9 169.9h10.77v1.0h-10.77zM514.9 181.9h10.77v1.0h-10.77zM514.9 208.9h10.77v1.0h-10.77zM514.9 214.9h10.77v1.0h-10.77zM514.9 220.9h10.77v1.0h-10.77zM514.9 223.9h10.77v1.0h-10.77zM514.9 230.9h10.77v1.0h-10.77zM514.9 235.9h10.77v1.0h-10.77zM514.9 237.9h10.77v1.0h-10.77zM514.9 268.9h10.77v1.0h-10.77zM514.9 274.9h10.77v1.0h-10.77zM514.9 288.9h10.77v1.0h-10.77zM514.9 297.9h10.77v1.0h-10.77zM514.9 301.9h10.77v1.0h-10.77zM514.9 318.9h10.77v1.0h-10.77zM514.9 325.9h10.77v1.0h-10.77zM514.9 328.9h10.77v1.0h-10.77zM514.9 330.9h10.77v1.0h-10.77zM514.9 335.9h10.77v2.0h-10.77zM514.9 341.9h10.77v1.0h-10.77zM514.9 362.9h10.77v1.0h-10.77zM514.9 378.9h10.77v1.0h-10.77zM525.6 84.9h10.77v1.0h-10.77zM525.6 88.9h10.77v2.0h-10.77zM525.6 105.9h10.77v1.0h-10.77zM525.6 109.9h10.77v1.0h-10.77zM525.6 117.9h10.77v1.0h-10.77zM525.6 129.9h10.77v1.0h-10.77zM525.6 133.9h10.77v1.0h-10.77zM525.6 138.9h10.77v1.0h-10.77zM525.6 154.9h10.77v1.0h-10.77zM525.6 191.9h10.77v1.0h-10.77zM525.6 214.9h10.77v1.0h-10.77zM525.6 221.9h10.77v1.0h-10.77zM525.6 236.9h10.77v1.0h-10.77zM525.6 239.9h10.77v1.0h-10.77zM525.6 307.9h10.77v1.0h-10.77zM525.6 312.9h10.77v2.0h-10.77zM525.6 332.9h10.77v1.0h-10.77zM525.6 381.9h10.77v2.0h-10.77zM536.4 102.9h10.77v1.0h-10.77zM536.4 120.9h10.77v1.0h-10.77zM536.4 140.9h10.77v1.0h-10.77zM536.4 143.9h10.77v1.0h-10.77zM536.4 151.9h10.77v1.0h-10.77zM536.4 175.9h10.77v1.0h-10.77zM536.4 190.9h10.77v2.0h-10.77zM536.4 201.9h10.77v1.0h-10.77zM536.4 217.9h10.77v2.0h-10.77zM536.4 223.9h10.77v1.0h-10.77zM536.4 234.9h10.77v1.0h-10.77zM536.4 238.9h10.77v1.0h-10.77zM536.4 263.9h10.77v1.0h-10.77zM536.4 282.9h10.77v1.0h-10.77zM536.4 308.9h10.77v1.0h-10.77zM536.4 331.9h10.77v1.0h-10.77zM536.4 337.9h10.77v1.0h-10.77zM536.4 354.9h10.77v1.0h-10.77zM547.2 76.9h10.77v1.0h-10.77zM547.2 81.9h10.77v1.0h-10.77zM547.2 92.9h10.77v2.0h-10.77zM547.2 97.9h10.77v1.0h-10.77zM547.2 121.9h10.77v1.0h-10.77zM547.2 135.9h10.77v1.0h-10.77zM547.2 141.9h10.77v1.0h-10.77zM547.2 146.9h10.77v1.0h-10.77zM547.2 150.9h10.77v1.0h-10.77zM547.2 161.9h10.77v1.0h-10.77zM547.2 174.9h10.77v2.0h-10.77zM547.2 179.9h10.77v1.0h-10.77zM547.2 181.9h10.77v1.0h-10.77zM547.2 189.9h10.77v1.0h-10.77zM547.2 197.9h10.77v2.0h-10.77zM547.2 239.9h10.77v1.0h-10.77zM547.2 244.9h10.77v1.0h-10.77zM547.2 262.9h10.77v1.0h-10.77zM547.2 270.9h10.77v1.0h-10.77zM547.2 284.9h10.77v1.0h-10.77zM547.2 303.9h10.77v1.0h-10.77zM547.2 305.9h10.77v1.0h-10.77zM547.2 309.9h10.77v1.0h-10.77zM547.2 331.9h10.77v1.0h-10.77zM547.2 343.9h10.77v1.0h-10.77zM557.9 83.9h10.77v1.0h-10.77zM557.9 152.9h10.77v1.0h-10.77zM557.9 159.9h10.77v1.0h-10.77zM557.9 162.9h10.77v1.0h-10.77zM557.9 237.9h10.77v1.0h-10.77zM557.9 341.9h10.77v2.0h-10.77zM557.9 358.9h10.77v1.0h-10.77zM568.7 100.9h10.77v1.0h-10.77zM568.7 107.9h10.77v1.0h-10.77zM568.7 113.9h10.77v1.0h-10.77zM568.7 133.9h10.77v1.0h-10.77zM568.7 165.9h10.77v3.0h-10.77zM568.7 177.9h10.77v1.0h-10.77zM568.7 179.9h10.77v1.0h-10.77zM568.7 191.9h10.77v2.0h-10.77zM568.7 199.9h10.77v1.0h-10.77zM568.7 217.9h10.77v1.0h-10.77zM568.7 223.9h10.77v1.0h-10.77zM568.7 247.9h10.77v1.0h-10.77zM568.7 265.9h10.77v1.0h-10.77zM568.7 270.9h10.77v1.0h-10.77zM568.7 290.9h10.77v1.0h-10.77zM568.7 302.9h10.77v1.0h-10.77zM568.7 309.9h10.77v1.0h-10.77zM568.7 311.9h10.77v1.0h-10.77zM568.7 327.9h10.77v1.0h-10.77zM568.7 350.9h10.77v1.0h-10.77zM568.7 361.9h10.77v1.0h-10.77zM579.5 92.9h10.77v1.0h-10.77zM579.5 134.9h10.77v3.0h-10.77zM579.5 167.9h10.77v1.0h-10.77zM579.5 173.9h10.77v2.0h-10.77zM579.5 177.9h10.77v1.0h-10.77zM579.5 191.9h10.77v1.0h-10.77zM579.5 195.9h10.77v1.0h-10.77zM579.5 202.9h10.77v2.0h-10.77zM579.5 220.9h10.77v1.0h-10.77zM579.5 236.9h10.77v1.0h-10.77zM579.5 243.9h10.77v1.0h-10.77zM579.5 246.9h10.77v1.0h-10.77zM579.5 274.9h10.77v1.0h-10.77zM579.5 280.9h10.77v2.0h-10.77zM579.5 290.9h10.77v1.0h-10.77zM579.5 295.9h10.77v1.0h-10.77zM579.5 306.9h10.77v1.0h-10.77zM579.5 310.9h10.77v1.0h-10.77zM579.5 347.9h10.77v1.0h-10.77zM579.5 350.9h10.77v2.0h-10.77zM579.5 368.9h10.77v2.0h-10.77zM590.2 110.9h10.77v2.0h-10.77zM590.2 141.9h10.77v1.0h-10.77zM590.2 155.9h10.77v1.0h-10.77zM590.2 231.9h10.77v1.0h-10.77zM590.2 237.9h10.77v1.0h-10.77zM590.2 245.9h10.77v1.0h-10.77zM590.2 264.9h10.77v1.0h-10.77zM590.2 340.9h10.77v1.0h-10.77zM590.2 383.9h10.77v1.0h-10.77zM601.0 103.9h10.77v1.0h-10.77zM601.0 107.9h10.77v1.0h-10.77zM601.0 116.9h10.77v1.0h-10.77zM601.0 144.9h10.77v1.0h-10.77zM601.0 167.9h10.77v1.0h-10.77zM601.0 171.9h10.77v1.0h-10.77zM601.0 190.9h10.77v1.0h-10.77zM601.0 211.9h10.77v1.0h-10.77zM601.0 219.9h10.77v1.0h-10.77zM601.0 224.9h10.77v1.0h-10.77zM601.0 231.9h10.77v1.0h-10.77zM601.0 237.9h10.77v1.0h-10.77zM601.0 246.9h10.77v1.0h-10.77zM601.0 248.9h10.77v1.0h-10.77zM601.0 268.9h10.77v1.0h-10.77zM601.0 279.9h10.77v1.0h-10.77zM601.0 281.9h10.77v1.0h-10.77zM601.0 285.9h10.77v2.0h-10.77zM601.0 294.9h10.77v1.0h-10.77zM601.0 301.9h10.77v1.0h-10.77zM601.0 330.9h10.77v1.0h-10.77zM601.0 334.9h10.77v1.0h-10.77zM601.0 353.9h10.77v1.0h-10.77zM601.0 357.9h10.77v1.0h-10.77zM601.0 375.9h10.77v1.0h-10.77zM601.0 380.9h10.77v1.0h-10.77zM611.8 79.9h10.77v1.0h-10.77zM611.8 119.9h10.77v1.0h-10.77zM611.8 128.9h10.77v2.0h-10.77zM611.8 136.9h10.77v1.0h-10.77zM611.8 149.9h10.77v1.0h-10.77zM611.8 159.9h10.77v1.0h-10.77zM611.8 167.9h10.77v1.0h-10.77zM611.8 195.9h10.77v1.0h-10.77zM611.8 210.9h10.77v2.0h-10.77zM611.8 216.9h10.77v2.0h-10.77zM611.8 231.9h10.77v1.0h-10.77zM611.8 281.9h10.77v1.0h-10.77zM611.8 285.9h10.77v2.0h-10.77zM611.8 296.9h10.77v1.0h-10.77zM611.8 300.9h10.77v1.0h-10.77zM611.8 304.9h10.77v1.0h-10.77zM611.8 352.9h10.77v1.0h-10.77zM611.8 360.9h10.77v1.0h-10.77zM611.8 372.9h10.77v1.0h-10.77zM622.5 88.9h10.77v1.0h-10.77zM622.5 132.9h10.77v1.0h-10.77zM622.5 141.9h10.77v1.0h-10.77zM622.5 143.9h10.77v1.0h-10.77zM622.5 147.9h10.77v1.0h-10.77zM622.5 153.9h10.77v1.0h-10.77zM622.5 155.9h10.77v2.0h-10.77zM622.5 163.9h10.77v1.0h-10.77zM622.5 165.9h10.77v1.0h-10.77zM622.5 184.9h10.77v1.0h-10.77zM622.5 192.9h10.77v1.0h-10.77zM622.5 200.9h10.77v1.0h-10.77zM622.5 228.9h10.77v1.0h-10.77zM622.5 248.9h10.77v1.0h-10.77zM622.5 276.9h10.77v1.0h-10.77zM622.5 291.9h10.77v1.0h-10.77zM622.5 295.9h10.77v1.0h-10.77zM622.5 315.9h10.77v1.0h-10.77zM622.5 327.9h10.77v1.0h-10.77zM622.5 329.9h10.77v1.0h-10.77zM633.3 90.9h10.77v1.0h-10.77zM633.3 103.9h10.77v1.0h-10.77zM633.3 117.9h10.77v1.0h-10.77zM633.3 134.9h10.77v1.0h-10.77zM633.3 152.9h10.77v1.0h-10.77zM633.3 181.9h10.77v1.0h-10.77zM633.3 192.9h10.77v1.0h-10.77zM633.3 194.9h10.77v1.0h-10.77zM633.3 203.9h10.77v1.0h-10.77zM633.3 230.9h10.77v1.0h-10.77zM633.3 277.9h10.77v1.0h-10.77zM633.3 288.9h10.77v1.0h-10.77zM633.3 292.9h10.77v1.0h-10.77zM633.3 307.9h10.77v1.0h-10.77zM633.3 335.9h10.77v2.0h-10.77zM633.3 368.9h10.77v1.0h-10.77zM633.3 375.9h10.77v1.0h-10.77zM644.1 76.9h10.77v1.0h-10.77zM644.1 97.9h10.77v1.0h-10.77zM644.1 102.9h10.77v1.0h-10.77zM644.1 106.9h10.77v1.0h-10.77zM644.1 144.9h10.77v2.0h-10.77zM644.1 153.9h10.77v1.0h-10.77zM644.1 161.9h10.77v2.0h-10.77zM644.1 171.9h10.77v1.0h-10.77zM644.1 224.9h10.77v1.0h-10.77zM644.1 234.9h10.77v1.0h-10.77zM644.1 240.9h10.77v1.0h-10.77zM644.1 257.9h10.77v1.0h-10.77zM644.1 291.9h10.77v1.0h-10.77zM644.1 302.9h10.77v1.0h-10.77zM644.1 311.9h10.77v1.0h-10.77zM644.1 323.9h10.77v1.0h-10.77zM644.1 329.9h10.77v2.0h-10.77zM644.1 332.9h10.77v1.0h-10.77zM644.1 362.9h10.77v2.0h-10.77zM654.8 74.9h10.77v1.0h-10.77zM654.8 89.9h10.77v1.0h-10.77zM654.8 112.9h10.77v1.0h-10.77zM654.8 119.9h10.77v1.0h-10.77zM654.8 125.9h10.77v1.0h-10.77zM654.8 128.9h10.77v1.0h-10.77zM654.8 177.9h10.77v1.0h-10.77zM654.8 194.9h10.77v1.0h-10.77zM654.8 213.9h10.77v1.0h-10.77zM654.8 230.9h10.77v1.0h-10.77zM654.8 237.9h10.77v1.0h-10.77zM654.8 240.9h10.77v1.0h-10.77zM654.8 292.9h10.77v1.0h-10.77zM654.8 298.9h10.77v1.0h-10.77zM654.8 302.9h10.77v1.0h-10.77zM654.8 310.9h10.77v1.0h-10.77zM654.8 327.9h10.77v1.0h-10.77zM654.8 336.9h10.77v1.0h-10.77zM654.8 344.9h10.77v1.0h-10.77zM654.8 350.9h10.77v1.0h-10.77zM654.8 352.9h10.77v1.0h-10.77zM654.8 371.9h10.77v1.0h-10.77z"/><path fill="#e0eeef" d="M471.8 78.9h10.77v1.0h-10.77zM471.8 89.9h10.77v1.0h-10.77zM471.8 106.9h10.77v1.0h-10.77zM471.8 112.9h10.77v1.0h-10.77zM471.8 129.9h10.77v1.0h-10.77zM471.8 141.9h10.77v1.0h-10.77zM471.8 146.9h10.77v1.0h-10.77zM471.8 170.9h10.77v1.0h-10.77zM471.8 183.9h10.77v2.0h-10.77zM471.8 210.9h10.77v1.0h-10.77zM471.8 215.9h10.77v1.0h-10.77zM471.8 220.9h10.77v1.0h-10.77zM471.8 250.9h10.77v1.0h-10.77zM471.8 255.9h10.77v1.0h-10.77zM471.8 285.9h10.77v1.0h-10.77zM471.8 293.9h10.77v1.0h-10.77zM471.8 309.9h10.77v1.0h-10.77zM471.8 327.9h10.77v1.0h-10.77zM471.8 330.9h10.77v1.0h-10.77zM471.8 333.9h10.77v1.0h-10.77zM471.8 363.9h10.77v1.0h-10.77zM471.8 365.9h10.77v1.0h-10.77zM471.8 373.9h10.77v1.0h-10.77zM471.8 383.9h10.77v1.0h-10.77zM482.6 74.9h10.77v1.0h-10.77zM482.6 81.9h10.77v1.0h-10.77zM482.6 93.9h10.77v1.0h-10.77zM482.6 136.9h10.77v1.0h-10.77zM482.6 142.9h10.77v1.0h-10.77zM482.6 145.9h10.77v1.0h-10.77zM482.6 268.9h10.77v1.0h-10.77zM482.6 275.9h10.77v1.0h-10.77zM482.6 279.9h10.77v1.0h-10.77zM482.6 294.9h10.77v1.0h-10.77zM482.6 305.9h10.77v1.0h-10.77zM482.6 308.9h10.77v1.0h-10.77zM482.6 346.9h10.77v1.0h-10.77zM482.6 356.9h10.77v1.0h-10.77zM482.6 364.9h10.77v1.0h-10.77zM482.6 374.9h10.77v1.0h-10.77zM493.3 94.9h10.77v1.0h-10.77zM493.3 101.9h10.77v1.0h-10.77zM493.3 114.9h10.77v1.0h-10.77zM493.3 125.9h10.77v2.0h-10.77zM493.3 131.9h10.77v1.0h-10.77zM493.3 161.9h10.77v1.0h-10.77zM493.3 167.9h10.77v1.0h-10.77zM493.3 182.9h10.77v1.0h-10.77zM493.3 185.9h10.77v1.0h-10.77zM493.3 191.9h10.77v1.0h-10.77zM493.3 218.9h10.77v1.0h-10.77zM493.3 232.9h10.77v1.0h-10.77zM493.3 260.9h10.77v1.0h-10.77zM493.3 264.9h10.77v1.0h-10.77zM493.3 305.9h10.77v1.0h-10.77zM493.3 339.9h10.77v1.0h-10.77zM493.3 366.9h10.77v2.0h-10.77zM493.3 369.9h10.77v1.0h-10.77zM493.3 375.9h10.77v1.0h-10.77zM504.1 95.9h10.77v1.0h-10.77zM504.1 133.9h10.77v1.0h-10.77zM504.1 181.9h10.77v1.0h-10.77zM504.1 189.9h10.77v1.0h-10.77zM504.1 195.9h10.77v1.0h-10.77zM504.1 206.9h10.77v1.0h-10.77zM504.1 220.9h10.77v1.0h-10.77zM504.1 226.9h10.77v1.0h-10.77zM504.1 231.9h10.77v1.0h-10.77zM504.1 241.9h10.77v1.0h-10.77zM504.1 256.9h10.77v1.0h-10.77zM504.1 289.9h10.77v1.0h-10.77zM504.1 351.9h10.77v1.0h-10.77zM504.1 356.9h10.77v1.0h-10.77zM504.1 368.9h10.77v1.0h-10.77zM514.9 86.9h10.77v1.0h-10.77zM514.9 95.9h10.77v1.0h-10.77zM514.9 105.9h10.77v1.0h-10.77zM514.9 109.9h10.77v1.0h-10.77zM514.9 131.9h10.77v2.0h-10.77zM514.9 168.9h10.77v1.0h-10.77zM514.9 170.9h10.77v1.0h-10.77zM514.9 179.9h10.77v1.0h-10.77zM514.9 198.9h10.77v1.0h-10.77zM514.9 202.9h10.77v1.0h-10.77zM514.9 224.9h10.77v1.0h-10.77zM514.9 236.9h10.77v1.0h-10.77zM514.9 247.9h10.77v1.0h-10.77zM514.9 256.9h10.77v1.0h-10.77zM514.9 272.9h10.77v1.0h-10.77zM514.9 296.9h10.77v1.0h-10.77zM514.9 298.9h10.77v1.0h-10.77zM514.9 307.9h10.77v1.0h-10.77zM514.9 312.9h10.77v1.0h-10.77zM514.9 324.9h10.77v1.0h-10.77zM514.9 331.9h10.77v1.0h-10.77zM514.9 350.9h10.77v1.0h-10.77zM514.9 371.9h10.77v1.0h-10.77zM514.9 374.9h10.77v1.0h-10.77zM525.6 75.9h10.77v1.0h-10.77zM525.6 77.9h10.77v1.0h-10.77zM525.6 83.9h10.77v1.0h-10.77zM525.6 114.9h10.77v1.0h-10.77zM525.6 118.9h10.77v1.0h-10.77zM525.6 125.9h10.77v1.0h-10.77zM525.6 134.9h10.77v1.0h-10.77zM525.6 151.9h10.77v3.0h-10.77zM525.6 160.9h10.77v1.0h-10.77zM525.6 176.9h10.77v1.0h-10.77zM525.6 211.9h10.77v2.0h-10.77zM525.6 216.9h10.77v1.0h-10.77zM525.6 218.9h10.77v1.0h-10.77zM525.6 222.9h10.77v1.0h-10.77zM525.6 265.9h10.77v1.0h-10.77zM525.6 272.9h10.77v1.0h-10.77zM525.6 305.9h10.77v1.0h-10.77zM525.6 311.9h10.77v1.0h-10.77zM525.6 320.9h10.77v1.0h-10.77zM536.4 79.9h10.77v1.0h-10.77zM536.4 94.9h10.77v1.0h-10.77zM536.4 100.9h10.77v1.0h-10.77zM536.4 118.9h10.77v1.0h-10.77zM536.4 141.9h10.77v1.0h-10.77zM536.4 150.9h10.77v1.0h-10.77zM536.4 153.9h10.77v1.0h-10.77zM536.4 176.9h10.77v3.0h-10.77zM536.4 182.9h10.77v2.0h-10.77zM536.4 187.9h10.77v1.0h-10.77zM536.4 192.9h10.77v1.0h-10.77zM536.4 246.9h10.77v2.0h-10.77zM536.4 290.9h10.77v3.0h-10.77zM536.4 327.9h10.77v1.0h-10.77zM536.4 334.9h10.77v1.0h-10.77zM536.4 358.9h10.77v1.0h-10.77zM536.4 362.9h10.77v1.0h-10.77zM536.4 364.9h10.77v1.0h-10.77zM547.2 89.9h10.77v1.0h-10.77zM547.2 91.9h10.77v1.0h-10.77zM547.2 98.9h10.77v1.0h-10.77zM547.2 100.9h10.77v1.0h-10.77zM547.2 111.9h10.77v1.0h-10.77zM547.2 155.9h10.77v1.0h-10.77zM547.2 167.9h10.77v1.0h-10.77zM547.2 180.9h10.77v1.0h-10.77zM547.2 261.9h10.77v1.0h-10.77zM547.2 263.9h10.77v1.0h-10.77zM547.2 266.9h10.77v1.0h-10.77zM547.2 268.9h10.77v2.0h-10.77zM547.2 273.9h10.77v1.0h-10.77zM547.2 301.9h10.77v2.0h-10.77zM547.2 321.9h10.77v1.0h-10.77zM547.2 354.9h10.77v1.0h-10.77zM547.2 379.9h10.77v1.0h-10.77zM557.9 78.9h10.77v1.0h-10.77zM557.9 90.9h10.77v1.0h-10.77zM557.9 149.9h10.77v1.0h-10.77zM557.9 171.9h10.77v1.0h-10.77zM557.9 193.9h10.77v1.0h-10.77zM557.9 234.9h10.77v1.0h-10.77zM557.9 260.9h10.77v1.0h-10.77zM557.9 280.9h10.77v1.0h-10.77zM557.9 328.9h10.77v1.0h-10.77zM557.9 380.9h10.77v1.0h-10.77zM568.7 119.9h10.77v1.0h-10.77zM568.7 137.9h10.77v1.0h-10.77zM568.7 140.9h10.77v1.0h-10.77zM568.7 149.9h10.77v1.0h-10.77zM568.7 155.9h10.77v1.0h-10.77zM568.7 160.9h10.77v1.0h-10.77zM568.7 164.9h10.77v1.0h-10.77zM568.7 168.9h10.77v1.0h-10.77zM568.7 214.9h10.77v1.0h-10.77zM568.7 244.9h10.77v1.0h-10.77zM568.7 246.9h10.77v1.0h-10.77zM568.7 289.9h10.77v1.0h-10.77zM568.7 291.9h10.77v1.0h-10.77zM568.7 295.9h10.77v1.0h-10.77zM568.7 298.9h10.77v2.0h-10.77zM568.7 303.9h10.77v1.0h-10.77zM568.7 321.9h10.77v1.0h-10.77zM568.7 345.9h10.77v1.0h-10.77zM568.7 367.9h10.77v1.0h-10.77zM568.7 373.9h10.77v1.0h-10.77zM568.7 381.9h10.77v1.0h-10.77zM579.5 79.9h10.77v1.0h-10.77zM579.5 91.9h10.77v1.0h-10.77zM579.5 103.9h10.77v1.0h-10.77zM579.5 137.9h10.77v1.0h-10.77zM579.5 145.9h10.77v1.0h-10.77zM579.5 155.9h10.77v1.0h-10.77zM579.5 175.9h10.77v1.0h-10.77zM579.5 182.9h10.77v1.0h-10.77zM579.5 196.9h10.77v1.0h-10.77zM579.5 204.9h10.77v1.0h-10.77zM579.5 210.9h10.77v2.0h-10.77zM579.5 213.9h10.77v1.0h-10.77zM579.5 322.9h10.77v1.0h-10.77zM579.5 343.9h10.77v2.0h-10.77zM579.5 374.9h10.77v1.0h-10.77zM590.2 119.9h10.77v1.0h-10.77zM590.2 180.9h10.77v2.0h-10.77zM590.2 213.9h10.77v1.0h-10.77zM590.2 236.9h10.77v1.0h-10.77zM590.2 244.9h10.77v1.0h-10.77zM590.2 251.9h10.77v2.0h-10.77zM590.2 255.9h10.77v1.0h-10.77zM590.2 268.9h10.77v1.0h-10.77zM590.2 272.9h10.77v1.0h-10.77zM590.2 276.9h10.77v1.0h-10.77zM590.2 303.9h10.77v1.0h-10.77zM590.2 312.9h10.77v1.0h-10.77zM590.2 359.9h10.77v2.0h-10.77zM590.2 365.9h10.77v1.0h-10.77zM590.2 378.9h10.77v2.0h-10.77zM601.0 83.9h10.77v1.0h-10.77zM601.0 85.9h10.77v1.0h-10.77zM601.0 87.9h10.77v1.0h-10.77zM601.0 162.9h10.77v1.0h-10.77zM601.0 203.9h10.77v1.0h-10.77zM601.0 223.9h10.77v1.0h-10.77zM601.0 250.9h10.77v1.0h-10.77zM601.0 256.9h10.77v1.0h-10.77zM601.0 278.9h10.77v1.0h-10.77zM601.0 298.9h10.77v1.0h-10.77zM601.0 300.9h10.77v1.0h-10.77zM601.0 308.9h10.77v1.0h-10.77zM601.0 318.9h10.77v1.0h-10.77zM601.0 328.9h10.77v1.0h-10.77zM601.0 332.9h10.77v1.0h-10.77zM601.0 344.9h10.77v1.0h-10.77zM601.0 352.9h10.77v1.0h-10.77zM601.0 383.9h10.77v1.0h-10.77zM611.8 97.9h10.77v1.0h-10.77zM611.8 99.9h10.77v1.0h-10.77zM611.8 123.9h10.77v1.0h-10.77zM611.8 127.9h10.77v1.0h-10.77zM611.8 133.9h10.77v1.0h-10.77zM611.8 140.9h10.77v1.0h-10.77zM611.8 157.9h10.77v2.0h-10.77zM611.8 161.9h10.77v1.0h-10.77zM611.8 174.9h10.77v1.0h-10.77zM611.8 184.9h10.77v1.0h-10.77zM611.8 190.9h10.77v1.0h-10.77zM611.8 257.9h10.77v1.0h-10.77zM611.8 280.9h10.77v1.0h-10.77zM611.8 295.9h10.77v1.0h-10.77zM611.8 301.9h10.77v1.0h-10.77zM611.8 305.9h10.77v1.0h-10.77zM611.8 346.9h10.77v2.0h-10.77zM611.8 367.9h10.77v1.0h-10.77zM611.8 379.9h10.77v1.0h-10.77zM622.5 83.9h10.77v1.0h-10.77zM622.5 127.9h10.77v1.0h-10.77zM622.5 131.9h10.77v1.0h-10.77zM622.5 142.9h10.77v1.0h-10.77zM622.5 144.9h10.77v2.0h-10.77zM622.5 148.9h10.77v1.0h-10.77zM622.5 175.9h10.77v1.0h-10.77zM622.5 233.9h10.77v1.0h-10.77zM622.5 245.9h10.77v1.0h-10.77zM622.5 257.9h10.77v1.0h-10.77zM622.5 268.9h10.77v1.0h-10.77zM622.5 290.9h10.77v1.0h-10.77zM622.5 305.9h10.77v1.0h-10.77zM622.5 330.9h10.77v2.0h-10.77zM622.5 363.9h10.77v1.0h-10.77zM622.5 382.9h10.77v1.0h-10.77zM633.3 74.9h10.77v1.0h-10.77zM633.3 130.9h10.77v1.0h-10.77zM633.3 140.9h10.77v2.0h-10.77zM633.3 143.9h10.77v1.0h-10.77zM633.3 176.9h10.77v1.0h-10.77zM633.3 184.9h10.77v1.0h-10.77zM633.3 189.9h10.77v2.0h-10.77zM633.3 218.9h10.77v2.0h-10.77zM633.3 224.9h10.77v1.0h-10.77zM633.3 238.9h10.77v1.0h-10.77zM633.3 249.9h10.77v1.0h-10.77zM633.3 271.9h10.77v1.0h-10.77zM633.3 278.9h10.77v2.0h-10.77zM633.3 289.9h10.77v1.0h-10.77zM633.3 325.9h10.77v1.0h-10.77zM633.3 333.9h10.77v1.0h-10.77zM633.3 337.9h10.77v1.0h-10.77zM633.3 344.9h10.77v1.0h-10.77zM633.3 347.9h10.77v1.0h-10.77zM633.3 359.9h10.77v1.0h-10.77zM633.3 367.9h10.77v1.0h-10.77zM633.3 374.9h10.77v1.0h-10.77zM644.1 93.9h10.77v1.0h-10.77zM644.1 110.9h10.77v1.0h-10.77zM644.1 112.9h10.77v1.0h-10.77zM644.1 117.9h10.77v1.0h-10.77zM644.1 159.9h10.77v1.0h-10.77zM644.1 167.9h10.77v1.0h-10.77zM644.1 173.9h10.77v1.0h-10.77zM644.1 189.9h10.77v1.0h-10.77zM644.1 202.9h10.77v1.0h-10.77zM644.1 214.9h10.77v2.0h-10.77zM644.1 219.9h10.77v1.0h-10.77zM644.1 222.9h10.77v2.0h-10.77zM644.1 250.9h10.77v1.0h-10.77zM644.1 252.9h10.77v1.0h-10.77zM644.1 256.9h10.77v1.0h-10.77zM644.1 259.9h10.77v1.0h-10.77zM644.1 308.9h10.77v1.0h-10.77zM644.1 314.9h10.77v3.0h-10.77zM644.1 331.9h10.77v1.0h-10.77zM644.1 335.9h10.77v1.0h-10.77zM644.1 357.9h10.77v1.0h-10.77zM644.1 374.9h10.77v2.0h-10.77zM654.8 85.9h10.77v1.0h-10.77zM654.8 88.9h10.77v1.0h-10.77zM654.8 96.9h10.77v1.0h-10.77zM654.8 100.9h10.77v1.0h-10.77zM654.8 104.9h10.77v1.0h-10.77zM654.8 120.9h10.77v1.0h-10.77zM654.8 154.9h10.77v1.0h-10.77zM654.8 178.9h10.77v1.0h-10.77zM654.8 183.9h10.77v1.0h-10.77zM654.8 186.9h10.77v2.0h-10.77zM654.8 191.9h10.77v1.0h-10.77zM654.8 205.9h10.77v2.0h-10.77zM654.8 228.9h10.77v1.0h-10.77zM654.8 239.9h10.77v1.0h-10.77zM654.8 251.9h10.77v1.0h-10.77zM654.8 261.9h10.77v1.0h-10.77zM654.8 263.9h10.77v1.0h-10.77zM654.8 273.9h10.77v1.0h-10.77zM654.8 294.9h10.77v1.0h-10.77zM654.8 307.9h10.77v2.0h-10.77zM654.8 345.9h10.77v1.0h-10.77zM654.8 351.9h10.77v1.0h-10.77z"/><path fill="#e3eeed" d="M471.8 76.9h10.77v1.0h-10.77zM471.8 84.9h10.77v2.0h-10.77zM471.8 93.9h10.77v2.0h-10.77zM471.8 100.9h10.77v2.0h-10.77zM471.8 109.9h10.77v1.0h-10.77zM471.8 126.9h10.77v1.0h-10.77zM471.8 148.9h10.77v1.0h-10.77zM471.8 167.9h10.77v1.0h-10.77zM471.8 172.9h10.77v1.0h-10.77zM471.8 175.9h10.77v1.0h-10.77zM471.8 188.9h10.77v1.0h-10.77zM471.8 196.9h10.77v1.0h-10.77zM471.8 258.9h10.77v1.0h-10.77zM471.8 272.9h10.77v1.0h-10.77zM471.8 279.9h10.77v2.0h-10.77zM471.8 283.9h10.77v1.0h-10.77zM471.8 305.9h10.77v1.0h-10.77zM471.8 310.9h10.77v1.0h-10.77zM471.8 323.9h10.77v1.0h-10.77zM471.8 371.9h10.77v1.0h-10.77zM482.6 82.9h10.77v1.0h-10.77zM482.6 89.9h10.77v2.0h-10.77zM482.6 101.9h10.77v1.0h-10.77zM482.6 124.9h10.77v1.0h-10.77zM482.6 157.9h10.77v1.0h-10.77zM482.6 174.9h10.77v1.0h-10.77zM482.6 181.9h10.77v1.0h-10.77zM482.6 183.9h10.77v1.0h-10.77zM482.6 217.9h10.77v1.0h-10.77zM482.6 224.9h10.77v1.0h-10.77zM482.6 229.9h10.77v1.0h-10.77zM482.6 238.9h10.77v1.0h-10.77zM482.6 267.9h10.77v1.0h-10.77zM482.6 283.9h10.77v1.0h-10.77zM482.6 313.9h10.77v1.0h-10.77zM482.6 322.9h10.77v1.0h-10.77zM482.6 363.9h10.77v1.0h-10.77zM482.6 378.9h10.77v1.0h-10.77zM493.3 75.9h10.77v1.0h-10.77zM493.3 78.9h10.77v1.0h-10.77zM493.3 98.9h10.77v2.0h-10.77zM493.3 127.9h10.77v1.0h-10.77zM493.3 136.9h10.77v1.0h-10.77zM493.3 150.9h10.77v1.0h-10.77zM493.3 153.9h10.77v1.0h-10.77zM493.3 184.9h10.77v1.0h-10.77zM493.3 206.9h10.77v1.0h-10.77zM493.3 304.9h10.77v1.0h-10.77zM493.3 318.9h10.77v1.0h-10.77zM493.3 327.9h10.77v1.0h-10.77zM493.3 343.9h10.77v1.0h-10.77zM493.3 358.9h10.77v1.0h-10.77zM493.3 361.9h10.77v1.0h-10.77zM493.3 373.9h10.77v1.0h-10.77zM493.3 378.9h10.77v1.0h-10.77zM504.1 75.9h10.77v1.0h-10.77zM504.1 78.9h10.77v1.0h-10.77zM504.1 92.9h10.77v3.0h-10.77zM504.1 113.9h10.77v1.0h-10.77zM504.1 134.9h10.77v1.0h-10.77zM504.1 175.9h10.77v1.0h-10.77zM504.1 190.9h10.77v1.0h-10.77zM504.1 224.9h10.77v1.0h-10.77zM504.1 230.9h10.77v1.0h-10.77zM504.1 290.9h10.77v1.0h-10.77zM504.1 299.9h10.77v1.0h-10.77zM504.1 302.9h10.77v2.0h-10.77zM504.1 307.9h10.77v1.0h-10.77zM504.1 334.9h10.77v1.0h-10.77zM504.1 340.9h10.77v1.0h-10.77zM504.1 352.9h10.77v1.0h-10.77zM504.1 355.9h10.77v1.0h-10.77zM514.9 104.9h10.77v1.0h-10.77zM514.9 106.9h10.77v3.0h-10.77zM514.9 134.9h10.77v2.0h-10.77zM514.9 155.9h10.77v1.0h-10.77zM514.9 175.9h10.77v1.0h-10.77zM514.9 178.9h10.77v1.0h-10.77zM514.9 185.9h10.77v1.0h-10.77zM514.9 199.9h10.77v1.0h-10.77zM514.9 308.9h10.77v1.0h-10.77zM514.9 313.9h10.77v1.0h-10.77zM514.9 339.9h10.77v1.0h-10.77zM514.9 344.9h10.77v1.0h-10.77zM514.9 346.9h10.77v2.0h-10.77zM514.9 367.9h10.77v1.0h-10.77zM525.6 90.9h10.77v1.0h-10.77zM525.6 97.9h10.77v1.0h-10.77zM525.6 102.9h10.77v1.0h-10.77zM525.6 104.9h10.77v1.0h-10.77zM525.6 122.9h10.77v2.0h-10.77zM525.6 148.9h10.77v2.0h-10.77zM525.6 159.9h10.77v1.0h-10.77zM525.6 215.9h10.77v1.0h-10.77zM525.6 227.9h10.77v1.0h-10.77zM525.6 229.9h10.77v1.0h-10.77zM525.6 237.9h10.77v2.0h-10.77zM525.6 268.9h10.77v1.0h-10.77zM525.6 285.9h10.77v1.0h-10.77zM525.6 327.9h10.77v1.0h-10.77zM525.6 356.9h10.77v1.0h-10.77zM536.4 89.9h10.77v1.0h-10.77zM536.4 131.9h10.77v1.0h-10.77zM536.4 144.9h10.77v1.0h-10.77zM536.4 156.9h10.77v1.0h-10.77zM536.4 158.9h10.77v1.0h-10.77zM536.4 221.9h10.77v1.0h-10.77zM536.4 232.9h10.77v2.0h-10.77zM536.4 253.9h10.77v2.0h-10.77zM536.4 266.9h10.77v1.0h-10.77zM536.4 279.9h10.77v1.0h-10.77zM536.4 326.9h10.77v1.0h-10.77zM536.4 378.9h10.77v1.0h-10.77zM547.2 80.9h10.77v1.0h-10.77zM547.2 86.9h10.77v1.0h-10.77zM547.2 99.9h10.77v1.0h-10.77zM547.2 102.9h10.77v1.0h-10.77zM547.2 112.9h10.77v1.0h-10.77zM547.2 124.9h10.77v1.0h-10.77zM547.2 130.9h10.77v1.0h-10.77zM547.2 138.9h10.77v1.0h-10.77zM547.2 154.9h10.77v1.0h-10.77zM547.2 170.9h10.77v2.0h-10.77zM547.2 177.9h10.77v1.0h-10.77zM547.2 183.9h10.77v1.0h-10.77zM547.2 205.9h10.77v1.0h-10.77zM547.2 272.9h10.77v1.0h-10.77zM547.2 295.9h10.77v2.0h-10.77zM547.2 300.9h10.77v1.0h-10.77zM547.2 306.9h10.77v1.0h-10.77zM547.2 336.9h10.77v2.0h-10.77zM547.2 350.9h10.77v1.0h-10.77zM547.2 373.9h10.77v1.0h-10.77zM557.9 332.9h10.77v2.0h-10.77zM557.9 339.9h10.77v1.0h-10.77zM568.7 91.9h10.77v1.0h-10.77zM568.7 173.9h10.77v1.0h-10.77zM568.7 186.9h10.77v1.0h-10.77zM568.7 188.9h10.77v1.0h-10.77zM568.7 198.9h10.77v1.0h-10.77zM568.7 218.9h10.77v1.0h-10.77zM568.7 260.9h10.77v1.0h-10.77zM568.7 264.9h10.77v1.0h-10.77zM568.7 297.9h10.77v1.0h-10.77zM568.7 307.9h10.77v2.0h-10.77zM568.7 354.9h10.77v1.0h-10.77zM579.5 101.9h10.77v1.0h-10.77zM579.5 114.9h10.77v1.0h-10.77zM579.5 139.9h10.77v1.0h-10.77zM579.5 147.9h10.77v1.0h-10.77zM579.5 188.9h10.77v1.0h-10.77zM579.5 190.9h10.77v1.0h-10.77zM579.5 224.9h10.77v1.0h-10.77zM579.5 228.9h10.77v1.0h-10.77zM579.5 237.9h10.77v1.0h-10.77zM579.5 239.9h10.77v1.0h-10.77zM579.5 244.9h10.77v1.0h-10.77zM579.5 275.9h10.77v1.0h-10.77zM579.5 279.9h10.77v1.0h-10.77zM579.5 293.9h10.77v1.0h-10.77zM579.5 304.9h10.77v1.0h-10.77zM579.5 323.9h10.77v1.0h-10.77zM579.5 348.9h10.77v1.0h-10.77zM579.5 378.9h10.77v1.0h-10.77zM590.2 182.9h10.77v1.0h-10.77zM590.2 199.9h10.77v1.0h-10.77zM590.2 202.9h10.77v1.0h-10.77zM590.2 207.9h10.77v1.0h-10.77zM590.2 261.9h10.77v1.0h-10.77zM590.2 304.9h10.77v1.0h-10.77zM590.2 366.9h10.77v1.0h-10.77zM601.0 77.9h10.77v1.0h-10.77zM601.0 86.9h10.77v1.0h-10.77zM601.0 110.9h10.77v1.0h-10.77zM601.0 128.9h10.77v2.0h-10.77zM601.0 136.9h10.77v1.0h-10.77zM601.0 141.9h10.77v1.0h-10.77zM601.0 158.9h10.77v1.0h-10.77zM601.0 168.9h10.77v1.0h-10.77zM601.0 199.9h10.77v1.0h-10.77zM601.0 249.9h10.77v1.0h-10.77zM601.0 269.9h10.77v1.0h-10.77zM601.0 280.9h10.77v1.0h-10.77zM601.0 359.9h10.77v1.0h-10.77zM601.0 361.9h10.77v1.0h-10.77zM601.0 369.9h10.77v1.0h-10.77zM601.0 379.9h10.77v1.0h-10.77zM611.8 81.9h10.77v1.0h-10.77zM611.8 86.9h10.77v1.0h-10.77zM611.8 91.9h10.77v1.0h-10.77zM611.8 98.9h10.77v1.0h-10.77zM611.8 100.9h10.77v1.0h-10.77zM611.8 115.9h10.77v1.0h-10.77zM611.8 148.9h10.77v1.0h-10.77zM611.8 256.9h10.77v1.0h-10.77zM611.8 292.9h10.77v1.0h-10.77zM611.8 326.9h10.77v1.0h-10.77zM611.8 343.9h10.77v1.0h-10.77zM611.8 345.9h10.77v1.0h-10.77zM611.8 375.9h10.77v2.0h-10.77zM622.5 75.9h10.77v1.0h-10.77zM622.5 84.9h10.77v1.0h-10.77zM622.5 115.9h10.77v1.0h-10.77zM622.5 118.9h10.77v2.0h-10.77zM622.5 139.9h10.77v2.0h-10.77zM622.5 193.9h10.77v2.0h-10.77zM622.5 214.9h10.77v1.0h-10.77zM622.5 217.9h10.77v1.0h-10.77zM622.5 225.9h10.77v1.0h-10.77zM622.5 270.9h10.77v1.0h-10.77zM622.5 279.9h10.77v1.0h-10.77zM622.5 282.9h10.77v1.0h-10.77zM622.5 303.9h10.77v1.0h-10.77zM622.5 332.9h10.77v1.0h-10.77zM622.5 360.9h10.77v1.0h-10.77zM622.5 372.9h10.77v2.0h-10.77zM633.3 73.9h10.77v1.0h-10.77zM633.3 107.9h10.77v1.0h-10.77zM633.3 120.9h10.77v1.0h-10.77zM633.3 197.9h10.77v1.0h-10.77zM633.3 200.9h10.77v1.0h-10.77zM633.3 211.9h10.77v1.0h-10.77zM633.3 217.9h10.77v1.0h-10.77zM633.3 303.9h10.77v1.0h-10.77zM633.3 318.9h10.77v1.0h-10.77zM633.3 324.9h10.77v1.0h-10.77zM633.3 339.9h10.77v1.0h-10.77zM633.3 365.9h10.77v1.0h-10.77zM644.1 94.9h10.77v1.0h-10.77zM644.1 99.9h10.77v2.0h-10.77zM644.1 119.9h10.77v1.0h-10.77zM644.1 182.9h10.77v2.0h-10.77zM644.1 195.9h10.77v1.0h-10.77zM644.1 201.9h10.77v1.0h-10.77zM644.1 218.9h10.77v1.0h-10.77zM644.1 221.9h10.77v1.0h-10.77zM644.1 225.9h10.77v1.0h-10.77zM644.1 236.9h10.77v1.0h-10.77zM644.1 274.9h10.77v1.0h-10.77zM644.1 299.9h10.77v1.0h-10.77zM644.1 325.9h10.77v1.0h-10.77zM644.1 333.9h10.77v2.0h-10.77zM644.1 340.9h10.77v1.0h-10.77zM644.1 343.9h10.77v1.0h-10.77zM644.1 358.9h10.77v1.0h-10.77zM654.8 97.9h10.77v1.0h-10.77zM654.8 106.9h10.77v1.0h-10.77zM654.8 109.9h10.77v2.0h-10.77zM654.8 124.9h10.77v1.0h-10.77zM654.8 161.9h10.77v2.0h-10.77zM654.8 229.9h10.77v1.0h-10.77zM654.8 241.9h10.77v1.0h-10.77zM654.8 255.9h10.77v1.0h-10.77zM654.8 264.9h10.77v1.0h-10.77zM654.8 266.9h10.77v1.0h-10.77zM654.8 287.9h10.77v2.0h-10.77zM654.8 293.9h10.77v1.0h-10.77zM654.8 326.9h10.77v1.0h-10.77zM654.8 333.9h10.77v1.0h-10.77z"/><path fill="#e5efeb" d="M471.8 75.9h10.77v1.0h-10.77zM471.8 115.9h10.77v2.0h-10.77zM471.8 130.9h10.77v1.0h-10.77zM471.8 134.9h10.77v1.0h-10.77zM471.8 155.9h10.77v1.0h-10.77zM471.8 171.9h10.77v1.0h-10.77zM471.8 281.9h10.77v1.0h-10.77zM471.8 286.9h10.77v1.0h-10.77zM471.8 298.9h10.77v2.0h-10.77zM471.8 315.9h10.77v2.0h-10.77zM471.8 326.9h10.77v1.0h-10.77zM471.8 332.9h10.77v1.0h-10.77zM471.8 340.9h10.77v1.0h-10.77zM471.8 351.9h10.77v1.0h-10.77zM471.8 360.9h10.77v1.0h-10.77zM471.8 379.9h10.77v1.0h-10.77zM482.6 83.9h10.77v1.0h-10.77zM482.6 125.9h10.77v1.0h-10.77zM482.6 162.9h10.77v1.0h-10.77zM482.6 172.9h10.77v1.0h-10.77zM482.6 225.9h10.77v2.0h-10.77zM482.6 232.9h10.77v1.0h-10.77zM482.6 237.9h10.77v1.0h-10.77zM482.6 256.9h10.77v1.0h-10.77zM482.6 281.9h10.77v2.0h-10.77zM482.6 300.9h10.77v1.0h-10.77zM482.6 310.9h10.77v1.0h-10.77zM482.6 368.9h10.77v1.0h-10.77zM482.6 377.9h10.77v1.0h-10.77zM493.3 76.9h10.77v1.0h-10.77zM493.3 93.9h10.77v1.0h-10.77zM493.3 137.9h10.77v1.0h-10.77zM493.3 166.9h10.77v1.0h-10.77zM493.3 207.9h10.77v1.0h-10.77zM493.3 213.9h10.77v1.0h-10.77zM493.3 219.9h10.77v3.0h-10.77zM493.3 263.9h10.77v1.0h-10.77zM493.3 338.9h10.77v1.0h-10.77zM493.3 347.9h10.77v1.0h-10.77zM493.3 360.9h10.77v1.0h-10.77zM493.3 374.9h10.77v1.0h-10.77zM504.1 112.9h10.77v1.0h-10.77zM504.1 131.9h10.77v2.0h-10.77zM504.1 176.9h10.77v1.0h-10.77zM504.1 205.9h10.77v1.0h-10.77zM504.1 261.9h10.77v2.0h-10.77zM504.1 280.9h10.77v1.0h-10.77zM504.1 283.9h10.77v1.0h-10.77zM504.1 319.9h10.77v1.0h-10.77zM504.1 339.9h10.77v1.0h-10.77zM504.1 362.9h10.77v1.0h-10.77zM504.1 364.9h10.77v1.0h-10.77zM514.9 133.9h10.77v1.0h-10.77zM514.9 136.9h10.77v1.0h-10.77zM514.9 156.9h10.77v1.0h-10.77zM514.9 197.9h10.77v1.0h-10.77zM514.9 205.9h10.77v1.0h-10.77zM514.9 222.9h10.77v1.0h-10.77zM514.9 246.9h10.77v1.0h-10.77zM514.9 273.9h10.77v1.0h-10.77zM514.9 275.9h10.77v1.0h-10.77zM514.9 283.9h10.77v1.0h-10.77zM514.9 290.9h10.77v1.0h-10.77zM514.9 314.9h10.77v1.0h-10.77zM514.9 322.9h10.77v1.0h-10.77zM514.9 326.9h10.77v1.0h-10.77zM514.9 366.9h10.77v1.0h-10.77zM514.9 368.9h10.77v1.0h-10.77zM525.6 76.9h10.77v1.0h-10.77zM525.6 98.9h10.77v1.0h-10.77zM525.6 108.9h10.77v1.0h-10.77zM525.6 124.9h10.77v1.0h-10.77zM525.6 199.9h10.77v1.0h-10.77zM525.6 253.9h10.77v1.0h-10.77zM525.6 279.9h10.77v1.0h-10.77zM525.6 295.9h10.77v1.0h-10.77zM525.6 340.9h10.77v1.0h-10.77zM525.6 348.9h10.77v2.0h-10.77zM525.6 380.9h10.77v1.0h-10.77zM536.4 129.9h10.77v2.0h-10.77zM536.4 166.9h10.77v1.0h-10.77zM536.4 222.9h10.77v1.0h-10.77zM536.4 260.9h10.77v2.0h-10.77zM536.4 304.9h10.77v2.0h-10.77zM536.4 325.9h10.77v1.0h-10.77zM536.4 377.9h10.77v1.0h-10.77zM547.2 131.9h10.77v1.0h-10.77zM547.2 137.9h10.77v1.0h-10.77zM547.2 148.9h10.77v1.0h-10.77zM547.2 168.9h10.77v2.0h-10.77zM547.2 206.9h10.77v1.0h-10.77zM547.2 254.9h10.77v3.0h-10.77zM547.2 264.9h10.77v1.0h-10.77zM547.2 271.9h10.77v1.0h-10.77zM547.2 290.9h10.77v2.0h-10.77zM547.2 322.9h10.77v1.0h-10.77zM547.2 348.9h10.77v1.0h-10.77zM547.2 359.9h10.77v2.0h-10.77zM547.2 370.9h10.77v1.0h-10.77zM557.9 148.9h10.77v1.0h-10.77zM557.9 172.9h10.77v1.0h-10.77zM557.9 340.9h10.77v1.0h-10.77zM568.7 76.9h10.77v2.0h-10.77zM568.7 79.9h10.77v1.0h-10.77zM568.7 130.9h10.77v1.0h-10.77zM568.7 132.9h10.77v1.0h-10.77zM568.7 144.9h10.77v1.0h-10.77zM568.7 150.9h10.77v2.0h-10.77zM568.7 169.9h10.77v1.0h-10.77zM568.7 187.9h10.77v1.0h-10.77zM568.7 197.9h10.77v1.0h-10.77zM568.7 211.9h10.77v1.0h-10.77zM568.7 235.9h10.77v1.0h-10.77zM568.7 300.9h10.77v1.0h-10.77zM579.5 102.9h10.77v1.0h-10.77zM579.5 146.9h10.77v1.0h-10.77zM579.5 176.9h10.77v1.0h-10.77zM579.5 183.9h10.77v1.0h-10.77zM579.5 189.9h10.77v1.0h-10.77zM579.5 291.9h10.77v1.0h-10.77zM579.5 302.9h10.77v1.0h-10.77zM579.5 349.9h10.77v1.0h-10.77zM579.5 361.9h10.77v1.0h-10.77zM579.5 372.9h10.77v1.0h-10.77zM579.5 379.9h10.77v2.0h-10.77zM590.2 97.9h10.77v1.0h-10.77zM590.2 341.9h10.77v1.0h-10.77zM601.0 74.9h10.77v2.0h-10.77zM601.0 78.9h10.77v1.0h-10.77zM601.0 80.9h10.77v2.0h-10.77zM601.0 104.9h10.77v1.0h-10.77zM601.0 123.9h10.77v1.0h-10.77zM601.0 146.9h10.77v1.0h-10.77zM601.0 154.9h10.77v1.0h-10.77zM601.0 156.9h10.77v1.0h-10.77zM601.0 159.9h10.77v1.0h-10.77zM601.0 163.9h10.77v1.0h-10.77zM601.0 197.9h10.77v1.0h-10.77zM601.0 212.9h10.77v1.0h-10.77zM601.0 245.9h10.77v1.0h-10.77zM601.0 262.9h10.77v1.0h-10.77zM601.0 272.9h10.77v1.0h-10.77zM601.0 275.9h10.77v1.0h-10.77zM601.0 277.9h10.77v1.0h-10.77zM601.0 287.9h10.77v1.0h-10.77zM601.0 293.9h10.77v1.0h-10.77zM601.0 316.9h10.77v1.0h-10.77zM601.0 378.9h10.77v1.0h-10.77zM611.8 120.9h10.77v1.0h-10.77zM611.8 142.9h10.77v1.0h-10.77zM611.8 156.9h10.77v1.0h-10.77zM611.8 209.9h10.77v1.0h-10.77zM611.8 232.9h10.77v1.0h-10.77zM611.8 235.9h10.77v1.0h-10.77zM611.8 238.9h10.77v1.0h-10.77zM611.8 288.9h10.77v1.0h-10.77zM611.8 291.9h10.77v1.0h-10.77zM611.8 293.9h10.77v1.0h-10.77zM611.8 353.9h10.77v1.0h-10.77zM611.8 364.9h10.77v2.0h-10.77zM611.8 381.9h10.77v1.0h-10.77zM622.5 74.9h10.77v1.0h-10.77zM622.5 89.9h10.77v1.0h-10.77zM622.5 93.9h10.77v1.0h-10.77zM622.5 96.9h10.77v1.0h-10.77zM622.5 104.9h10.77v1.0h-10.77zM622.5 116.9h10.77v2.0h-10.77zM622.5 123.9h10.77v1.0h-10.77zM622.5 161.9h10.77v1.0h-10.77zM622.5 168.9h10.77v1.0h-10.77zM622.5 188.9h10.77v2.0h-10.77zM622.5 213.9h10.77v1.0h-10.77zM622.5 226.9h10.77v1.0h-10.77zM622.5 269.9h10.77v1.0h-10.77zM622.5 323.9h10.77v1.0h-10.77zM633.3 86.9h10.77v2.0h-10.77zM633.3 96.9h10.77v1.0h-10.77zM633.3 109.9h10.77v1.0h-10.77zM633.3 132.9h10.77v1.0h-10.77zM633.3 142.9h10.77v1.0h-10.77zM633.3 183.9h10.77v1.0h-10.77zM633.3 191.9h10.77v1.0h-10.77zM633.3 201.9h10.77v1.0h-10.77zM633.3 208.9h10.77v1.0h-10.77zM633.3 223.9h10.77v1.0h-10.77zM633.3 242.9h10.77v1.0h-10.77zM633.3 252.9h10.77v1.0h-10.77zM633.3 254.9h10.77v1.0h-10.77zM633.3 262.9h10.77v1.0h-10.77zM633.3 285.9h10.77v1.0h-10.77zM633.3 326.9h10.77v1.0h-10.77zM633.3 334.9h10.77v1.0h-10.77zM633.3 343.9h10.77v1.0h-10.77zM644.1 73.9h10.77v1.0h-10.77zM644.1 85.9h10.77v3.0h-10.77zM644.1 107.9h10.77v1.0h-10.77zM644.1 163.9h10.77v1.0h-10.77zM644.1 172.9h10.77v1.0h-10.77zM644.1 174.9h10.77v1.0h-10.77zM644.1 203.9h10.77v1.0h-10.77zM644.1 211.9h10.77v1.0h-10.77zM644.1 213.9h10.77v1.0h-10.77zM644.1 232.9h10.77v1.0h-10.77zM644.1 235.9h10.77v1.0h-10.77zM644.1 273.9h10.77v1.0h-10.77zM644.1 281.9h10.77v1.0h-10.77zM644.1 290.9h10.77v1.0h-10.77zM644.1 306.9h10.77v2.0h-10.77zM644.1 310.9h10.77v1.0h-10.77zM644.1 317.9h10.77v1.0h-10.77zM644.1 319.9h10.77v2.0h-10.77zM644.1 322.9h10.77v1.0h-10.77zM654.8 78.9h10.77v1.0h-10.77zM654.8 81.9h10.77v1.0h-10.77zM654.8 94.9h10.77v1.0h-10.77zM654.8 111.9h10.77v1.0h-10.77zM654.8 121.9h10.77v1.0h-10.77zM654.8 133.9h10.77v1.0h-10.77zM654.8 193.9h10.77v1.0h-10.77zM654.8 197.9h10.77v2.0h-10.77zM654.8 218.9h10.77v1.0h-10.77zM654.8 224.9h10.77v1.0h-10.77zM654.8 232.9h10.77v1.0h-10.77zM654.8 309.9h10.77v1.0h-10.77z"/><path fill="#e7efe9" d="M471.8 132.9h10.77v1.0h-10.77zM471.8 135.9h10.77v1.0h-10.77zM471.8 145.9h10.77v1.0h-10.77zM471.8 147.9h10.77v1.0h-10.77zM471.8 187.9h10.77v1.0h-10.77zM471.8 225.9h10.77v1.0h-10.77zM471.8 260.9h10.77v1.0h-10.77zM471.8 364.9h10.77v1.0h-10.77zM471.8 374.9h10.77v1.0h-10.77zM471.8 377.9h10.77v1.0h-10.77zM482.6 94.9h10.77v1.0h-10.77zM482.6 135.9h10.77v1.0h-10.77zM482.6 150.9h10.77v1.0h-10.77zM482.6 152.9h10.77v1.0h-10.77zM482.6 189.9h10.77v1.0h-10.77zM482.6 215.9h10.77v1.0h-10.77zM482.6 277.9h10.77v1.0h-10.77zM482.6 304.9h10.77v1.0h-10.77zM482.6 382.9h10.77v1.0h-10.77zM493.3 180.9h10.77v2.0h-10.77zM493.3 192.9h10.77v1.0h-10.77zM493.3 231.9h10.77v1.0h-10.77zM493.3 233.9h10.77v1.0h-10.77zM493.3 276.9h10.77v1.0h-10.77zM493.3 319.9h10.77v1.0h-10.77zM493.3 329.9h10.77v1.0h-10.77zM504.1 85.9h10.77v1.0h-10.77zM504.1 106.9h10.77v1.0h-10.77zM504.1 182.9h10.77v1.0h-10.77zM504.1 196.9h10.77v1.0h-10.77zM504.1 204.9h10.77v1.0h-10.77zM504.1 225.9h10.77v1.0h-10.77zM504.1 271.9h10.77v1.0h-10.77zM504.1 324.9h10.77v1.0h-10.77zM504.1 359.9h10.77v1.0h-10.77zM514.9 160.9h10.77v1.0h-10.77zM514.9 174.9h10.77v1.0h-10.77zM514.9 192.9h10.77v1.0h-10.77zM514.9 194.9h10.77v1.0h-10.77zM514.9 233.9h10.77v1.0h-10.77zM514.9 255.9h10.77v1.0h-10.77zM514.9 282.9h10.77v1.0h-10.77zM514.9 299.9h10.77v1.0h-10.77zM514.9 323.9h10.77v1.0h-10.77zM514.9 340.9h10.77v1.0h-10.77zM514.9 345.9h10.77v1.0h-10.77zM514.9 370.9h10.77v1.0h-10.77zM525.6 121.9h10.77v1.0h-10.77zM525.6 135.9h10.77v1.0h-10.77zM525.6 169.9h10.77v1.0h-10.77zM525.6 174.9h10.77v2.0h-10.77zM525.6 180.9h10.77v1.0h-10.77zM525.6 198.9h10.77v1.0h-10.77zM525.6 247.9h10.77v1.0h-10.77zM525.6 263.9h10.77v1.0h-10.77zM525.6 350.9h10.77v1.0h-10.77zM525.6 352.9h10.77v1.0h-10.77zM525.6 379.9h10.77v1.0h-10.77zM536.4 209.9h10.77v1.0h-10.77zM536.4 257.9h10.77v1.0h-10.77zM536.4 259.9h10.77v1.0h-10.77zM536.4 262.9h10.77v1.0h-10.77zM536.4 283.9h10.77v1.0h-10.77zM536.4 332.9h10.77v2.0h-10.77zM536.4 336.9h10.77v1.0h-10.77zM536.4 349.9h10.77v1.0h-10.77zM536.4 359.9h10.77v1.0h-10.77zM536.4 370.9h10.77v1.0h-10.77zM536.4 379.9h10.77v2.0h-10.77zM547.2 90.9h10.77v1.0h-10.77zM547.2 101.9h10.77v1.0h-10.77zM547.2 126.9h10.77v2.0h-10.77zM547.2 136.9h10.77v1.0h-10.77zM547.2 178.9h10.77v1.0h-10.77zM547.2 267.9h10.77v1.0h-10.77zM547.2 287.9h10.77v1.0h-10.77zM547.2 311.9h10.77v1.0h-10.77zM547.2 372.9h10.77v1.0h-10.77zM557.9 120.9h10.77v2.0h-10.77zM557.9 160.9h10.77v1.0h-10.77zM557.9 238.9h10.77v1.0h-10.77zM557.9 279.9h10.77v1.0h-10.77zM557.9 327.9h10.77v1.0h-10.77zM557.9 381.9h10.77v1.0h-10.77zM568.7 112.9h10.77v1.0h-10.77zM568.7 118.9h10.77v1.0h-10.77zM568.7 147.9h10.77v1.0h-10.77zM568.7 210.9h10.77v1.0h-10.77zM568.7 237.9h10.77v1.0h-10.77zM568.7 292.9h10.77v1.0h-10.77zM568.7 296.9h10.77v1.0h-10.77zM568.7 301.9h10.77v1.0h-10.77zM568.7 326.9h10.77v1.0h-10.77zM579.5 149.9h10.77v2.0h-10.77zM579.5 212.9h10.77v1.0h-10.77zM579.5 238.9h10.77v1.0h-10.77zM579.5 309.9h10.77v1.0h-10.77zM579.5 360.9h10.77v1.0h-10.77zM579.5 371.9h10.77v1.0h-10.77zM590.2 118.9h10.77v1.0h-10.77zM590.2 140.9h10.77v1.0h-10.77zM590.2 232.9h10.77v1.0h-10.77zM590.2 326.9h10.77v2.0h-10.77zM601.0 73.9h10.77v1.0h-10.77zM601.0 79.9h10.77v1.0h-10.77zM601.0 105.9h10.77v1.0h-10.77zM601.0 108.9h10.77v2.0h-10.77zM601.0 117.9h10.77v2.0h-10.77zM601.0 122.9h10.77v1.0h-10.77zM601.0 137.9h10.77v1.0h-10.77zM601.0 153.9h10.77v1.0h-10.77zM601.0 193.9h10.77v3.0h-10.77zM601.0 236.9h10.77v1.0h-10.77zM601.0 257.9h10.77v1.0h-10.77zM601.0 265.9h10.77v2.0h-10.77zM601.0 296.9h10.77v1.0h-10.77zM601.0 317.9h10.77v1.0h-10.77zM601.0 331.9h10.77v1.0h-10.77zM601.0 363.9h10.77v1.0h-10.77zM601.0 376.9h10.77v2.0h-10.77zM611.8 90.9h10.77v1.0h-10.77zM611.8 132.9h10.77v1.0h-10.77zM611.8 176.9h10.77v1.0h-10.77zM611.8 203.9h10.77v1.0h-10.77zM611.8 208.9h10.77v1.0h-10.77zM611.8 233.9h10.77v1.0h-10.77zM611.8 239.9h10.77v1.0h-10.77zM611.8 294.9h10.77v1.0h-10.77zM611.8 363.9h10.77v1.0h-10.77zM622.5 90.9h10.77v1.0h-10.77zM622.5 92.9h10.77v1.0h-10.77zM622.5 105.9h10.77v1.0h-10.77zM622.5 110.9h10.77v1.0h-10.77zM622.5 120.9h10.77v1.0h-10.77zM622.5 152.9h10.77v1.0h-10.77zM622.5 185.9h10.77v1.0h-10.77zM622.5 202.9h10.77v1.0h-10.77zM622.5 218.9h10.77v1.0h-10.77zM622.5 243.9h10.77v2.0h-10.77zM622.5 317.9h10.77v1.0h-10.77zM622.5 353.9h10.77v2.0h-10.77zM622.5 364.9h10.77v1.0h-10.77zM633.3 89.9h10.77v1.0h-10.77zM633.3 108.9h10.77v1.0h-10.77zM633.3 202.9h10.77v1.0h-10.77zM633.3 229.9h10.77v1.0h-10.77zM633.3 251.9h10.77v1.0h-10.77zM633.3 294.9h10.77v1.0h-10.77zM633.3 304.9h10.77v1.0h-10.77zM633.3 327.9h10.77v1.0h-10.77zM633.3 341.9h10.77v1.0h-10.77zM644.1 74.9h10.77v2.0h-10.77zM644.1 90.9h10.77v1.0h-10.77zM644.1 122.9h10.77v1.0h-10.77zM644.1 166.9h10.77v1.0h-10.77zM644.1 175.9h10.77v2.0h-10.77zM644.1 184.9h10.77v1.0h-10.77zM644.1 188.9h10.77v1.0h-10.77zM644.1 196.9h10.77v1.0h-10.77zM644.1 200.9h10.77v1.0h-10.77zM644.1 216.9h10.77v1.0h-10.77zM644.1 249.9h10.77v1.0h-10.77zM644.1 282.9h10.77v1.0h-10.77zM644.1 300.9h10.77v1.0h-10.77zM644.1 328.9h10.77v1.0h-10.77zM644.1 342.9h10.77v1.0h-10.77zM644.1 364.9h10.77v1.0h-10.77zM644.1 368.9h10.77v1.0h-10.77zM654.8 75.9h10.77v1.0h-10.77zM654.8 83.9h10.77v2.0h-10.77zM654.8 101.9h10.77v1.0h-10.77zM654.8 151.9h10.77v1.0h-10.77zM654.8 153.9h10.77v1.0h-10.77zM654.8 182.9h10.77v1.0h-10.77zM654.8 192.9h10.77v1.0h-10.77zM654.8 204.9h10.77v1.0h-10.77z"/><path fill="#e9efe6" d="M471.8 154.9h10.77v1.0h-10.77zM471.8 178.9h10.77v1.0h-10.77zM471.8 180.9h10.77v1.0h-10.77zM471.8 218.9h10.77v1.0h-10.77zM471.8 325.9h10.77v1.0h-10.77zM471.8 331.9h10.77v1.0h-10.77zM471.8 378.9h10.77v1.0h-10.77zM482.6 73.9h10.77v1.0h-10.77zM482.6 179.9h10.77v1.0h-10.77zM482.6 317.9h10.77v1.0h-10.77zM482.6 345.9h10.77v1.0h-10.77zM482.6 353.9h10.77v1.0h-10.77zM493.3 106.9h10.77v1.0h-10.77zM493.3 132.9h10.77v1.0h-10.77zM493.3 212.9h10.77v1.0h-10.77zM493.3 261.9h10.77v2.0h-10.77zM493.3 334.9h10.77v2.0h-10.77zM493.3 350.9h10.77v1.0h-10.77zM493.3 359.9h10.77v1.0h-10.77zM493.3 362.9h10.77v1.0h-10.77zM504.1 77.9h10.77v1.0h-10.77zM504.1 222.9h10.77v2.0h-10.77zM504.1 263.9h10.77v1.0h-10.77zM504.1 273.9h10.77v1.0h-10.77zM504.1 278.9h10.77v1.0h-10.77zM504.1 308.9h10.77v1.0h-10.77zM504.1 318.9h10.77v1.0h-10.77zM504.1 323.9h10.77v1.0h-10.77zM514.9 77.9h10.77v1.0h-10.77zM514.9 137.9h10.77v1.0h-10.77zM514.9 207.9h10.77v1.0h-10.77zM514.9 234.9h10.77v1.0h-10.77zM514.9 277.9h10.77v2.0h-10.77zM514.9 327.9h10.77v1.0h-10.77zM514.9 363.9h10.77v2.0h-10.77zM514.9 381.9h10.77v1.0h-10.77zM525.6 136.9h10.77v1.0h-10.77zM525.6 228.9h10.77v1.0h-10.77zM525.6 306.9h10.77v1.0h-10.77zM525.6 351.9h10.77v1.0h-10.77zM525.6 378.9h10.77v1.0h-10.77zM536.4 205.9h10.77v1.0h-10.77zM536.4 252.9h10.77v1.0h-10.77zM536.4 258.9h10.77v1.0h-10.77zM536.4 363.9h10.77v1.0h-10.77zM547.2 125.9h10.77v1.0h-10.77zM547.2 147.9h10.77v1.0h-10.77zM547.2 153.9h10.77v1.0h-10.77zM547.2 162.9h10.77v1.0h-10.77zM547.2 184.9h10.77v1.0h-10.77zM547.2 285.9h10.77v2.0h-10.77zM547.2 310.9h10.77v1.0h-10.77zM547.2 314.9h10.77v1.0h-10.77zM547.2 349.9h10.77v1.0h-10.77zM557.9 161.9h10.77v1.0h-10.77zM568.7 143.9h10.77v1.0h-10.77zM568.7 170.9h10.77v1.0h-10.77zM568.7 220.9h10.77v1.0h-10.77zM568.7 222.9h10.77v1.0h-10.77zM568.7 236.9h10.77v1.0h-10.77zM568.7 239.9h10.77v1.0h-10.77zM579.5 87.9h10.77v1.0h-10.77zM579.5 116.9h10.77v1.0h-10.77zM579.5 148.9h10.77v1.0h-10.77zM579.5 166.9h10.77v1.0h-10.77zM579.5 225.9h10.77v1.0h-10.77zM579.5 245.9h10.77v1.0h-10.77zM579.5 297.9h10.77v1.0h-10.77zM579.5 345.9h10.77v1.0h-10.77zM590.2 117.9h10.77v1.0h-10.77zM590.2 156.9h10.77v1.0h-10.77zM590.2 361.9h10.77v1.0h-10.77zM601.0 76.9h10.77v1.0h-10.77zM601.0 82.9h10.77v1.0h-10.77zM601.0 93.9h10.77v1.0h-10.77zM601.0 191.9h10.77v2.0h-10.77zM601.0 196.9h10.77v1.0h-10.77zM601.0 198.9h10.77v1.0h-10.77zM601.0 261.9h10.77v1.0h-10.77zM601.0 271.9h10.77v1.0h-10.77zM601.0 309.9h10.77v2.0h-10.77zM601.0 335.9h10.77v1.0h-10.77zM601.0 354.9h10.77v2.0h-10.77zM601.0 358.9h10.77v1.0h-10.77zM611.8 80.9h10.77v1.0h-10.77zM611.8 102.9h10.77v1.0h-10.77zM611.8 175.9h10.77v1.0h-10.77zM611.8 181.9h10.77v1.0h-10.77zM611.8 189.9h10.77v1.0h-10.77zM611.8 201.9h10.77v1.0h-10.77zM611.8 220.9h10.77v1.0h-10.77zM611.8 242.9h10.77v1.0h-10.77zM611.8 287.9h10.77v1.0h-10.77zM611.8 327.9h10.77v1.0h-10.77zM611.8 344.9h10.77v1.0h-10.77zM622.5 80.9h10.77v1.0h-10.77zM622.5 95.9h10.77v1.0h-10.77zM622.5 108.9h10.77v1.0h-10.77zM622.5 112.9h10.77v1.0h-10.77zM622.5 162.9h10.77v1.0h-10.77zM622.5 166.9h10.77v1.0h-10.77zM622.5 201.9h10.77v1.0h-10.77zM622.5 255.9h10.77v1.0h-10.77zM622.5 316.9h10.77v1.0h-10.77zM622.5 324.9h10.77v1.0h-10.77zM622.5 383.9h10.77v1.0h-10.77zM633.3 84.9h10.77v2.0h-10.77zM633.3 94.9h10.77v1.0h-10.77zM633.3 118.9h10.77v1.0h-10.77zM633.3 125.9h10.77v1.0h-10.77zM633.3 131.9h10.77v1.0h-10.77zM633.3 253.9h10.77v1.0h-10.77zM633.3 306.9h10.77v1.0h-10.77zM633.3 338.9h10.77v1.0h-10.77zM644.1 91.9h10.77v1.0h-10.77zM644.1 111.9h10.77v1.0h-10.77zM644.1 187.9h10.77v1.0h-10.77zM644.1 220.9h10.77v1.0h-10.77zM644.1 326.9h10.77v2.0h-10.77zM644.1 366.9h10.77v1.0h-10.77zM654.8 95.9h10.77v1.0h-10.77zM654.8 212.9h10.77v1.0h-10.77zM654.8 227.9h10.77v1.0h-10.77zM654.8 233.9h10.77v1.0h-10.77zM654.8 238.9h10.77v1.0h-10.77zM654.8 276.9h10.77v2.0h-10.77zM654.8 362.9h10.77v1.0h-10.77zM654.8 367.9h10.77v1.0h-10.77z"/><path fill="#ebf0e4" d="M471.8 77.9h10.77v1.0h-10.77zM471.8 144.9h10.77v1.0h-10.77zM471.8 319.9h10.77v2.0h-10.77zM471.8 336.9h10.77v1.0h-10.77zM482.6 151.9h10.77v1.0h-10.77zM482.6 216.9h10.77v1.0h-10.77zM482.6 233.9h10.77v1.0h-10.77zM482.6 278.9h10.77v1.0h-10.77zM482.6 381.9h10.77v1.0h-10.77zM493.3 234.9h10.77v1.0h-10.77zM493.3 244.9h10.77v1.0h-10.77zM493.3 363.9h10.77v1.0h-10.77zM504.1 86.9h10.77v1.0h-10.77zM504.1 107.9h10.77v1.0h-10.77zM504.1 234.9h10.77v1.0h-10.77zM504.1 264.9h10.77v1.0h-10.77zM504.1 361.9h10.77v1.0h-10.77zM514.9 78.9h10.77v1.0h-10.77zM514.9 96.9h10.77v1.0h-10.77zM514.9 124.9h10.77v2.0h-10.77zM514.9 162.9h10.77v1.0h-10.77zM514.9 190.9h10.77v1.0h-10.77zM514.9 193.9h10.77v1.0h-10.77zM514.9 206.9h10.77v1.0h-10.77zM514.9 276.9h10.77v1.0h-10.77zM514.9 279.9h10.77v1.0h-10.77zM514.9 289.9h10.77v1.0h-10.77zM514.9 300.9h10.77v1.0h-10.77zM514.9 365.9h10.77v1.0h-10.77zM525.6 170.9h10.77v1.0h-10.77zM525.6 177.9h10.77v3.0h-10.77zM525.6 197.9h10.77v1.0h-10.77zM536.4 206.9h10.77v1.0h-10.77zM536.4 210.9h10.77v2.0h-10.77zM536.4 284.9h10.77v2.0h-10.77zM536.4 321.9h10.77v1.0h-10.77zM536.4 374.9h10.77v1.0h-10.77zM536.4 382.9h10.77v1.0h-10.77zM547.2 128.9h10.77v2.0h-10.77zM547.2 185.9h10.77v1.0h-10.77zM547.2 289.9h10.77v1.0h-10.77zM547.2 371.9h10.77v1.0h-10.77zM557.9 285.9h10.77v1.0h-10.77zM568.7 229.9h10.77v2.0h-10.77zM568.7 377.9h10.77v1.0h-10.77zM579.5 86.9h10.77v1.0h-10.77zM579.5 152.9h10.77v1.0h-10.77zM579.5 165.9h10.77v1.0h-10.77zM579.5 282.9h10.77v1.0h-10.77zM579.5 292.9h10.77v1.0h-10.77zM579.5 296.9h10.77v1.0h-10.77zM579.5 303.9h10.77v1.0h-10.77zM579.5 320.9h10.77v1.0h-10.77zM579.5 346.9h10.77v1.0h-10.77zM601.0 147.9h10.77v1.0h-10.77zM601.0 276.9h10.77v1.0h-10.77zM601.0 345.9h10.77v1.0h-10.77zM601.0 365.9h10.77v1.0h-10.77zM611.8 112.9h10.77v1.0h-10.77zM611.8 204.9h10.77v1.0h-10.77zM611.8 334.9h10.77v1.0h-10.77zM611.8 373.9h10.77v1.0h-10.77zM611.8 383.9h10.77v1.0h-10.77zM622.5 94.9h10.77v1.0h-10.77zM622.5 128.9h10.77v1.0h-10.77zM622.5 231.9h10.77v2.0h-10.77zM622.5 256.9h10.77v1.0h-10.77zM622.5 304.9h10.77v1.0h-10.77zM633.3 110.9h10.77v1.0h-10.77zM633.3 124.9h10.77v1.0h-10.77zM633.3 179.9h10.77v2.0h-10.77zM633.3 287.9h10.77v1.0h-10.77zM633.3 293.9h10.77v1.0h-10.77zM644.1 121.9h10.77v1.0h-10.77zM644.1 204.9h10.77v1.0h-10.77zM644.1 212.9h10.77v1.0h-10.77zM644.1 217.9h10.77v1.0h-10.77zM654.8 82.9h10.77v1.0h-10.77zM654.8 134.9h10.77v1.0h-10.77zM654.8 150.9h10.77v1.0h-10.77zM654.8 221.9h10.77v1.0h-10.77zM654.8 275.9h10.77v1.0h-10.77z"/><path fill="#eef0e2" d="M471.8 131.9h10.77v1.0h-10.77zM471.8 219.9h10.77v1.0h-10.77zM471.8 261.9h10.77v1.0h-10.77zM471.8 337.9h10.77v2.0h-10.77zM482.6 301.9h10.77v1.0h-10.77zM482.6 314.9h10.77v1.0h-10.77zM482.6 316.9h10.77v1.0h-10.77zM493.3 129.9h10.77v1.0h-10.77zM493.3 160.9h10.77v1.0h-10.77zM493.3 377.9h10.77v1.0h-10.77zM504.1 76.9h10.77v1.0h-10.77zM504.1 108.9h10.77v1.0h-10.77zM504.1 121.9h10.77v2.0h-10.77zM504.1 197.9h10.77v1.0h-10.77zM504.1 201.9h10.77v1.0h-10.77zM504.1 235.9h10.77v1.0h-10.77zM504.1 272.9h10.77v1.0h-10.77zM504.1 279.9h10.77v1.0h-10.77zM504.1 360.9h10.77v1.0h-10.77zM525.6 232.9h10.77v2.0h-10.77zM525.6 245.9h10.77v1.0h-10.77zM525.6 264.9h10.77v1.0h-10.77zM525.6 341.9h10.77v1.0h-10.77zM536.4 381.9h10.77v1.0h-10.77zM557.9 166.9h10.77v2.0h-10.77zM568.7 90.9h10.77v1.0h-10.77zM568.7 355.9h10.77v1.0h-10.77zM579.5 151.9h10.77v1.0h-10.77zM579.5 153.9h10.77v2.0h-10.77zM579.5 180.9h10.77v1.0h-10.77zM579.5 230.9h10.77v1.0h-10.77zM579.5 271.9h10.77v1.0h-10.77zM579.5 321.9h10.77v1.0h-10.77zM590.2 368.9h10.77v2.0h-10.77zM601.0 152.9h10.77v1.0h-10.77zM601.0 155.9h10.77v1.0h-10.77zM601.0 214.9h10.77v1.0h-10.77zM601.0 233.9h10.77v2.0h-10.77zM601.0 288.9h10.77v2.0h-10.77zM601.0 297.9h10.77v1.0h-10.77zM601.0 362.9h10.77v1.0h-10.77zM601.0 364.9h10.77v1.0h-10.77zM611.8 106.9h10.77v2.0h-10.77zM611.8 113.9h10.77v2.0h-10.77zM611.8 141.9h10.77v1.0h-10.77zM611.8 200.9h10.77v1.0h-10.77zM611.8 219.9h10.77v1.0h-10.77zM611.8 234.9h10.77v1.0h-10.77zM611.8 378.9h10.77v1.0h-10.77zM622.5 91.9h10.77v1.0h-10.77zM622.5 109.9h10.77v1.0h-10.77zM622.5 377.9h10.77v1.0h-10.77zM633.3 119.9h10.77v1.0h-10.77zM633.3 221.9h10.77v2.0h-10.77zM633.3 363.9h10.77v1.0h-10.77zM644.1 118.9h10.77v1.0h-10.77zM644.1 181.9h10.77v1.0h-10.77zM644.1 318.9h10.77v1.0h-10.77zM644.1 367.9h10.77v1.0h-10.77zM654.8 76.9h10.77v2.0h-10.77zM654.8 105.9h10.77v1.0h-10.77zM654.8 334.9h10.77v1.0h-10.77zM654.8 364.9h10.77v1.0h-10.77z"/><path fill="#f0f0df" d="M471.8 90.9h10.77v1.0h-10.77zM471.8 158.9h10.77v2.0h-10.77zM471.8 324.9h10.77v1.0h-10.77zM482.6 173.9h10.77v1.0h-10.77zM482.6 180.9h10.77v1.0h-10.77zM482.6 344.9h10.77v1.0h-10.77zM493.3 130.9h10.77v1.0h-10.77zM493.3 364.9h10.77v1.0h-10.77zM514.9 97.9h10.77v1.0h-10.77zM514.9 161.9h10.77v1.0h-10.77zM514.9 369.9h10.77v1.0h-10.77zM547.2 163.9h10.77v1.0h-10.77zM547.2 253.9h10.77v1.0h-10.77zM547.2 288.9h10.77v1.0h-10.77zM547.2 355.9h10.77v1.0h-10.77zM557.9 178.9h10.77v2.0h-10.77zM568.7 221.9h10.77v1.0h-10.77zM568.7 238.9h10.77v1.0h-10.77zM568.7 256.9h10.77v1.0h-10.77zM568.7 343.9h10.77v2.0h-10.77zM568.7 356.9h10.77v2.0h-10.77zM568.7 378.9h10.77v1.0h-10.77zM579.5 170.9h10.77v1.0h-10.77zM579.5 181.9h10.77v1.0h-10.77zM590.2 328.9h10.77v2.0h-10.77zM601.0 204.9h10.77v2.0h-10.77zM611.8 366.9h10.77v1.0h-10.77zM611.8 377.9h10.77v1.0h-10.77zM622.5 111.9h10.77v1.0h-10.77zM622.5 186.9h10.77v1.0h-10.77zM622.5 230.9h10.77v1.0h-10.77zM622.5 253.9h10.77v1.0h-10.77zM633.3 210.9h10.77v1.0h-10.77zM644.1 198.9h10.77v2.0h-10.77zM644.1 365.9h10.77v1.0h-10.77zM654.8 225.9h10.77v1.0h-10.77zM654.8 274.9h10.77v1.0h-10.77zM654.8 363.9h10.77v1.0h-10.77z"/><path fill="#f2f1dd" d="M471.8 110.9h10.77v2.0h-10.77zM471.8 282.9h10.77v1.0h-10.77zM471.8 296.9h10.77v2.0h-10.77zM493.3 194.9h10.77v1.0h-10.77zM514.9 158.9h10.77v2.0h-10.77zM514.9 191.9h10.77v1.0h-10.77zM536.4 193.9h10.77v2.0h-10.77zM547.2 151.9h10.77v2.0h-10.77zM547.2 252.9h10.77v1.0h-10.77zM547.2 367.9h10.77v2.0h-10.77zM568.7 78.9h10.77v1.0h-10.77zM568.7 89.9h10.77v1.0h-10.77zM568.7 335.9h10.77v2.0h-10.77zM568.7 383.9h10.77v1.0h-10.77zM579.5 113.9h10.77v1.0h-10.77zM579.5 127.9h10.77v2.0h-10.77zM601.0 213.9h10.77v1.0h-10.77zM601.0 290.9h10.77v1.0h-10.77zM611.8 277.9h10.77v1.0h-10.77zM611.8 319.9h10.77v1.0h-10.77zM622.5 229.9h10.77v1.0h-10.77zM622.5 254.9h10.77v1.0h-10.77zM622.5 378.9h10.77v1.0h-10.77zM633.3 198.9h10.77v2.0h-10.77zM633.3 286.9h10.77v1.0h-10.77zM633.3 305.9h10.77v1.0h-10.77zM644.1 180.9h10.77v1.0h-10.77zM644.1 321.9h10.77v1.0h-10.77zM644.1 341.9h10.77v1.0h-10.77zM654.8 219.9h10.77v1.0h-10.77zM654.8 372.9h10.77v2.0h-10.77z"/><path fill="#f3f0d9" d="M471.8 359.9h10.77v1.0h-10.77zM482.6 303.9h10.77v1.0h-10.77zM482.6 315.9h10.77v1.0h-10.77zM493.3 128.9h10.77v1.0h-10.77zM493.3 278.9h10.77v2.0h-10.77zM514.9 221.9h10.77v1.0h-10.77zM514.9 286.9h10.77v2.0h-10.77zM525.6 246.9h10.77v1.0h-10.77zM536.4 173.9h10.77v2.0h-10.77zM536.4 376.9h10.77v1.0h-10.77zM568.7 131.9h10.77v1.0h-10.77zM579.5 115.9h10.77v1.0h-10.77zM590.2 98.9h10.77v2.0h-10.77zM590.2 174.9h10.77v1.0h-10.77zM611.8 180.9h10.77v1.0h-10.77zM611.8 274.9h10.77v2.0h-10.77zM622.5 187.9h10.77v1.0h-10.77zM633.3 95.9h10.77v1.0h-10.77zM633.3 342.9h10.77v1.0h-10.77zM633.3 364.9h10.77v1.0h-10.77zM644.1 148.9h10.77v2.0h-10.77zM654.8 220.9h10.77v1.0h-10.77zM654.8 222.9h10.77v1.0h-10.77z"/><path fill="#f3edd3" d="M471.8 105.9h10.77v1.0h-10.77zM471.8 179.9h10.77v1.0h-10.77zM471.8 357.9h10.77v2.0h-10.77zM482.6 370.9h10.77v1.0h-10.77zM514.9 302.9h10.77v2.0h-10.77zM525.6 158.9h10.77v1.0h-10.77zM525.6 188.9h10.77v2.0h-10.77zM536.4 296.9h10.77v1.0h-10.77zM547.2 87.9h10.77v2.0h-10.77zM557.9 232.9h10.77v2.0h-10.77zM557.9 378.9h10.77v1.0h-10.77zM568.7 382.9h10.77v1.0h-10.77zM579.5 270.9h10.77v1.0h-10.77zM611.8 272.9h10.77v1.0h-10.77zM622.5 167.9h10.77v1.0h-10.77zM622.5 322.9h10.77v1.0h-10.77zM633.3 88.9h10.77v1.0h-10.77zM633.3 250.9h10.77v1.0h-10.77zM633.3 357.9h10.77v2.0h-10.77zM644.1 197.9h10.77v1.0h-10.77zM654.8 202.9h10.77v2.0h-10.77z"/><path fill="#f2eacd" d="M471.8 102.9h10.77v1.0h-10.77zM493.3 139.9h10.77v1.0h-10.77zM493.3 151.9h10.77v2.0h-10.77zM504.1 198.9h10.77v1.0h-10.77zM525.6 116.9h10.77v1.0h-10.77zM525.6 308.9h10.77v2.0h-10.77zM536.4 171.9h10.77v2.0h-10.77zM536.4 203.9h10.77v1.0h-10.77zM547.2 208.9h10.77v1.0h-10.77zM568.7 205.9h10.77v2.0h-10.77zM579.5 161.9h10.77v2.0h-10.77zM579.5 229.9h10.77v1.0h-10.77zM601.0 241.9h10.77v1.0h-10.77zM622.5 289.9h10.77v1.0h-10.77zM622.5 307.9h10.77v1.0h-10.77zM633.3 209.9h10.77v1.0h-10.77zM644.1 309.9h10.77v1.0h-10.77zM654.8 102.9h10.77v2.0h-10.77zM654.8 226.9h10.77v1.0h-10.77z"/><path fill="#f2e7c7" d="M471.8 124.9h10.77v1.0h-10.77zM482.6 76.9h10.77v1.0h-10.77zM482.6 302.9h10.77v1.0h-10.77zM482.6 347.9h10.77v2.0h-10.77zM482.6 369.9h10.77v1.0h-10.77zM493.3 193.9h10.77v1.0h-10.77zM525.6 166.9h10.77v2.0h-10.77zM547.2 140.9h10.77v1.0h-10.77zM557.9 361.9h10.77v2.0h-10.77zM590.2 187.9h10.77v2.0h-10.77zM601.0 98.9h10.77v2.0h-10.77zM601.0 221.9h10.77v1.0h-10.77zM611.8 218.9h10.77v1.0h-10.77zM611.8 332.9h10.77v2.0h-10.77zM644.1 337.9h10.77v1.0h-10.77z"/><path fill="#f2e5c1" d="M471.8 98.9h10.77v1.0h-10.77zM471.8 228.9h10.77v2.0h-10.77zM482.6 160.9h10.77v2.0h-10.77zM482.6 195.9h10.77v1.0h-10.77zM525.6 347.9h10.77v1.0h-10.77zM525.6 354.9h10.77v1.0h-10.77zM536.4 154.9h10.77v2.0h-10.77zM568.7 200.9h10.77v2.0h-10.77zM579.5 97.9h10.77v1.0h-10.77zM590.2 228.9h10.77v1.0h-10.77zM601.0 169.9h10.77v2.0h-10.77zM601.0 346.9h10.77v2.0h-10.77zM601.0 372.9h10.77v1.0h-10.77zM611.8 103.9h10.77v2.0h-10.77zM622.5 210.9h10.77v1.0h-10.77zM622.5 224.9h10.77v1.0h-10.77zM622.5 321.9h10.77v1.0h-10.77zM622.5 376.9h10.77v1.0h-10.77zM633.3 240.9h10.77v2.0h-10.77zM644.1 89.9h10.77v1.0h-10.77zM644.1 155.9h10.77v2.0h-10.77zM654.8 313.9h10.77v1.0h-10.77zM654.8 318.9h10.77v1.0h-10.77z"/><path fill="#f1e2bc" d="M471.8 83.9h10.77v1.0h-10.77zM471.8 87.9h10.77v1.0h-10.77zM471.8 137.9h10.77v2.0h-10.77zM471.8 349.9h10.77v2.0h-10.77zM482.6 147.9h10.77v1.0h-10.77zM482.6 333.9h10.77v1.0h-10.77zM482.6 358.9h10.77v2.0h-10.77zM493.3 102.9h10.77v2.0h-10.77zM514.9 183.9h10.77v2.0h-10.77zM536.4 105.9h10.77v2.0h-10.77zM536.4 180.9h10.77v2.0h-10.77zM536.4 375.9h10.77v1.0h-10.77zM547.2 215.9h10.77v1.0h-10.77zM568.7 288.9h10.77v1.0h-10.77zM579.5 130.9h10.77v2.0h-10.77zM579.5 185.9h10.77v2.0h-10.77zM601.0 220.9h10.77v1.0h-10.77zM601.0 222.9h10.77v1.0h-10.77zM611.8 309.9h10.77v1.0h-10.77zM611.8 313.9h10.77v1.0h-10.77zM622.5 182.9h10.77v1.0h-10.77zM622.5 369.9h10.77v1.0h-10.77zM633.3 150.9h10.77v2.0h-10.77zM633.3 235.9h10.77v2.0h-10.77zM633.3 260.9h10.77v2.0h-10.77zM644.1 344.9h10.77v2.0h-10.77z"/><path fill="#f1dfb6" d="M471.8 92.9h10.77v1.0h-10.77zM482.6 191.9h10.77v1.0h-10.77zM493.3 134.9h10.77v1.0h-10.77zM493.3 174.9h10.77v1.0h-10.77zM493.3 251.9h10.77v2.0h-10.77zM504.1 127.9h10.77v1.0h-10.77zM504.1 149.9h10.77v2.0h-10.77zM504.1 349.9h10.77v2.0h-10.77zM525.6 196.9h10.77v1.0h-10.77zM525.6 373.9h10.77v1.0h-10.77zM536.4 202.9h10.77v1.0h-10.77zM547.2 192.9h10.77v1.0h-10.77zM547.2 211.9h10.77v2.0h-10.77zM590.2 103.9h10.77v1.0h-10.77zM622.5 121.9h10.77v2.0h-10.77zM622.5 125.9h10.77v1.0h-10.77zM622.5 223.9h10.77v1.0h-10.77zM633.3 330.9h10.77v1.0h-10.77zM644.1 80.9h10.77v2.0h-10.77z"/><path fill="#f1dcb0" d="M471.8 73.9h10.77v1.0h-10.77zM471.8 91.9h10.77v1.0h-10.77zM482.6 200.9h10.77v1.0h-10.77zM493.3 222.9h10.77v1.0h-10.77zM493.3 326.9h10.77v1.0h-10.77zM504.1 202.9h10.77v2.0h-10.77zM504.1 269.9h10.77v1.0h-10.77zM504.1 381.9h10.77v1.0h-10.77zM547.2 213.9h10.77v1.0h-10.77zM547.2 378.9h10.77v1.0h-10.77zM568.7 148.9h10.77v1.0h-10.77zM590.2 84.9h10.77v1.0h-10.77zM590.2 171.9h10.77v1.0h-10.77zM611.8 85.9h10.77v1.0h-10.77zM611.8 93.9h10.77v1.0h-10.77zM611.8 314.9h10.77v1.0h-10.77zM644.1 264.9h10.77v2.0h-10.77zM654.8 147.9h10.77v1.0h-10.77z"/><path fill="#f1daaa" d="M471.8 86.9h10.77v1.0h-10.77zM471.8 103.9h10.77v2.0h-10.77zM471.8 123.9h10.77v1.0h-10.77zM482.6 297.9h10.77v2.0h-10.77zM493.3 208.9h10.77v1.0h-10.77zM504.1 297.9h10.77v1.0h-10.77zM504.1 330.9h10.77v2.0h-10.77zM514.9 351.9h10.77v2.0h-10.77zM525.6 337.9h10.77v2.0h-10.77zM536.4 315.9h10.77v2.0h-10.77zM579.5 367.9h10.77v1.0h-10.77zM590.2 107.9h10.77v1.0h-10.77zM590.2 239.9h10.77v2.0h-10.77zM601.0 94.9h10.77v1.0h-10.77zM611.8 248.9h10.77v1.0h-10.77zM611.8 250.9h10.77v1.0h-10.77zM611.8 254.9h10.77v1.0h-10.77zM611.8 374.9h10.77v1.0h-10.77zM633.3 163.9h10.77v1.0h-10.77zM644.1 140.9h10.77v2.0h-10.77zM654.8 254.9h10.77v1.0h-10.77zM654.8 314.9h10.77v2.0h-10.77zM654.8 319.9h10.77v1.0h-10.77z"/><path fill="#f0d7a4" d="M482.6 86.9h10.77v1.0h-10.77zM482.6 196.9h10.77v1.0h-10.77zM482.6 199.9h10.77v1.0h-10.77zM482.6 373.9h10.77v1.0h-10.77zM493.3 201.9h10.77v2.0h-10.77zM504.1 129.9h10.77v1.0h-10.77zM504.1 255.9h10.77v1.0h-10.77zM525.6 183.9h10.77v1.0h-10.77zM536.4 87.9h10.77v1.0h-10.77zM536.4 137.9h10.77v2.0h-10.77zM536.4 275.9h10.77v2.0h-10.77zM536.4 339.9h10.77v1.0h-10.77zM568.7 153.9h10.77v2.0h-10.77zM568.7 224.9h10.77v2.0h-10.77zM579.5 272.9h10.77v2.0h-10.77zM579.5 359.9h10.77v1.0h-10.77zM590.2 81.9h10.77v1.0h-10.77zM590.2 83.9h10.77v1.0h-10.77zM590.2 100.9h10.77v1.0h-10.77zM590.2 105.9h10.77v1.0h-10.77zM601.0 125.9h10.77v2.0h-10.77zM611.8 251.9h10.77v1.0h-10.77zM611.8 318.9h10.77v1.0h-10.77zM611.8 382.9h10.77v1.0h-10.77zM644.1 160.9h10.77v1.0h-10.77zM654.8 148.9h10.77v1.0h-10.77z"/><path fill="#f0d49e" d="M482.6 193.9h10.77v1.0h-10.77zM493.3 211.9h10.77v1.0h-10.77zM493.3 289.9h10.77v1.0h-10.77zM493.3 292.9h10.77v1.0h-10.77zM514.9 355.9h10.77v1.0h-10.77zM536.4 344.9h10.77v2.0h-10.77zM547.2 214.9h10.77v1.0h-10.77zM547.2 219.9h10.77v1.0h-10.77zM547.2 221.9h10.77v1.0h-10.77zM547.2 236.9h10.77v1.0h-10.77zM557.9 102.9h10.77v1.0h-10.77zM568.7 348.9h10.77v2.0h-10.77zM579.5 268.9h10.77v2.0h-10.77zM579.5 327.9h10.77v1.0h-10.77zM590.2 101.9h10.77v2.0h-10.77zM611.8 247.9h10.77v1.0h-10.77zM611.8 252.9h10.77v1.0h-10.77zM611.8 308.9h10.77v1.0h-10.77zM611.8 310.9h10.77v1.0h-10.77zM611.8 320.9h10.77v1.0h-10.77zM633.3 158.9h10.77v1.0h-10.77zM644.1 139.9h10.77v1.0h-10.77zM644.1 372.9h10.77v2.0h-10.77zM654.8 141.9h10.77v1.0h-10.77zM654.8 322.9h10.77v1.0h-10.77z"/><path fill="#f0ce98" d="M471.8 81.9h10.77v1.0h-10.77zM482.6 194.9h10.77v1.0h-10.77zM482.6 210.9h10.77v1.0h-10.77zM536.4 84.9h10.77v1.0h-10.77zM536.4 86.9h10.77v1.0h-10.77zM536.4 215.9h10.77v2.0h-10.77zM547.2 210.9h10.77v1.0h-10.77zM547.2 216.9h10.77v2.0h-10.77zM547.2 220.9h10.77v1.0h-10.77zM547.2 223.9h10.77v1.0h-10.77zM579.5 299.9h10.77v1.0h-10.77zM611.8 245.9h10.77v1.0h-10.77zM611.8 312.9h10.77v1.0h-10.77zM611.8 315.9h10.77v2.0h-10.77z"/><path fill="#f0c992" d="M471.8 99.9h10.77v1.0h-10.77zM471.8 125.9h10.77v1.0h-10.77zM482.6 197.9h10.77v1.0h-10.77zM493.3 290.9h10.77v1.0h-10.77zM525.6 314.9h10.77v2.0h-10.77zM547.2 116.9h10.77v1.0h-10.77zM557.9 103.9h10.77v1.0h-10.77zM579.5 337.9h10.77v1.0h-10.77zM590.2 89.9h10.77v1.0h-10.77zM601.0 172.9h10.77v1.0h-10.77zM611.8 198.9h10.77v1.0h-10.77zM611.8 243.9h10.77v1.0h-10.77zM611.8 255.9h10.77v1.0h-10.77zM611.8 266.9h10.77v1.0h-10.77zM622.5 340.9h10.77v1.0h-10.77zM654.8 317.9h10.77v1.0h-10.77z"/><path fill="#f0c38c" d="M471.8 239.9h10.77v1.0h-10.77zM482.6 128.9h10.77v2.0h-10.77zM482.6 192.9h10.77v1.0h-10.77zM482.6 208.9h10.77v1.0h-10.77zM493.3 288.9h10.77v1.0h-10.77zM514.9 354.9h10.77v1.0h-10.77zM525.6 300.9h10.77v1.0h-10.77zM536.4 90.9h10.77v1.0h-10.77zM536.4 347.9h10.77v1.0h-10.77zM547.2 222.9h10.77v1.0h-10.77zM557.9 91.9h10.77v1.0h-10.77zM557.9 117.9h10.77v1.0h-10.77zM568.7 293.9h10.77v2.0h-10.77zM590.2 88.9h10.77v1.0h-10.77zM590.2 108.9h10.77v1.0h-10.77zM611.8 225.9h10.77v1.0h-10.77zM611.8 244.9h10.77v1.0h-10.77zM611.8 246.9h10.77v1.0h-10.77zM611.8 317.9h10.77v1.0h-10.77zM644.1 127.9h10.77v1.0h-10.77zM654.8 146.9h10.77v1.0h-10.77zM654.8 149.9h10.77v1.0h-10.77zM654.8 321.9h10.77v1.0h-10.77z"/><path fill="#f0bd86" d="M482.6 190.9h10.77v1.0h-10.77zM493.3 195.9h10.77v1.0h-10.77zM493.3 286.9h10.77v1.0h-10.77zM525.6 365.9h10.77v1.0h-10.77zM536.4 85.9h10.77v1.0h-10.77zM536.4 373.9h10.77v1.0h-10.77zM547.2 218.9h10.77v1.0h-10.77zM547.2 225.9h10.77v2.0h-10.77zM557.9 92.9h10.77v1.0h-10.77zM557.9 101.9h10.77v1.0h-10.77zM557.9 104.9h10.77v2.0h-10.77zM568.7 279.9h10.77v1.0h-10.77zM579.5 194.9h10.77v1.0h-10.77zM579.5 340.9h10.77v1.0h-10.77zM601.0 176.9h10.77v1.0h-10.77zM611.8 267.9h10.77v1.0h-10.77zM611.8 307.9h10.77v1.0h-10.77zM622.5 341.9h10.77v1.0h-10.77zM633.3 162.9h10.77v1.0h-10.77zM633.3 164.9h10.77v1.0h-10.77zM654.8 312.9h10.77v1.0h-10.77z"/><path fill="#f0b780" d="M471.8 82.9h10.77v1.0h-10.77zM471.8 242.9h10.77v1.0h-10.77zM493.3 196.9h10.77v1.0h-10.77zM493.3 209.9h10.77v1.0h-10.77zM525.6 91.9h10.77v2.0h-10.77zM525.6 364.9h10.77v1.0h-10.77zM547.2 224.9h10.77v1.0h-10.77zM557.9 119.9h10.77v1.0h-10.77zM568.7 274.9h10.77v1.0h-10.77zM579.5 193.9h10.77v1.0h-10.77zM590.2 80.9h10.77v1.0h-10.77zM611.8 199.9h10.77v1.0h-10.77zM611.8 269.9h10.77v1.0h-10.77zM611.8 311.9h10.77v1.0h-10.77zM633.3 154.9h10.77v1.0h-10.77zM654.8 140.9h10.77v1.0h-10.77zM654.8 144.9h10.77v1.0h-10.77z"/><path fill="#f0b27b" d="M482.6 207.9h10.77v1.0h-10.77zM482.6 212.9h10.77v1.0h-10.77zM525.6 366.9h10.77v1.0h-10.77zM547.2 209.9h10.77v1.0h-10.77zM568.7 273.9h10.77v1.0h-10.77zM579.5 325.9h10.77v2.0h-10.77zM590.2 106.9h10.77v1.0h-10.77zM611.8 226.9h10.77v1.0h-10.77zM611.8 265.9h10.77v1.0h-10.77zM611.8 268.9h10.77v1.0h-10.77zM611.8 271.9h10.77v1.0h-10.77zM633.3 157.9h10.77v1.0h-10.77zM633.3 160.9h10.77v1.0h-10.77zM644.1 124.9h10.77v1.0h-10.77zM644.1 137.9h10.77v1.0h-10.77zM654.8 142.9h10.77v1.0h-10.77zM654.8 311.9h10.77v1.0h-10.77zM654.8 320.9h10.77v1.0h-10.77z"/><path fill="#f0ac75" d="M482.6 211.9h10.77v1.0h-10.77zM493.3 287.9h10.77v1.0h-10.77zM525.6 143.9h10.77v1.0h-10.77zM547.2 117.9h10.77v2.0h-10.77zM579.5 324.9h10.77v1.0h-10.77zM590.2 86.9h10.77v1.0h-10.77zM611.8 221.9h10.77v1.0h-10.77zM611.8 249.9h10.77v1.0h-10.77zM633.3 147.9h10.77v2.0h-10.77zM633.3 153.9h10.77v1.0h-10.77zM633.3 155.9h10.77v1.0h-10.77zM654.8 316.9h10.77v1.0h-10.77z"/><path fill="#f0a66f" d="M471.8 241.9h10.77v1.0h-10.77zM493.3 210.9h10.77v1.0h-10.77zM493.3 299.9h10.77v1.0h-10.77zM536.4 107.9h10.77v1.0h-10.77zM547.2 238.9h10.77v1.0h-10.77zM557.9 114.9h10.77v1.0h-10.77zM568.7 276.9h10.77v1.0h-10.77zM568.7 278.9h10.77v1.0h-10.77zM579.5 192.9h10.77v1.0h-10.77zM590.2 82.9h10.77v1.0h-10.77zM590.2 87.9h10.77v1.0h-10.77zM590.2 104.9h10.77v1.0h-10.77zM601.0 173.9h10.77v1.0h-10.77zM601.0 175.9h10.77v1.0h-10.77zM611.8 223.9h10.77v2.0h-10.77zM622.5 342.9h10.77v1.0h-10.77zM633.3 144.9h10.77v1.0h-10.77zM654.8 139.9h10.77v1.0h-10.77zM654.8 145.9h10.77v1.0h-10.77z"/><path fill="#f0a169" d="M471.8 74.9h10.77v1.0h-10.77zM471.8 244.9h10.77v1.0h-10.77zM482.6 198.9h10.77v1.0h-10.77zM493.3 300.9h10.77v1.0h-10.77zM525.6 362.9h10.77v1.0h-10.77zM579.5 338.9h10.77v1.0h-10.77zM611.8 122.9h10.77v1.0h-10.77zM611.8 196.9h10.77v1.0h-10.77zM611.8 270.9h10.77v1.0h-10.77zM644.1 123.9h10.77v1.0h-10.77zM644.1 136.9h10.77v1.0h-10.77zM654.8 143.9h10.77v1.0h-10.77z"/><path fill="#f09b63" d="M471.8 243.9h10.77v1.0h-10.77zM493.3 285.9h10.77v1.0h-10.77zM493.3 301.9h10.77v1.0h-10.77zM536.4 372.9h10.77v1.0h-10.77zM547.2 237.9h10.77v1.0h-10.77zM568.7 272.9h10.77v1.0h-10.77zM568.7 275.9h10.77v1.0h-10.77zM568.7 277.9h10.77v1.0h-10.77zM579.5 339.9h10.77v1.0h-10.77zM601.0 174.9h10.77v1.0h-10.77zM611.8 197.9h10.77v1.0h-10.77zM611.8 222.9h10.77v1.0h-10.77zM633.3 76.9h10.77v1.0h-10.77zM633.3 149.9h10.77v1.0h-10.77z"/><path fill="#ef935d" d="M471.8 238.9h10.77v1.0h-10.77zM471.8 240.9h10.77v1.0h-10.77zM493.3 291.9h10.77v1.0h-10.77zM525.6 363.9h10.77v1.0h-10.77zM536.4 108.9h10.77v1.0h-10.77zM547.2 115.9h10.77v1.0h-10.77zM611.8 121.9h10.77v1.0h-10.77zM633.3 75.9h10.77v1.0h-10.77zM633.3 145.9h10.77v1.0h-10.77zM633.3 161.9h10.77v1.0h-10.77z"/><path fill="#ed8958" d="M547.2 114.9h10.77v1.0h-10.77zM557.9 116.9h10.77v1.0h-10.77zM590.2 85.9h10.77v1.0h-10.77zM611.8 253.9h10.77v1.0h-10.77zM644.1 126.9h10.77v1.0h-10.77z"/><path fill="#ea7f53" d="M482.6 209.9h10.77v1.0h-10.77zM493.3 227.9h10.77v1.0h-10.77zM525.6 120.9h10.77v1.0h-10.77zM557.9 97.9h10.77v1.0h-10.77zM557.9 115.9h10.77v1.0h-10.77zM557.9 118.9h10.77v1.0h-10.77zM633.3 156.9h10.77v1.0h-10.77zM633.3 159.9h10.77v1.0h-10.77zM644.1 125.9h10.77v1.0h-10.77z"/><path fill="#e8754e" d="M493.3 197.9h10.77v1.0h-10.77zM536.4 371.9h10.77v1.0h-10.77zM547.2 325.9h10.77v2.0h-10.77zM644.1 128.9h10.77v1.0h-10.77zM644.1 138.9h10.77v1.0h-10.77z"/><path fill="#e66b49" d="M514.9 353.9h10.77v1.0h-10.77zM547.2 323.9h10.77v1.0h-10.77zM557.9 98.9h10.77v2.0h-10.77zM633.3 146.9h10.77v1.0h-10.77z"/><path fill="#e36244" d="M504.1 183.9h10.77v1.0h-10.77zM525.6 369.9h10.77v1.0h-10.77zM547.2 324.9h10.77v1.0h-10.77zM557.9 100.9h10.77v1.0h-10.77zM601.0 178.9h10.77v1.0h-10.77zM644.1 134.9h10.77v1.0h-10.77zM654.8 381.9h10.77v1.0h-10.77z"/><path fill="#e1583f" d="M568.7 284.9h10.77v1.0h-10.77zM590.2 76.9h10.77v1.0h-10.77zM601.0 179.9h10.77v1.0h-10.77zM633.3 165.9h10.77v1.0h-10.77z"/><path fill="#df4e39" d="M471.8 301.9h10.77v1.0h-10.77zM482.6 206.9h10.77v1.0h-10.77zM493.3 294.9h10.77v1.0h-10.77zM504.1 184.9h10.77v3.0h-10.77zM611.8 258.9h10.77v1.0h-10.77zM611.8 260.9h10.77v1.0h-10.77zM622.5 343.9h10.77v1.0h-10.77zM633.3 170.9h10.77v1.0h-10.77z"/><path fill="#dd4434" d="M471.8 302.9h10.77v3.0h-10.77zM482.6 201.9h10.77v1.0h-10.77zM482.6 204.9h10.77v1.0h-10.77zM493.3 298.9h10.77v1.0h-10.77zM504.1 187.9h10.77v2.0h-10.77zM514.9 356.9h10.77v1.0h-10.77zM514.9 360.9h10.77v1.0h-10.77zM525.6 368.9h10.77v1.0h-10.77zM547.2 228.9h10.77v1.0h-10.77zM547.2 230.9h10.77v1.0h-10.77zM557.9 94.9h10.77v1.0h-10.77zM579.5 328.9h10.77v1.0h-10.77zM579.5 331.9h10.77v1.0h-10.77zM590.2 74.9h10.77v2.0h-10.77zM590.2 78.9h10.77v1.0h-10.77zM601.0 180.9h10.77v1.0h-10.77zM611.8 262.9h10.77v1.0h-10.77zM622.5 346.9h10.77v1.0h-10.77zM622.5 348.9h10.77v1.0h-10.77zM633.3 168.9h10.77v1.0h-10.77zM644.1 131.9h10.77v1.0h-10.77zM654.8 377.9h10.77v3.0h-10.77zM654.8 383.9h10.77v1.0h-10.77z"/><path fill="#da3a2f" d="M482.6 205.9h10.77v1.0h-10.77zM493.3 297.9h10.77v1.0h-10.77zM525.6 367.9h10.77v1.0h-10.77zM536.4 112.9h10.77v2.0h-10.77zM547.2 227.9h10.77v1.0h-10.77zM547.2 229.9h10.77v1.0h-10.77zM547.2 231.9h10.77v2.0h-10.77zM547.2 235.9h10.77v1.0h-10.77zM557.9 93.9h10.77v1.0h-10.77zM557.9 95.9h10.77v2.0h-10.77zM568.7 282.9h10.77v1.0h-10.77zM568.7 286.9h10.77v1.0h-10.77zM579.5 330.9h10.77v1.0h-10.77zM579.5 335.9h10.77v1.0h-10.77zM590.2 73.9h10.77v1.0h-10.77zM590.2 77.9h10.77v1.0h-10.77zM611.8 264.9h10.77v1.0h-10.77zM622.5 345.9h10.77v1.0h-10.77zM622.5 347.9h10.77v1.0h-10.77zM622.5 350.9h10.77v1.0h-10.77zM633.3 166.9h10.77v2.0h-10.77zM644.1 129.9h10.77v1.0h-10.77zM644.1 132.9h10.77v2.0h-10.77zM654.8 374.9h10.77v1.0h-10.77zM654.8 380.9h10.77v1.0h-10.77z"/><path fill="#d8302a" d="M482.6 202.9h10.77v2.0h-10.77zM493.3 293.9h10.77v1.0h-10.77zM493.3 295.9h10.77v2.0h-10.77zM514.9 357.9h10.77v3.0h-10.77zM536.4 109.9h10.77v3.0h-10.77zM547.2 233.9h10.77v2.0h-10.77zM568.7 280.9h10.77v2.0h-10.77zM568.7 283.9h10.77v1.0h-10.77zM568.7 285.9h10.77v1.0h-10.77zM579.5 329.9h10.77v1.0h-10.77zM579.5 332.9h10.77v3.0h-10.77zM579.5 336.9h10.77v1.0h-10.77zM590.2 79.9h10.77v1.0h-10.77zM601.0 177.9h10.77v1.0h-10.77zM611.8 259.9h10.77v1.0h-10.77zM611.8 261.9h10.77v1.0h-10.77zM611.8 263.9h10.77v1.0h-10.77zM622.5 344.9h10.77v1.0h-10.77zM622.5 349.9h10.77v1.0h-10.77zM633.3 169.9h10.77v1.0h-10.77zM644.1 130.9h10.77v1.0h-10.77zM644.1 135.9h10.77v1.0h-10.77zM654.8 375.9h10.77v2.0h-10.77zM654.8 382.9h10.77v1.0h-10.77z"/><rect x="471.80" y="66.6" width="32.30" height="5.7" fill="#8fd4f4"/><rect x="504.10" y="66.6" width="32.30" height="5.7" fill="#e89a62"/><rect x="536.40" y="66.6" width="32.30" height="5.7" fill="#8cc63f"/><rect x="568.70" y="66.6" width="32.30" height="5.7" fill="#8054a8"/><rect x="601.00" y="66.6" width="32.30" height="5.7" fill="#efac42"/><rect x="633.30" y="66.6" width="32.30" height="5.7" fill="#3a82c0"/><text x="472.42" y="62.70" font-size="9.40" font-family="Liberation Sans" fill="#111" >Control</text><text x="509.09" y="62.70" font-size="9.86" font-family="Liberation Sans" fill="#111" >IUA</text><text x="535.65" y="62.80" font-size="9.42" font-family="Liberation Sans" fill="#111" >OD-1w</text><text x="569.25" y="62.00" font-size="9.52" font-family="Liberation Sans" fill="#111" >OD-2w</text><text x="602.15" y="63.20" font-size="9.52" font-family="Liberation Sans" fill="#111" >OD-3w</text><text x="633.65" y="62.80" font-size="9.46" font-family="Liberation Sans" fill="#111" >OD-4w</text><rect x="473.8" y="388.3" width="29.4" height="1.6" fill="#5bbcec"/><rect x="505.9" y="388.3" width="29.4" height="1.6" fill="#f0984a"/><rect x="537.3" y="388.1" width="29.2" height="1.6" fill="#5a9a3c"/><rect x="570.0" y="388.1" width="29.2" height="1.6" fill="#7a48c0"/><rect x="602.3" y="388.3" width="29.5" height="1.6" fill="#f4b08a"/><rect x="636.0" y="388.9" width="28.9" height="1.6" fill="#3a78c8"/><text transform="translate(490.00,397.00) rotate(-35)" font-size="10.0" text-anchor="end" font-family="Liberation Sans" fill="#111">A1-A3</text><text transform="translate(525.60,396.80) rotate(-35)" font-size="10.0" text-anchor="end" font-family="Liberation Sans" fill="#111">B1-B3</text><text transform="translate(554.80,396.30) rotate(-35)" font-size="10.0" text-anchor="end" font-family="Liberation Sans" fill="#111">C1-C3</text><text transform="translate(588.50,398.00) rotate(-35)" font-size="10.0" text-anchor="end" font-family="Liberation Sans" fill="#111">D1-D3</text><text transform="translate(623.60,398.00) rotate(-35)" font-size="10.0" text-anchor="end" font-family="Liberation Sans" fill="#111">E1-E3</text><text transform="translate(655.70,398.00) rotate(-35)" font-size="10.0" text-anchor="end" font-family="Liberation Sans" fill="#111">F1-F3</text><rect x="668.8" y="73.9" width="5.6" height="91.4" fill="url(#hl)"/><text x="667.57" y="72.30" font-size="5.69" font-weight="bold" font-family="Liberation Sans" fill="#111" >Group</text><text x="675.6" y="76.0" font-size="6.0" font-family="Liberation Sans" fill="#111">4</text><text x="675.6" y="98.8" font-size="6.0" font-family="Liberation Sans" fill="#111">2</text><text x="675.6" y="121.6" font-size="6.0" font-family="Liberation Sans" fill="#111">0</text><text x="675.6" y="144.4" font-size="6.0" font-family="Liberation Sans" fill="#111">-2</text><text x="675.6" y="167.2" font-size="6.0" font-family="Liberation Sans" fill="#111">-4</text><path fill="none" stroke="#000" stroke-width="0.55" d="M458.0 74.8H449.6V75.1H458.0M458.0 74.6H445.9V75.0H449.6M458.0 75.3H450.6V75.6H458.0M458.0 76.1H450.7V76.4H458.0M458.0 75.9H448.8V76.3H450.7M450.6 75.5H447.5V76.1H448.8M458.0 76.9H451.7V77.2H458.0M458.0 76.7H450.8V77.0H451.7M458.0 77.7H450.4V78.0H458.0M458.0 77.4H448.7V77.8H450.4M458.0 78.7H452.8V79.0H458.0M458.0 78.5H449.3V78.9H452.8M458.0 78.2H448.3V78.7H449.3M448.7 77.6H446.7V78.4H448.3M450.8 76.8H446.1V78.0H446.7M447.5 75.8H445.8V77.4H446.1M445.9 74.8H444.8V76.6H445.8M458.0 74.3H442.0V75.7H444.8M458.0 79.8H450.6V80.1H458.0M458.0 80.4H451.2V80.6H458.0M458.0 80.9H453.0V81.2H458.0M458.0 81.5H452.1V81.7H458.0M458.0 82.0H451.7V82.3H458.0M452.1 81.6H449.7V82.2H451.7M453.0 81.0H449.4V81.9H449.7M451.2 80.5H447.0V81.5H449.4M458.0 82.8H452.2V83.1H458.0M458.0 82.6H451.0V83.0H452.2M458.0 84.0H453.9V84.2H458.0M458.0 83.7H452.1V84.1H453.9M458.0 83.4H451.7V83.9H452.1M458.0 85.1H453.5V85.3H458.0M458.0 84.8H452.2V85.2H453.5M458.0 84.5H451.7V85.0H452.2M451.7 83.6H450.1V84.7H451.7M451.0 82.8H449.3V84.2H450.1M458.0 86.2H452.5V86.4H458.0M458.0 85.9H450.4V86.3H452.5M458.0 85.6H449.0V86.1H450.4M449.3 83.5H448.2V85.9H449.0M458.0 86.7H450.8V87.0H458.0M458.0 87.8H454.5V88.1H458.0M458.0 87.5H451.9V88.0H454.5M458.0 87.3H451.1V87.8H451.9M458.0 88.4H453.0V88.7H458.0M458.0 89.2H454.7V89.5H458.0M458.0 88.9H452.8V89.3H454.7M453.0 88.5H451.7V89.1H452.8M458.0 90.0H452.9V90.3H458.0M458.0 91.1H454.1V91.4H458.0M458.0 90.9H452.8V91.3H454.1M458.0 90.6H451.7V91.1H452.8M452.9 90.2H451.5V90.8H451.7M458.0 92.0H453.2V92.2H458.0M458.0 92.5H453.8V92.8H458.0M458.0 93.4H453.8V93.6H458.0M458.0 93.1H453.1V93.5H453.8M453.8 92.7H452.4V93.3H453.1M453.2 92.1H452.1V93.0H452.4M458.0 91.7H451.4V92.5H452.1M451.5 90.5H450.7V92.1H451.4M458.0 89.8H450.3V91.3H450.7M451.7 88.8H449.5V90.5H450.3M451.1 87.5H448.1V89.7H449.5M450.8 86.9H447.1V88.6H448.1M448.2 84.7H446.6V87.7H447.1M447.0 81.0H446.5V86.2H446.6M458.0 94.2H453.8V94.5H458.0M458.0 93.9H451.0V94.3H453.8M458.0 95.6H452.1V95.8H458.0M458.0 95.3H451.2V95.7H452.1M458.0 95.0H448.6V95.5H451.2M458.0 94.7H447.4V95.3H448.6M451.0 94.1H446.4V95.0H447.4M446.5 83.6H445.6V94.6H446.4M450.6 79.9H443.4V89.1H445.6M458.0 96.1H443.0V96.4H458.0M443.4 84.5H442.6V96.3H443.0M458.0 98.0H450.1V98.3H458.0M458.0 98.9H450.2V99.1H458.0M458.0 98.6H449.1V99.0H450.2M450.1 98.2H446.5V98.8H449.1M458.0 100.0H454.3V100.2H458.0M458.0 99.7H451.8V100.1H454.3M458.0 99.4H449.3V99.9H451.8M458.0 100.8H452.5V101.1H458.0M458.0 100.5H450.7V100.9H452.5M458.0 101.9H452.6V102.2H458.0M458.0 101.6H451.0V102.0H452.6M458.0 101.4H449.6V101.8H451.0M450.7 100.7H448.3V101.6H449.6M449.3 99.7H447.5V101.2H448.3M458.0 103.0H453.4V103.3H458.0M458.0 102.7H451.7V103.1H453.4M458.0 102.5H449.9V102.9H451.7M458.0 104.1H452.6V104.4H458.0M458.0 103.8H451.8V104.3H452.6M458.0 103.6H451.2V104.0H451.8M458.0 104.9H453.1V105.2H458.0M458.0 104.7H450.4V105.1H453.1M451.2 103.8H449.7V104.9H450.4M449.9 102.7H448.9V104.3H449.7M458.0 105.5H451.9V105.8H458.0M458.0 106.1H451.2V106.3H458.0M451.9 105.6H448.9V106.2H451.2M458.0 107.2H453.2V107.4H458.0M458.0 106.9H452.4V107.3H453.2M458.0 107.7H452.4V108.0H458.0M458.0 109.1H453.3V109.4H458.0M458.0 108.8H453.0V109.2H453.3M458.0 108.5H452.1V109.0H453.0M458.0 108.3H451.0V108.8H452.1M452.4 107.9H450.1V108.5H451.0M452.4 107.1H449.6V108.2H450.1M458.0 106.6H448.8V107.6H449.6M448.9 105.9H447.9V107.1H448.8M448.9 103.5H447.1V106.5H447.9M458.0 109.7H452.8V109.9H458.0M458.0 110.5H454.4V110.8H458.0M458.0 110.2H451.7V110.6H454.4M458.0 111.3H453.7V111.6H458.0M458.0 111.0H451.4V111.4H453.7M451.7 110.4H450.1V111.2H451.4M452.8 109.8H449.4V110.8H450.1M458.0 112.1H454.8V112.4H458.0M458.0 113.0H454.0V113.2H458.0M458.0 112.7H452.8V113.1H454.0M454.8 112.3H451.9V112.9H452.8M458.0 113.5H451.4V113.8H458.0M451.9 112.6H450.2V113.7H451.4M458.0 111.9H448.9V113.1H450.2M449.4 110.3H447.1V112.5H448.9M447.1 105.0H446.8V111.4H447.1M447.5 100.4H446.1V108.2H446.8M446.5 98.5H445.1V104.3H446.1M458.0 97.8H443.5V101.4H445.1M458.0 97.5H443.2V99.6H443.5M458.0 97.2H442.7V98.5H443.2M458.0 115.4H450.5V115.7H458.0M458.0 115.2H446.9V115.6H450.5M458.0 114.9H445.8V115.4H446.9M458.0 116.6H453.3V116.8H458.0M458.0 116.3H449.2V116.7H453.3M458.0 117.1H453.4V117.4H458.0M458.0 117.9H454.2V118.2H458.0M458.0 117.7H451.6V118.1H454.2M453.4 117.2H451.2V117.9H451.6M458.0 118.8H453.2V119.1H458.0M458.0 118.5H451.0V118.9H453.2M451.2 117.6H449.7V118.7H451.0M458.0 119.6H450.8V119.9H458.0M458.0 119.3H449.4V119.8H450.8M449.7 118.1H448.3V119.5H449.4M449.2 116.5H447.1V118.8H448.3M458.0 116.0H446.6V117.7H447.1M458.0 120.2H449.6V120.5H458.0M458.0 121.0H453.5V121.3H458.0M458.0 121.8H454.0V122.1H458.0M458.0 121.6H452.7V122.0H454.0M453.5 121.1H451.7V121.8H452.7M458.0 123.0H451.6V123.2H458.0M458.0 122.7H450.5V123.1H451.6M458.0 122.4H449.5V122.9H450.5M451.7 121.5H449.1V122.6H449.5M458.0 123.5H450.2V123.8H458.0M458.0 124.4H455.1V124.6H458.0M458.0 124.9H452.0V125.2H458.0M455.1 124.5H451.1V125.1H452.0M458.0 124.1H449.8V124.8H451.1M450.2 123.7H448.7V124.4H449.8M449.1 122.1H448.2V124.0H448.7M458.0 120.7H447.6V123.0H448.2M458.0 125.5H451.5V125.7H458.0M458.0 126.3H451.7V126.6H458.0M458.0 126.0H451.3V126.4H451.7M458.0 126.9H453.6V127.1H458.0M458.0 127.7H453.7V128.0H458.0M458.0 127.4H452.5V127.8H453.7M453.6 127.0H450.8V127.6H452.5M451.3 126.2H449.6V127.3H450.8M451.5 125.6H449.4V126.8H449.6M458.0 128.5H453.1V128.8H458.0M458.0 129.6H454.4V129.9H458.0M458.0 129.4H452.7V129.8H454.4M458.0 129.1H452.0V129.6H452.7M453.1 128.7H450.9V129.3H452.0M458.0 130.5H452.8V130.8H458.0M458.0 131.3H452.3V131.6H458.0M458.0 131.0H451.9V131.5H452.3M452.8 130.6H450.6V131.3H451.9M458.0 130.2H449.8V130.9H450.6M450.9 129.0H449.4V130.6H449.8M458.0 128.3H447.8V129.8H449.4M449.4 126.2H447.4V129.0H447.8M447.6 121.9H446.8V127.6H447.4M449.6 120.3H446.0V124.7H446.8M446.6 116.8H445.6V122.5H446.0M445.8 115.1H444.4V119.7H445.6M458.0 114.6H443.2V117.4H444.4M458.0 132.4H448.6V132.7H458.0M458.0 133.2H449.2V133.5H458.0M458.0 134.1H449.4V134.4H458.0M458.0 133.8H446.9V134.2H449.4M449.2 133.4H445.3V134.0H446.9M458.0 134.9H451.8V135.2H458.0M458.0 136.1H454.0V136.3H458.0M458.0 135.8H453.6V136.2H454.0M458.0 135.5H450.2V136.0H453.6M451.8 135.1H449.8V135.7H450.2M458.0 134.7H447.8V135.4H449.8M458.0 136.9H449.5V137.2H458.0M458.0 136.6H449.1V137.1H449.5M458.0 138.0H453.7V138.3H458.0M458.0 137.8H450.0V138.2H453.7M458.0 137.5H447.9V138.0H450.0M449.1 136.8H446.7V137.7H447.9M447.8 135.0H446.1V137.3H446.7M458.0 138.6H451.5V138.9H458.0M458.0 139.2H450.2V139.5H458.0M451.5 138.7H448.4V139.3H450.2M458.0 140.0H450.4V140.3H458.0M458.0 139.7H448.6V140.2H450.4M458.0 140.6H453.4V140.9H458.0M458.0 141.1H452.6V141.4H458.0M453.4 140.7H451.3V141.3H452.6M458.0 142.0H452.9V142.3H458.0M458.0 142.6H451.6V142.8H458.0M452.9 142.1H450.3V142.7H451.6M458.0 141.7H449.8V142.4H450.3M451.3 141.0H448.5V142.1H449.8M448.6 139.9H446.3V141.5H448.5M458.0 143.1H453.5V143.4H458.0M458.0 144.0H454.6V144.2H458.0M458.0 143.7H451.8V144.1H454.6M453.5 143.3H450.6V143.9H451.8M458.0 144.8H452.8V145.1H458.0M458.0 144.5H451.3V145.0H452.8M458.0 145.7H450.4V145.9H458.0M458.0 145.4H449.4V145.8H450.4M451.3 144.7H448.2V145.6H449.4M450.6 143.6H447.5V145.2H448.2M458.0 146.2H451.2V146.5H458.0M458.0 147.1H453.6V147.4H458.0M458.0 147.6H452.4V147.9H458.0M453.6 147.2H451.3V147.8H452.4M458.0 148.5H453.1V148.8H458.0M458.0 148.2H451.1V148.6H453.1M451.3 147.5H450.0V148.4H451.1M458.0 146.8H449.7V148.0H450.0M451.2 146.4H448.9V147.4H449.7M458.0 149.3H453.8V149.6H458.0M458.0 149.0H453.2V149.5H453.8M458.0 150.2H454.2V150.5H458.0M458.0 149.9H453.5V150.3H454.2M458.0 151.0H455.7V151.3H458.0M458.0 150.7H453.1V151.2H455.7M453.5 150.1H451.7V150.9H453.1M453.2 149.3H450.9V150.5H451.7M458.0 151.9H454.0V152.1H458.0M458.0 151.6H452.9V152.0H454.0M458.0 152.4H454.4V152.7H458.0M458.0 153.0H453.9V153.3H458.0M454.4 152.6H453.3V153.1H453.9M458.0 154.1H453.5V154.4H458.0M458.0 153.8H452.5V154.3H453.5M458.0 153.6H452.2V154.1H452.5M453.3 152.9H451.6V153.8H452.2M452.9 151.8H450.8V153.3H451.6M450.9 149.9H449.8V152.6H450.8M458.0 155.2H455.0V155.5H458.0M458.0 155.0H452.9V155.4H455.0M458.0 154.7H451.7V155.2H452.9M458.0 155.8H454.3V156.1H458.0M458.0 156.4H454.4V156.7H458.0M458.0 157.2H454.2V157.5H458.0M458.0 156.9H453.5V157.4H454.2M454.4 156.5H453.0V157.2H453.5M454.3 156.0H451.6V156.8H453.0M451.7 154.9H450.5V156.4H451.6M458.0 158.1H453.1V158.4H458.0M458.0 157.8H451.8V158.2H453.1M458.0 158.9H452.3V159.2H458.0M458.0 158.6H451.4V159.1H452.3M451.8 158.0H450.1V158.8H451.4M450.5 155.7H449.6V158.4H450.1M449.8 151.2H448.6V157.0H449.6M448.9 146.9H447.8V154.1H448.6M458.0 160.3H451.2V160.6H458.0M458.0 160.0H451.1V160.5H451.2M458.0 159.8H450.8V160.3H451.1M458.0 159.5H449.5V160.0H450.8M458.0 161.2H452.5V161.5H458.0M458.0 160.9H450.4V161.3H452.5M458.0 161.7H450.8V162.0H458.0M458.0 162.6H452.4V162.9H458.0M458.0 162.3H451.7V162.7H452.4M458.0 164.0H453.9V164.3H458.0M458.0 163.7H453.0V164.1H453.9M458.0 163.4H452.2V163.9H453.0M458.0 163.1H450.4V163.7H452.2M451.7 162.5H449.5V163.4H450.4M450.8 161.9H448.4V163.0H449.5M450.4 161.1H447.7V162.4H448.4M449.5 159.7H447.5V161.8H447.7M458.0 165.1H452.3V165.4H458.0M458.0 164.8H451.5V165.3H452.3M458.0 164.6H448.9V165.1H451.5M458.0 165.7H450.3V166.0H458.0M458.0 166.5H452.4V166.8H458.0M458.0 166.3H450.9V166.7H452.4M458.0 167.4H453.2V167.7H458.0M458.0 167.1H452.3V167.5H453.2M458.0 168.2H454.0V168.5H458.0M458.0 167.9H452.4V168.4H454.0M458.0 169.1H455.2V169.4H458.0M458.0 168.8H453.2V169.2H455.2M458.0 169.9H453.4V170.2H458.0M458.0 169.6H452.9V170.1H453.4M453.2 169.0H451.9V169.8H452.9M452.4 168.2H451.7V169.4H451.9M452.3 167.3H450.7V168.8H451.7M450.9 166.5H449.7V168.0H450.7M450.3 165.8H447.9V167.3H449.7M448.9 164.8H447.4V166.5H447.9M447.5 160.8H446.9V165.7H447.4M447.8 150.5H446.6V163.2H446.9M447.5 144.4H446.0V156.9H446.6M446.3 140.7H445.0V150.6H446.0M448.4 139.0H444.8V145.7H445.0M446.1 136.2H444.8V142.4H444.8M445.3 133.7H443.8V139.3H444.8M458.0 133.0H442.8V136.5H443.8M448.6 132.5H442.7V134.7H442.8M458.0 171.0H446.9V171.3H458.0M458.0 172.1H452.0V172.3H458.0M458.0 171.8H450.9V172.2H452.0M458.0 171.5H449.6V172.0H450.9M458.0 173.2H452.3V173.4H458.0M458.0 172.9H448.3V173.3H452.3M458.0 172.6H446.1V173.1H448.3M449.6 171.8H445.6V172.8H446.1M458.0 174.0H451.0V174.2H458.0M458.0 173.7H448.3V174.1H451.0M458.0 174.5H450.6V174.8H458.0M458.0 175.3H452.3V175.6H458.0M458.0 176.1H452.2V176.4H458.0M458.0 175.8H451.8V176.2H452.2M452.3 175.4H450.3V176.0H451.8M458.0 175.0H448.8V175.7H450.3M458.0 176.6H448.4V176.9H458.0M448.8 175.4H447.4V176.8H448.4M450.6 174.6H446.7V176.1H447.4M448.3 173.9H446.1V175.4H446.7M458.0 177.7H451.7V178.0H458.0M458.0 178.3H451.4V178.5H458.0M451.7 177.9H449.9V178.4H451.4M458.0 177.5H448.8V178.1H449.9M458.0 177.2H448.0V177.8H448.8M458.0 178.8H451.3V179.1H458.0M458.0 179.3H450.0V179.6H458.0M451.3 178.9H447.9V179.5H450.0M448.0 177.5H446.1V179.2H447.9M446.1 174.6H444.6V178.3H446.1M445.6 172.3H444.2V176.5H444.6M446.9 171.1H443.0V174.4H444.2M458.0 180.7H452.8V180.9H458.0M458.0 181.5H450.2V181.8H458.0M458.0 181.2H448.5V181.6H450.2M452.8 180.8H446.6V181.4H448.5M458.0 182.6H453.8V182.9H458.0M458.0 183.1H453.2V183.4H458.0M453.8 182.7H450.7V183.3H453.2M458.0 182.3H447.8V183.0H450.7M458.0 183.7H449.2V184.0H458.0M458.0 184.5H453.1V184.8H458.0M458.0 184.2H451.8V184.6H453.1M458.0 185.1H455.3V185.3H458.0M458.0 185.6H454.8V185.9H458.0M455.3 185.2H453.0V185.7H454.8M458.0 186.1H451.8V186.4H458.0M453.0 185.5H450.9V186.3H451.8M458.0 187.0H452.2V187.2H458.0M458.0 186.7H451.5V187.1H452.2M458.0 187.5H453.1V187.8H458.0M458.0 188.9H454.5V189.2H458.0M458.0 188.6H453.6V189.0H454.5M458.0 188.3H452.3V188.8H453.6M458.0 188.1H451.0V188.6H452.3M453.1 187.6H450.7V188.3H451.0M458.0 189.4H450.2V189.7H458.0M450.7 188.0H449.6V189.6H450.2M451.5 186.9H449.2V188.8H449.6M450.9 185.9H448.4V187.8H449.2M451.8 184.4H448.1V186.9H448.4M449.2 183.8H447.7V185.6H448.1M447.8 182.7H447.2V184.7H447.7M458.0 182.0H446.0V183.7H447.2M446.6 181.1H445.4V182.9H446.0M458.0 180.4H443.5V182.0H445.4M458.0 190.8H449.7V191.1H458.0M458.0 190.5H444.6V190.9H449.7M458.0 191.9H451.9V192.2H458.0M458.0 192.5H450.9V192.7H458.0M451.9 192.0H449.6V192.6H450.9M458.0 191.6H447.2V192.3H449.6M458.0 191.3H446.8V192.0H447.2M458.0 193.3H452.4V193.6H458.0M458.0 193.0H450.5V193.4H452.4M458.0 193.8H449.3V194.1H458.0M450.5 193.2H448.7V194.0H449.3M458.0 194.4H452.4V194.7H458.0M458.0 195.2H452.2V195.5H458.0M458.0 195.0H451.5V195.4H452.2M452.4 194.5H448.6V195.2H451.5M448.7 193.6H446.6V194.9H448.6M458.0 196.1H448.7V196.4H458.0M458.0 195.8H447.7V196.2H448.7M458.0 197.5H452.7V197.8H458.0M458.0 197.2H450.9V197.6H452.7M458.0 196.9H449.0V197.4H450.9M458.0 196.6H447.7V197.2H449.0M447.7 196.0H445.8V196.9H447.7M446.6 194.2H444.9V196.5H445.8M446.8 191.7H444.7V195.3H444.9M458.0 198.3H449.9V198.6H458.0M458.0 198.9H450.5V199.1H458.0M458.0 200.0H452.0V200.3H458.0M458.0 199.7H451.0V200.1H452.0M458.0 199.4H449.3V199.9H451.0M450.5 199.0H448.1V199.7H449.3M449.9 198.5H447.0V199.3H448.1M458.0 200.5H452.2V200.8H458.0M458.0 201.1H451.5V201.4H458.0M452.2 200.7H449.5V201.2H451.5M458.0 201.9H451.7V202.2H458.0M458.0 201.7H449.1V202.1H451.7M449.5 201.0H448.0V201.9H449.1M458.0 202.8H453.5V203.1H458.0M458.0 202.5H451.8V202.9H453.5M458.0 203.3H451.2V203.6H458.0M451.8 202.7H450.5V203.5H451.2M458.0 203.9H452.4V204.2H458.0M458.0 204.7H454.2V205.0H458.0M458.0 204.4H452.6V204.9H454.2M458.0 205.3H452.5V205.6H458.0M452.6 204.7H450.5V205.4H452.5M452.4 204.0H449.1V205.0H450.5M450.5 203.1H448.7V204.5H449.1M458.0 206.1H453.1V206.4H458.0M458.0 205.8H448.6V206.3H453.1M448.7 203.8H446.9V206.1H448.6M448.0 201.4H446.1V204.9H446.9M447.0 198.9H445.5V203.2H446.1M458.0 198.0H444.6V201.0H445.5M444.7 193.5H444.3V199.5H444.6M444.6 190.7H442.9V196.5H444.3M458.0 208.0H451.8V208.3H458.0M458.0 207.8H449.6V208.2H451.8M458.0 207.5H447.5V208.0H449.6M458.0 208.6H450.1V208.9H458.0M458.0 209.7H451.5V210.0H458.0M458.0 209.4H450.1V209.9H451.5M458.0 209.2H448.2V209.6H450.1M458.0 210.8H452.5V211.1H458.0M458.0 210.6H450.0V211.0H452.5M458.0 210.3H448.8V210.8H450.0M458.0 211.4H450.3V211.7H458.0M458.0 212.2H454.0V212.5H458.0M458.0 212.8H453.9V213.1H458.0M458.0 213.4H452.7V213.6H458.0M453.9 212.9H451.4V213.5H452.7M454.0 212.4H450.3V213.2H451.4M458.0 212.0H449.2V212.8H450.3M450.3 211.5H448.3V212.4H449.2M448.8 210.5H447.6V212.0H448.3M448.2 209.4H447.0V211.2H447.6M458.0 214.5H454.8V214.7H458.0M458.0 214.2H451.7V214.6H454.8M458.0 213.9H450.6V214.4H451.7M458.0 215.0H453.2V215.3H458.0M458.0 215.9H454.1V216.1H458.0M458.0 215.6H452.6V216.0H454.1M453.2 215.2H450.8V215.8H452.6M458.0 216.4H450.8V216.7H458.0M450.8 215.5H449.6V216.6H450.8M450.6 214.2H449.0V216.0H449.6M458.0 217.3H454.1V217.5H458.0M458.0 217.0H453.4V217.4H454.1M458.0 217.8H451.9V218.1H458.0M458.0 218.4H451.6V218.7H458.0M451.9 218.0H451.1V218.5H451.6M453.4 217.2H450.7V218.2H451.1M458.0 219.2H454.8V219.5H458.0M458.0 219.8H454.2V220.1H458.0M454.8 219.4H452.8V219.9H454.2M458.0 220.6H453.5V220.9H458.0M458.0 220.3H452.4V220.8H453.5M452.8 219.6H451.9V220.5H452.4M458.0 218.9H451.2V220.1H451.9M458.0 221.7H454.1V222.0H458.0M458.0 221.5H453.9V221.9H454.1M458.0 222.3H454.3V222.6H458.0M458.0 222.9H453.3V223.1H458.0M454.3 222.4H453.0V223.0H453.3M453.9 221.7H452.0V222.7H453.0M458.0 223.4H451.3V223.7H458.0M452.0 222.2H451.0V223.6H451.3M458.0 221.2H450.6V222.9H451.0M451.2 219.5H450.2V222.0H450.6M450.7 217.7H449.2V220.8H450.2M458.0 224.5H454.5V224.8H458.0M458.0 225.1H454.2V225.4H458.0M454.5 224.7H453.5V225.2H454.2M458.0 224.3H451.3V225.0H453.5M458.0 226.2H452.4V226.5H458.0M458.0 225.9H452.0V226.3H452.4M458.0 225.7H451.3V226.1H452.0M451.3 224.6H450.3V225.9H451.3M458.0 224.0H448.8V225.2H450.3M458.0 227.0H452.5V227.3H458.0M458.0 226.8H452.4V227.2H452.5M458.0 228.2H453.8V228.4H458.0M458.0 227.9H452.2V228.3H453.8M458.0 227.6H452.1V228.1H452.2M452.4 227.0H450.8V227.9H452.1M458.0 228.7H455.2V229.0H458.0M458.0 229.6H454.1V229.8H458.0M458.0 230.1H453.5V230.4H458.0M454.1 229.7H452.6V230.3H453.5M458.0 229.3H450.7V230.0H452.6M455.2 228.9H450.0V229.6H450.7M450.8 227.4H448.7V229.2H450.0M448.8 224.6H448.4V228.3H448.7M449.2 219.2H447.9V226.5H448.4M449.0 215.1H447.2V222.9H447.9M458.0 230.7H450.8V231.0H458.0M458.0 231.5H453.1V231.8H458.0M458.0 231.2H450.5V231.7H453.1M450.8 230.8H446.9V231.5H450.5M447.2 219.0H446.6V231.1H446.9M447.0 210.3H446.4V225.1H446.6M450.1 208.7H445.7V217.7H446.4M447.5 207.7H444.9V213.2H445.7M458.0 207.2H442.9V210.5H444.9M458.0 232.6H447.0V232.9H458.0M458.0 233.2H449.9V233.4H458.0M458.0 234.0H449.7V234.3H458.0M458.0 233.7H448.5V234.1H449.7M449.9 233.3H445.9V233.9H448.5M447.0 232.7H443.8V233.6H445.9M458.0 234.8H451.7V235.1H458.0M458.0 234.6H448.6V235.0H451.7M458.0 235.4H450.8V235.7H458.0M458.0 236.5H451.7V236.8H458.0M458.0 236.2H451.1V236.7H451.7M458.0 236.0H450.4V236.4H451.1M450.8 235.5H449.3V236.2H450.4M458.0 237.6H451.2V237.9H458.0M458.0 237.4H449.9V237.8H451.2M458.0 237.1H449.2V237.6H449.9M449.3 235.9H448.3V237.3H449.2M448.6 234.8H447.1V236.6H448.3M458.0 238.2H448.8V238.5H458.0M458.0 238.8H448.8V239.0H458.0M448.8 238.3H447.7V238.9H448.8M458.0 239.3H448.9V239.6H458.0M458.0 239.9H452.8V240.1H458.0M458.0 240.4H451.9V240.7H458.0M452.8 240.0H451.5V240.6H451.9M458.0 241.0H450.3V241.3H458.0M451.5 240.3H448.4V241.1H450.3M448.9 239.5H445.9V240.7H448.4M447.7 238.6H445.7V240.1H445.9M447.1 235.7H445.0V239.3H445.7M458.0 241.5H449.7V241.8H458.0M458.0 242.1H452.2V242.4H458.0M458.0 243.8H453.2V244.1H458.0M458.0 243.5H452.7V243.9H453.2M458.0 243.2H450.9V243.7H452.7M458.0 242.9H450.6V243.5H450.9M458.0 242.7H449.0V243.2H450.6M452.2 242.2H448.4V242.9H449.0M458.0 244.3H452.3V244.6H458.0M458.0 244.9H453.3V245.2H458.0M458.0 245.7H454.2V246.0H458.0M458.0 245.5H452.4V245.9H454.2M453.3 245.0H450.5V245.7H452.4M458.0 246.3H452.6V246.6H458.0M458.0 247.4H454.0V247.7H458.0M458.0 247.1H453.4V247.6H454.0M458.0 246.9H452.4V247.3H453.4M452.6 246.4H451.1V247.1H452.4M458.0 248.0H451.1V248.3H458.0M451.1 246.8H450.3V248.1H451.1M450.5 245.4H449.1V247.4H450.3M458.0 249.4H453.4V249.7H458.0M458.0 249.1H453.0V249.5H453.4M458.0 250.2H452.7V250.5H458.0M458.0 249.9H451.4V250.4H452.7M453.0 249.3H450.4V250.1H451.4M458.0 248.8H449.6V249.7H450.4M458.0 248.5H449.0V249.3H449.6M449.1 246.4H448.0V248.9H449.0M452.3 244.5H447.5V247.7H448.0M448.4 242.6H447.0V246.1H447.5M458.0 251.1H450.2V251.3H458.0M458.0 250.8H448.6V251.2H450.2M458.0 251.9H450.9V252.2H458.0M458.0 251.6H447.4V252.0H450.9M448.6 251.0H446.2V251.8H447.4M447.0 244.3H445.3V251.4H446.2M458.0 253.3H451.7V253.6H458.0M458.0 253.0H450.8V253.4H451.7M458.0 252.7H449.5V253.2H450.8M458.0 252.5H447.5V253.0H449.5M458.0 254.1H452.5V254.4H458.0M458.0 253.9H450.3V254.3H452.5M458.0 255.0H451.1V255.2H458.0M458.0 254.7H450.1V255.1H451.1M450.3 254.1H449.3V254.9H450.1M458.0 255.8H452.0V256.1H458.0M458.0 255.5H450.2V255.9H452.0M458.0 256.6H452.8V256.9H458.0M458.0 256.4H452.2V256.8H452.8M458.0 257.2H451.7V257.5H458.0M458.0 258.0H453.8V258.3H458.0M458.0 257.8H451.3V258.2H453.8M451.7 257.3H450.4V258.0H451.3M452.2 256.6H449.3V257.7H450.4M450.2 255.7H448.8V257.1H449.3M449.3 254.5H447.4V256.4H448.8M447.5 252.7H446.1V255.5H447.4M458.0 258.6H450.6V258.9H458.0M458.0 260.3H453.6V260.6H458.0M458.0 260.0H451.0V260.4H453.6M458.0 259.7H450.5V260.2H451.0M458.0 259.4H450.0V260.0H450.5M458.0 259.2H449.2V259.7H450.0M458.0 261.1H450.3V261.4H458.0M458.0 260.8H448.3V261.3H450.3M449.2 259.4H447.8V261.1H448.3M450.6 258.7H445.5V260.2H447.8M446.1 254.1H445.2V259.5H445.5M445.3 247.9H444.6V256.8H445.2M449.7 241.7H443.8V252.3H444.6M445.0 237.5H443.7V247.0H443.8M443.8 233.2H442.8V242.3H443.7M458.0 262.2H449.8V262.5H458.0M458.0 263.3H447.1V263.6H458.0M458.0 263.9H450.5V264.1H458.0M458.0 264.7H448.9V265.0H458.0M458.0 264.4H447.7V264.8H448.9M450.5 264.0H444.8V264.6H447.7M458.0 265.3H448.2V265.5H458.0M458.0 266.4H451.9V266.7H458.0M458.0 266.1H450.3V266.5H451.9M458.0 265.8H447.2V266.3H450.3M448.2 265.4H445.6V266.1H447.2M458.0 267.2H451.1V267.5H458.0M458.0 266.9H448.2V267.3H451.1M458.0 268.6H451.8V268.9H458.0M458.0 268.3H450.4V268.7H451.8M458.0 268.0H448.6V268.5H450.4M458.0 267.8H447.0V268.3H448.6M458.0 269.2H449.0V269.4H458.0M458.0 269.7H450.5V270.0H458.0M458.0 270.5H453.0V270.8H458.0M458.0 270.3H450.6V270.7H453.0M458.0 271.1H453.2V271.4H458.0M458.0 271.7H451.7V271.9H458.0M453.2 271.2H450.3V271.8H451.7M450.6 270.5H448.9V271.5H450.3M450.5 269.9H448.6V271.0H448.9M449.0 269.3H447.7V270.4H448.6M458.0 272.8H453.3V273.1H458.0M458.0 272.5H452.1V272.9H453.3M458.0 272.2H450.1V272.7H452.1M458.0 273.6H452.3V273.9H458.0M458.0 274.2H451.8V274.4H458.0M452.3 273.7H450.9V274.3H451.8M458.0 273.3H449.9V274.0H450.9M450.1 272.5H449.3V273.7H449.9M458.0 274.7H449.2V275.0H458.0M449.3 273.1H448.4V274.9H449.2M458.0 275.3H454.1V275.6H458.0M458.0 275.8H453.1V276.1H458.0M458.0 276.4H451.7V276.7H458.0M453.1 276.0H451.0V276.5H451.7M454.1 275.4H449.5V276.2H451.0M458.0 276.9H451.5V277.2H458.0M458.0 277.8H453.9V278.1H458.0M458.0 279.2H453.4V279.4H458.0M458.0 278.9H452.7V279.3H453.4M458.0 278.6H452.1V279.1H452.7M458.0 278.3H451.4V278.9H452.1M453.9 277.9H450.6V278.6H451.4M458.0 277.5H449.9V278.3H450.6M451.5 277.1H449.5V277.9H449.9M449.5 275.8H448.2V277.5H449.5M458.0 280.0H449.9V280.3H458.0M458.0 279.7H448.9V280.1H449.9M458.0 280.6H453.9V280.8H458.0M458.0 281.4H453.1V281.7H458.0M458.0 281.1H451.5V281.5H453.1M453.9 280.7H449.9V281.3H451.5M458.0 282.0H452.6V282.2H458.0M458.0 283.6H453.6V283.9H458.0M458.0 283.3H452.5V283.8H453.6M458.0 283.1H451.9V283.6H452.5M458.0 282.8H451.4V283.3H451.9M458.0 282.5H450.3V283.0H451.4M452.6 282.1H449.4V282.8H450.3M449.9 281.0H448.6V282.4H449.4M448.9 279.9H447.7V281.7H448.6M448.2 276.7H447.4V280.8H447.7M448.4 274.0H446.7V278.7H447.4M447.7 269.9H446.1V276.4H446.7M447.0 268.0H445.4V273.1H446.1M448.2 267.1H444.9V270.6H445.4M445.6 265.7H444.5V268.9H444.9M444.8 264.3H444.0V267.3H444.5M447.1 263.5H443.6V265.8H444.0M458.0 263.0H442.5V264.6H443.6M458.0 262.8H442.2V263.8H442.5M449.8 262.3H441.9V263.3H442.2M458.0 285.5H452.9V285.8H458.0M458.0 286.1H451.9V286.3H458.0M452.9 285.6H450.7V286.2H451.9M458.0 286.9H450.8V287.1H458.0M458.0 286.6H449.6V287.0H450.8M458.0 287.7H452.3V288.0H458.0M458.0 287.4H450.3V287.8H452.3M458.0 288.8H455.4V289.0H458.0M458.0 288.5H451.3V288.9H455.4M458.0 288.2H450.0V288.7H451.3M458.0 289.9H452.1V290.1H458.0M458.0 289.6H450.8V290.0H452.1M458.0 289.3H449.0V289.8H450.8M450.0 288.5H448.4V289.6H449.0M450.3 287.6H447.9V289.0H448.4M449.6 286.8H447.3V288.3H447.9M458.0 290.4H451.1V290.7H458.0M458.0 291.5H452.4V291.8H458.0M458.0 291.2H451.8V291.6H452.4M458.0 290.9H450.0V291.4H451.8M451.1 290.5H448.1V291.2H450.0M458.0 292.6H452.4V292.8H458.0M458.0 293.1H452.0V293.4H458.0M452.4 292.7H450.6V293.2H452.0M458.0 292.3H449.5V293.0H450.6M458.0 292.0H448.8V292.6H449.5M458.0 293.7H452.4V293.9H458.0M458.0 294.2H451.9V294.5H458.0M458.0 295.3H453.7V295.6H458.0M458.0 295.8H452.5V296.1H458.0M453.7 295.4H451.1V296.0H452.5M458.0 295.0H450.2V295.7H451.1M458.0 294.7H448.8V295.4H450.2M451.9 294.3H448.0V295.0H448.8M452.4 293.8H447.5V294.7H448.0M448.8 292.3H447.4V294.2H447.5M448.1 290.9H447.0V293.3H447.4M447.3 287.6H445.7V292.1H447.0M450.7 285.9H445.2V289.8H445.7M458.0 285.2H445.0V287.9H445.2M458.0 285.0H443.3V286.6H445.0M458.0 284.7H442.6V285.8H443.3M458.0 297.4H450.2V297.7H458.0M458.0 298.4H451.6V298.7H458.0M458.0 298.2H448.8V298.6H451.6M458.0 297.9H447.8V298.4H448.8M458.0 299.0H451.1V299.2H458.0M458.0 300.2H453.2V300.5H458.0M458.0 300.0H452.1V300.4H453.2M458.0 299.7H449.9V300.2H452.1M458.0 299.5H447.9V300.0H449.9M451.1 299.1H447.1V299.7H447.9M447.8 298.2H446.6V299.4H447.1M450.2 297.5H444.2V298.8H446.6M458.0 297.2H443.2V298.2H444.2M458.0 296.9H442.7V297.7H443.2M458.0 302.5H452.3V302.7H458.0M458.0 302.2H450.3V302.6H452.3M458.0 302.0H449.9V302.4H450.3M458.0 302.9H449.7V303.2H458.0M449.9 302.2H448.7V303.0H449.7M458.0 301.8H448.0V302.6H448.7M458.0 303.9H450.9V304.1H458.0M458.0 303.6H450.7V304.0H450.9M458.0 303.4H446.4V303.8H450.7M448.0 302.2H445.3V303.6H446.4M458.0 301.5H444.6V302.9H445.3M458.0 301.3H442.5V302.2H444.6M458.0 305.2H453.1V305.5H458.0M458.0 305.7H452.6V306.0H458.0M453.1 305.3H451.4V305.9H452.6M458.0 306.3H450.0V306.6H458.0M451.4 305.6H448.4V306.5H450.0M458.0 306.9H450.1V307.2H458.0M458.0 307.4H448.3V307.7H458.0M450.1 307.0H448.1V307.6H448.3M448.4 306.0H446.2V307.3H448.1M458.0 308.0H453.4V308.3H458.0M458.0 308.6H451.1V308.8H458.0M453.4 308.1H449.9V308.7H451.1M458.0 309.1H452.4V309.4H458.0M458.0 309.7H451.5V310.0H458.0M452.4 309.3H449.3V309.8H451.5M449.9 308.4H448.9V309.6H449.3M458.0 310.8H451.9V311.1H458.0M458.0 310.5H451.5V311.0H451.9M458.0 311.4H455.7V311.7H458.0M458.0 312.2H455.1V312.5H458.0M458.0 311.9H453.5V312.4H455.1M455.7 311.5H452.2V312.2H453.5M458.0 313.1H453.0V313.4H458.0M458.0 312.8H450.6V313.2H453.0M452.2 311.8H449.8V313.0H450.6M451.5 310.7H448.8V312.4H449.8M458.0 310.3H448.5V311.6H448.8M458.0 313.6H454.2V313.9H458.0M458.0 314.2H451.5V314.5H458.0M458.0 314.8H450.5V315.0H458.0M451.5 314.3H448.3V314.9H450.5M454.2 313.8H446.9V314.6H448.3M448.5 310.9H446.6V314.2H446.9M448.9 309.0H446.1V312.6H446.6M458.0 315.3H450.4V315.6H458.0M458.0 315.9H452.4V316.2H458.0M458.0 316.5H450.8V316.7H458.0M452.4 316.0H449.1V316.6H450.8M458.0 317.3H454.1V317.6H458.0M458.0 317.9H453.5V318.1H458.0M454.1 317.4H450.8V318.0H453.5M458.0 319.3H453.7V319.6H458.0M458.0 319.0H452.5V319.4H453.7M458.0 318.7H450.9V319.2H452.5M458.0 318.4H450.2V319.0H450.9M458.0 319.8H453.6V320.1H458.0M458.0 320.4H451.7V320.7H458.0M453.6 320.0H450.1V320.5H451.7M450.2 318.7H448.9V320.3H450.1M450.8 317.7H448.6V319.5H448.9M458.0 317.0H446.6V318.6H448.6M449.1 316.3H446.3V317.8H446.6M450.4 315.5H445.9V317.1H446.3M458.0 321.0H451.3V321.3H458.0M458.0 321.8H453.4V322.1H458.0M458.0 321.5H451.7V322.0H453.4M458.0 322.4H452.4V322.7H458.0M458.0 323.5H453.4V323.8H458.0M458.0 323.2H451.3V323.6H453.4M458.0 322.9H450.2V323.4H451.3M452.4 322.5H449.8V323.2H450.2M451.7 321.7H449.3V322.9H449.8M451.3 321.1H447.9V322.3H449.3M458.0 324.6H449.7V324.9H458.0M458.0 324.4H449.3V324.8H449.7M458.0 324.1H447.7V324.6H449.3M458.0 325.2H453.5V325.5H458.0M458.0 325.8H453.3V326.0H458.0M453.5 325.3H451.8V325.9H453.3M458.0 326.3H450.7V326.6H458.0M451.8 325.6H450.1V326.5H450.7M458.0 327.5H453.9V327.7H458.0M458.0 327.2H452.6V327.6H453.9M458.0 326.9H451.2V327.4H452.6M458.0 328.3H454.0V328.6H458.0M458.0 328.0H453.0V328.4H454.0M458.0 329.1H454.2V329.4H458.0M458.0 328.9H452.8V329.3H454.2M453.0 328.2H450.8V329.1H452.8M451.2 327.1H449.4V328.7H450.8M450.1 326.0H448.0V327.9H449.4M458.0 329.7H448.7V330.0H458.0M458.0 330.6H453.8V330.8H458.0M458.0 330.3H450.4V330.7H453.8M458.0 331.1H452.9V331.4H458.0M458.0 332.0H454.2V332.2H458.0M458.0 331.7H452.2V332.1H454.2M458.0 333.1H454.9V333.4H458.0M458.0 332.8H453.2V333.2H454.9M458.0 332.5H450.7V333.0H453.2M452.2 331.9H450.5V332.8H450.7M452.9 331.3H450.0V332.3H450.5M450.4 330.5H448.3V331.8H450.0M448.7 329.8H447.9V331.1H448.3M448.0 327.0H447.4V330.5H447.9M447.7 324.3H446.4V328.7H447.4M447.9 321.7H445.4V326.5H446.4M445.9 316.3H445.2V324.1H445.4M446.1 310.8H444.5V320.2H445.2M446.2 306.7H444.3V315.5H444.5M458.0 334.2H451.1V334.5H458.0M458.0 333.9H447.6V334.4H451.1M458.0 333.7H443.4V334.1H447.6M444.3 311.1H443.0V333.9H443.4M458.0 304.9H441.8V322.5H443.0M458.0 335.3H449.4V335.6H458.0M458.0 336.1H451.1V336.4H458.0M458.0 335.9H444.8V336.3H451.1M458.0 336.7H451.3V337.0H458.0M458.0 337.2H450.5V337.5H458.0M451.3 336.8H449.1V337.4H450.5M458.0 337.8H451.1V338.1H458.0M458.0 338.6H450.7V338.9H458.0M458.0 338.3H450.4V338.8H450.7M458.0 339.5H452.1V339.7H458.0M458.0 339.2H450.2V339.6H452.1M450.4 338.6H448.8V339.4H450.2M451.1 337.9H447.7V339.0H448.8M449.1 337.1H446.9V338.4H447.7M458.0 340.6H453.4V340.8H458.0M458.0 340.3H450.2V340.7H453.4M458.0 340.0H447.9V340.5H450.2M458.0 341.7H452.5V341.9H458.0M458.0 342.5H455.4V342.8H458.0M458.0 342.2H450.2V342.6H455.4M452.5 341.8H449.2V342.4H450.2M458.0 343.3H453.7V343.6H458.0M458.0 343.9H453.5V344.2H458.0M453.7 343.5H452.0V344.0H453.5M458.0 344.7H454.9V345.0H458.0M458.0 344.4H451.3V344.9H454.9M452.0 343.7H450.1V344.6H451.3M458.0 343.1H448.9V344.2H450.1M449.2 342.1H448.6V343.6H448.9M458.0 341.4H447.7V342.9H448.6M458.0 341.1H446.9V342.1H447.7M447.9 340.2H446.2V341.6H446.9M446.9 337.8H445.7V340.9H446.2M458.0 345.8H451.4V346.1H458.0M458.0 345.5H449.9V346.0H451.4M458.0 345.3H448.0V345.8H449.9M458.0 346.9H451.0V347.2H458.0M458.0 347.5H450.9V347.8H458.0M451.0 347.1H449.4V347.6H450.9M458.0 348.0H452.9V348.3H458.0M458.0 348.9H455.0V349.1H458.0M458.0 348.6H453.3V349.0H455.0M458.0 349.4H452.0V349.7H458.0M453.3 348.8H449.6V349.6H452.0M452.9 348.2H448.4V349.2H449.6M449.4 347.3H447.6V348.7H448.4M458.0 346.7H447.0V348.0H447.6M458.0 346.4H445.3V347.3H447.0M448.0 345.5H445.1V346.9H445.3M445.7 339.4H444.7V346.2H445.1M444.8 336.1H442.6V342.8H444.7M449.4 335.4H441.7V339.4H442.6M458.0 350.5H449.1V350.8H458.0M458.0 351.0H450.7V351.3H458.0M458.0 351.6H451.6V351.9H458.0M458.0 352.1H448.1V352.4H458.0M451.6 351.7H447.6V352.3H448.1M450.7 351.2H446.3V352.0H447.6M458.0 353.5H451.6V353.8H458.0M458.0 353.2H449.0V353.6H451.6M458.0 352.9H446.7V353.4H449.0M458.0 352.7H445.4V353.2H446.7M446.3 351.6H444.1V352.9H445.4M458.0 354.0H449.9V354.3H458.0M458.0 354.6H449.0V354.9H458.0M458.0 355.1H451.2V355.4H458.0M458.0 355.7H450.5V355.9H458.0M451.2 355.3H448.2V355.8H450.5M458.0 356.5H453.8V356.8H458.0M458.0 356.2H449.8V356.6H453.8M458.0 357.3H451.2V357.6H458.0M458.0 357.0H449.2V357.4H451.2M449.8 356.4H447.8V357.2H449.2M448.2 355.5H447.0V356.8H447.8M449.0 354.7H445.5V356.2H447.0M449.9 354.2H445.5V355.4H445.5M458.0 358.4H454.1V358.7H458.0M458.0 358.9H453.5V359.2H458.0M454.1 358.5H450.3V359.1H453.5M458.0 358.1H448.1V358.8H450.3M458.0 357.8H445.4V358.5H448.1M445.5 354.8H444.1V358.1H445.4M444.1 352.3H443.7V356.5H444.1M449.1 350.6H442.2V354.4H443.7M458.0 360.3H450.1V360.5H458.0M458.0 360.0H446.4V360.4H450.1M458.0 361.1H449.8V361.4H458.0M458.0 360.8H449.3V361.2H449.8M458.0 362.2H449.4V362.5H458.0M458.0 361.9H449.0V362.3H449.4M458.0 361.6H446.6V362.1H449.0M449.3 361.0H446.1V361.9H446.6M458.0 363.0H452.5V363.3H458.0M458.0 362.7H448.0V363.1H452.5M458.0 364.4H451.6V364.6H458.0M458.0 364.1H450.9V364.5H451.6M458.0 363.8H449.5V364.3H450.9M458.0 364.9H448.8V365.2H458.0M449.5 364.1H447.9V365.1H448.8M458.0 363.6H447.2V364.6H447.9M448.0 362.9H445.8V364.1H447.2M458.0 366.3H455.1V366.6H458.0M458.0 366.0H452.7V366.4H455.1M458.0 365.7H451.1V366.2H452.7M458.0 365.5H449.4V366.0H451.1M458.0 367.1H450.6V367.4H458.0M458.0 366.8H448.2V367.2H450.6M449.4 365.7H447.8V367.0H448.2M458.0 368.2H452.5V368.5H458.0M458.0 367.9H452.1V368.3H452.5M458.0 367.7H448.4V368.1H452.1M458.0 369.0H449.3V369.3H458.0M458.0 368.8H447.0V369.2H449.3M448.4 367.9H446.7V369.0H447.0M447.8 366.4H445.3V368.4H446.7M445.8 363.5H444.4V367.4H445.3M446.1 361.5H443.7V365.5H444.4M446.4 360.2H442.9V363.5H443.7M458.0 370.6H449.7V370.9H458.0M458.0 371.5H449.4V371.7H458.0M458.0 371.2H447.2V371.6H449.4M458.0 372.3H452.6V372.6H458.0M458.0 373.1H452.3V373.4H458.0M458.0 372.8H450.3V373.2H452.3M452.6 372.4H449.7V373.0H450.3M458.0 372.0H447.3V372.7H449.7M458.0 374.5H451.8V374.8H458.0M458.0 374.2H450.2V374.6H451.8M458.0 373.9H449.3V374.4H450.2M458.0 375.0H452.5V375.3H458.0M458.0 375.6H451.3V375.8H458.0M458.0 376.4H453.1V376.7H458.0M458.0 378.0H454.4V378.3H458.0M458.0 377.8H453.7V378.2H454.4M458.0 377.5H452.7V378.0H453.7M458.0 377.2H451.7V377.7H452.7M458.0 376.9H451.4V377.5H451.7M453.1 376.5H450.8V377.2H451.4M458.0 376.1H449.8V376.9H450.8M451.3 375.7H449.3V376.5H449.8M452.5 375.2H448.9V376.1H449.3M458.0 378.9H454.4V379.1H458.0M458.0 378.6H453.1V379.0H454.4M458.0 380.0H452.7V380.2H458.0M458.0 379.7H451.9V380.1H452.7M458.0 379.4H450.1V379.9H451.9M453.1 378.8H450.0V379.6H450.1M458.0 380.5H452.3V380.8H458.0M458.0 381.3H452.6V381.6H458.0M458.0 381.1H450.3V381.5H452.6M452.3 380.6H449.0V381.3H450.3M450.0 379.2H448.7V380.9H449.0M448.9 375.6H447.6V380.1H448.7M449.3 374.2H447.1V377.9H447.6M458.0 373.7H446.4V376.0H447.1M447.3 372.4H446.1V374.8H446.4M447.2 371.4H445.5V373.6H446.1M449.7 370.8H444.9V372.5H445.5M458.0 370.4H444.6V371.6H444.9M458.0 370.1H443.7V371.0H444.6M458.0 382.6H451.1V382.9H458.0M458.0 382.4H445.8V382.8H451.1M458.0 383.3H450.1V383.6H458.0M458.0 383.1H448.7V383.4H450.1M458.0 383.8H449.4V384.0H458.0M458.0 384.3H448.2V384.5H458.0M449.4 383.9H444.3V384.4H448.2M448.7 383.3H443.8V384.1H444.3M445.8 382.6H442.2V383.7H443.8"/><path fill="none" stroke="#333" stroke-width="0.4" d="M442.9 208.8H441.3V237.7H442.8M442.5 301.8H441.1V313.7H441.8M442.7 97.9H440.9V116.0H443.2M442.9 361.8H442.4V370.6H443.7M442.9 193.6H440.6V223.3H441.3M443.0 172.8H441.1V181.2H443.5M440.6 208.4H439.7V262.8H441.9M441.1 307.7H439.6V337.4H441.7M442.4 366.2H440.3V383.1H442.2M442.2 352.5H439.7V374.7H440.3M442.6 285.2H440.8V297.3H442.7M440.9 106.9H439.9V133.6H442.7M442.6 90.4H439.6V120.3H439.9M441.1 177.0H439.6V235.6H439.7M439.6 322.6H439.6V363.6H439.7M439.6 206.3H439.6V291.3H440.8M442.0 75.0H439.6V105.3H439.6M439.6 90.2H439.6V248.8H439.6M439.6 169.5H439.6V343.1H439.6"/><path fill="#000" d="M471.8,74.1 L460.7,74.3 L451.6,74.9 L450.4,76.7 L451.6,78.4 L460.7,79.0 L471.8,79.2ZM471.8,79.6 L460.5,80.1 L451.3,81.1 L450.1,88.1 L451.3,95.1 L460.5,96.1 L471.8,96.6ZM471.8,97.0 L460.3,97.5 L451.0,98.5 L449.8,105.5 L451.0,112.5 L460.3,113.5 L471.8,114.0ZM471.8,114.4 L460.9,114.9 L452.0,115.9 L450.8,123.1 L452.0,130.3 L460.9,131.3 L471.8,131.8ZM471.8,132.2 L461.4,132.7 L452.8,133.7 L451.6,151.3 L452.8,168.9 L461.4,169.9 L471.8,170.4ZM471.8,170.8 L460.3,171.3 L450.9,172.2 L449.7,175.3 L450.9,178.4 L460.3,179.3 L471.8,179.8ZM471.8,180.2 L460.8,180.7 L451.8,181.7 L450.6,185.1 L451.8,188.4 L460.8,189.4 L471.8,189.9ZM471.8,190.3 L461.6,190.8 L453.2,191.8 L452.0,198.4 L453.2,205.1 L461.6,206.1 L471.8,206.6ZM471.8,207.0 L461.6,207.5 L453.3,208.5 L452.1,219.5 L453.3,230.5 L461.6,231.5 L471.8,232.0ZM471.8,232.4 L460.3,232.9 L450.9,233.9 L449.7,247.0 L450.9,260.1 L460.3,261.1 L471.8,261.6ZM471.8,262.0 L461.5,262.5 L453.1,263.5 L451.9,273.1 L453.1,282.6 L461.5,283.6 L471.8,284.1ZM471.8,284.5 L461.6,285.0 L453.3,286.0 L452.1,290.4 L453.3,294.8 L461.6,295.8 L471.8,296.3ZM471.8,296.7 L460.5,296.9 L451.3,297.3 L450.1,298.7 L451.3,300.1 L460.5,300.5 L471.8,300.7ZM471.8,301.1 L461.3,301.2 L452.7,301.6 L451.5,302.7 L452.7,303.8 L461.3,304.2 L471.8,304.3ZM471.8,304.7 L460.2,305.2 L450.6,306.2 L449.4,319.7 L450.6,333.2 L460.2,334.2 L471.8,334.7ZM471.8,335.1 L461.0,335.6 L452.2,336.6 L451.0,342.5 L452.2,348.4 L461.0,349.4 L471.8,349.9ZM471.8,350.3 L460.8,350.8 L451.8,351.7 L450.6,354.9 L451.8,358.0 L460.8,358.9 L471.8,359.4ZM471.8,359.8 L461.0,360.3 L452.1,361.3 L450.9,364.6 L452.1,368.0 L461.0,369.0 L471.8,369.5ZM471.8,369.9 L461.4,370.4 L452.9,371.4 L451.7,375.9 L452.9,380.3 L461.4,381.3 L471.8,381.8ZM471.8,382.2 L461.7,382.3 L453.5,382.6 L452.3,383.4 L453.5,384.3 L461.7,384.6 L471.8,384.7Z"/><path fill="#fff" d="M464.3,151.2 L453.8,150.7 L453.8,151.7 ZM464.6,220.6 L454.3,220.3 L454.3,220.9 ZM465.5,247.2 L451.9,246.8 L451.9,247.6 ZM465.9,272.6 L454.1,272.2 L454.1,273.0 ZM466.2,322.7 L451.6,322.1 L451.6,323.3 Z"/></svg></body></html>
